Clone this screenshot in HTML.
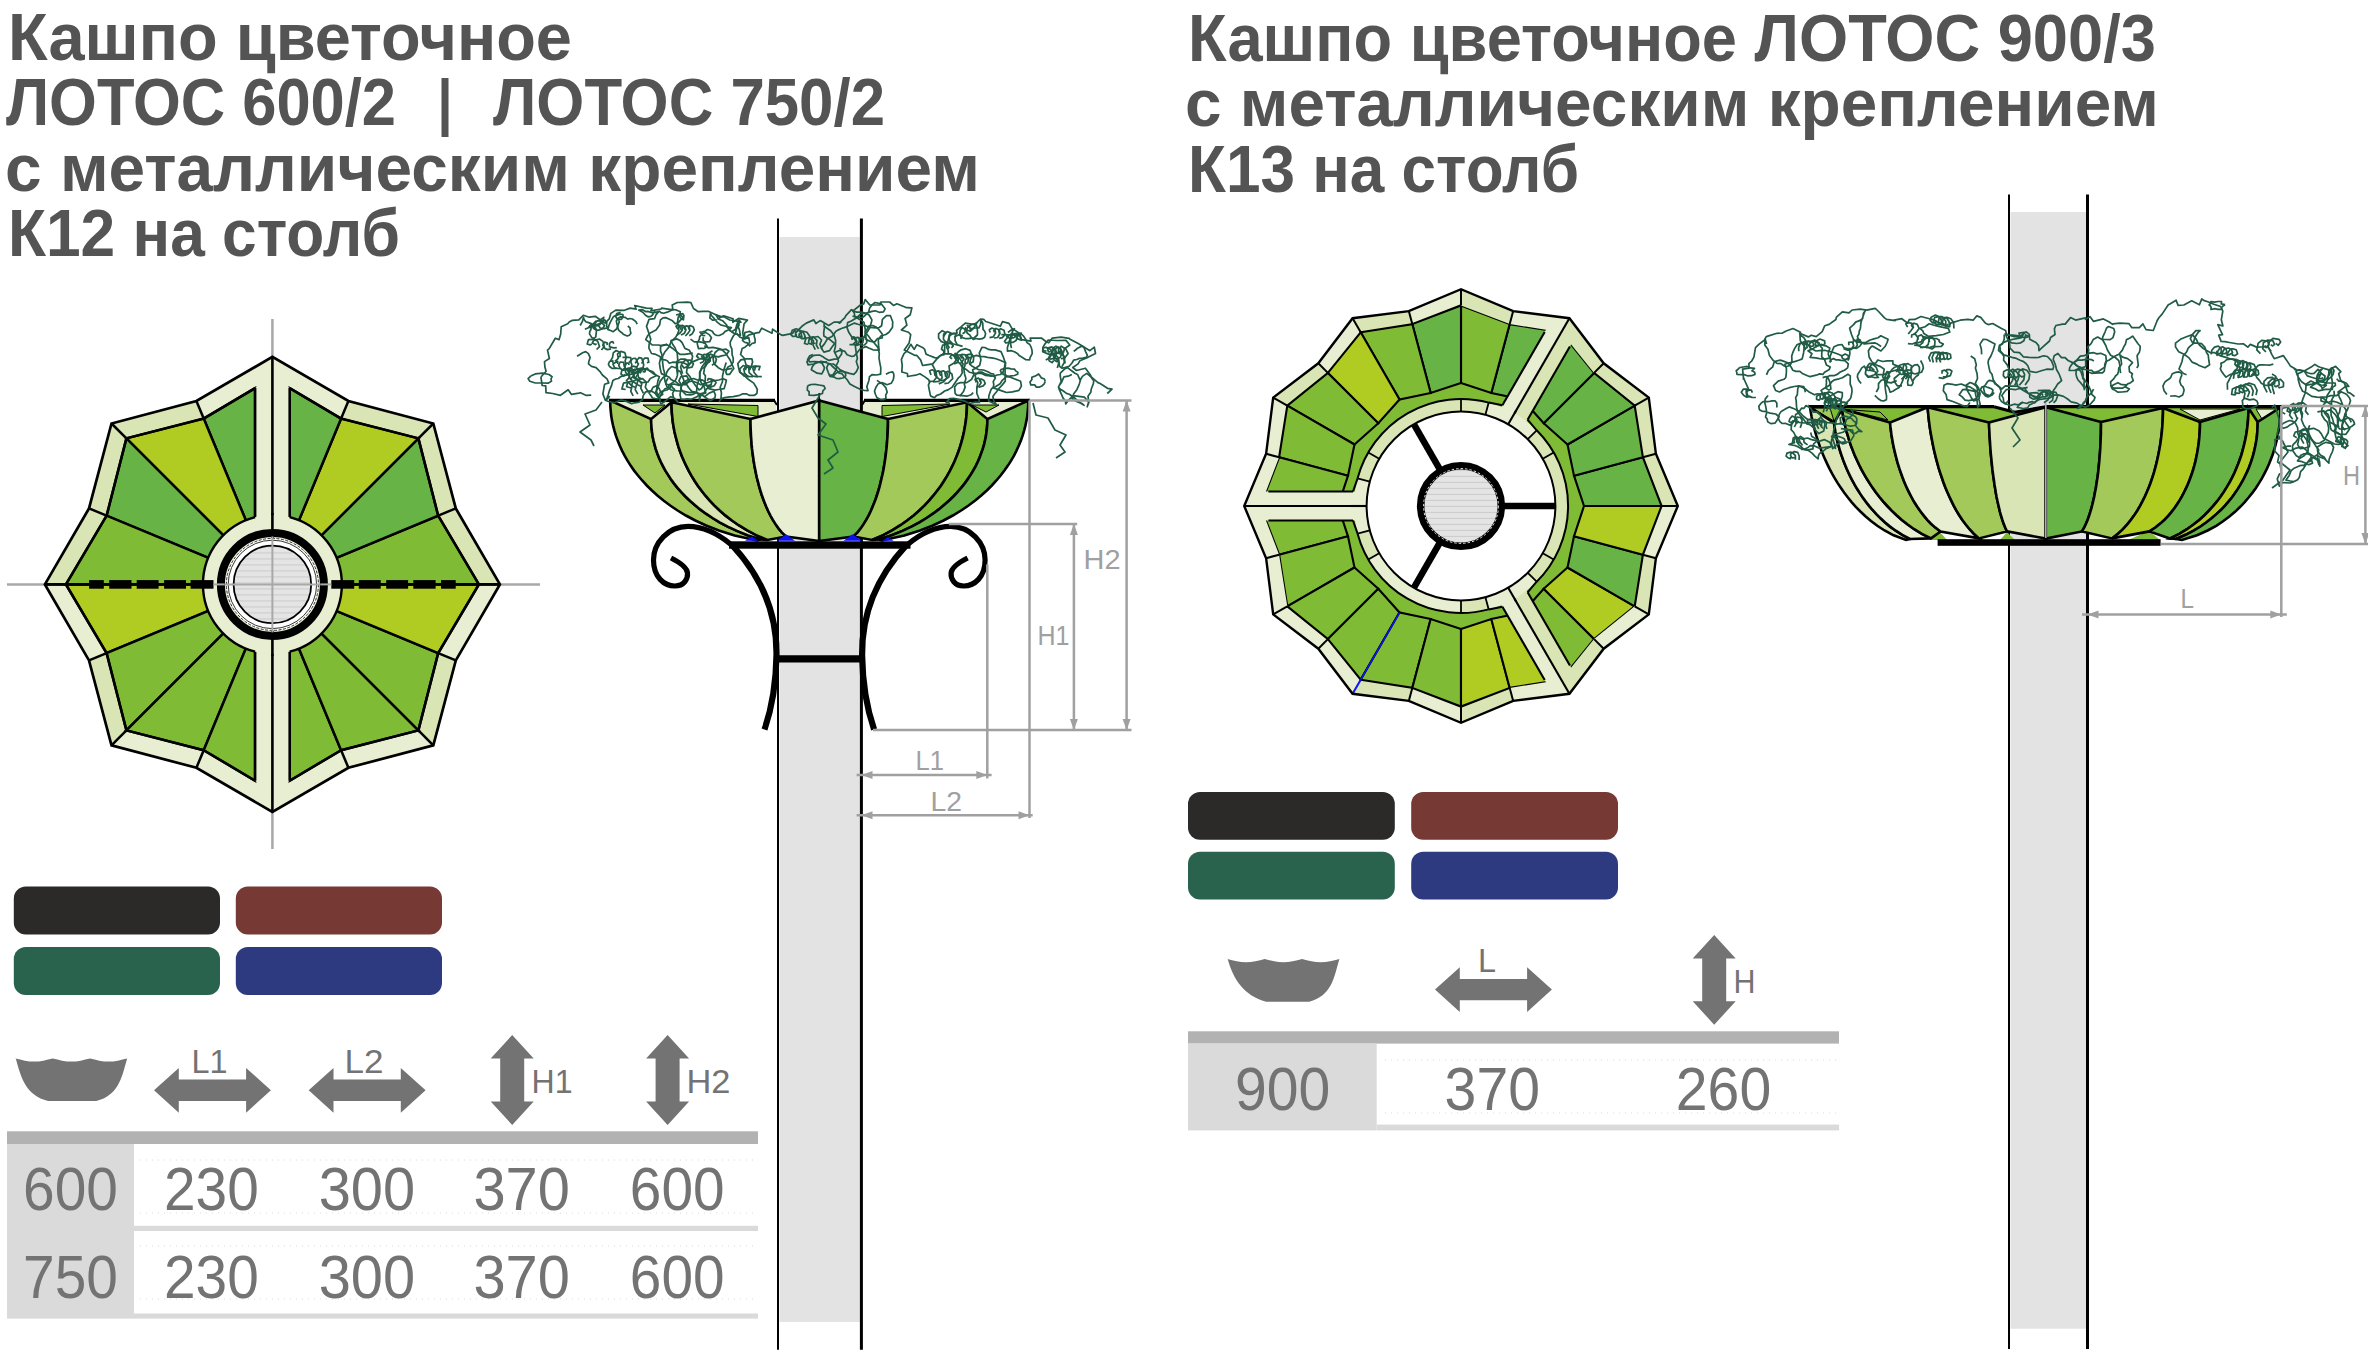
<!DOCTYPE html><html><head><meta charset="utf-8"><title>Лотос</title><style>html,body{margin:0;padding:0;background:#fff;overflow:hidden}svg{display:block}</style></head><body>
<svg width="2368" height="1367" viewBox="0 0 2368 1367">
<rect width="2368" height="1367" fill="#fff"/>
<text x="8" y="60" textLength="564" lengthAdjust="spacingAndGlyphs" font-family="Liberation Sans" font-weight="bold" font-size="66" fill="#545454">Кашпо цветочное</text>
<text x="6" y="125" textLength="390" lengthAdjust="spacingAndGlyphs" font-family="Liberation Sans" font-weight="bold" font-size="66" fill="#545454">ЛОТОС 600/2</text>
<rect x="441.5" y="78" width="7" height="59" fill="#545454"/>
<text x="493" y="125" textLength="392" lengthAdjust="spacingAndGlyphs" font-family="Liberation Sans" font-weight="bold" font-size="66" fill="#545454">ЛОТОС 750/2</text>
<text x="5" y="191" textLength="975" lengthAdjust="spacingAndGlyphs" font-family="Liberation Sans" font-weight="bold" font-size="66" fill="#545454">с металлическим креплением</text>
<text x="8" y="256" textLength="392" lengthAdjust="spacingAndGlyphs" font-family="Liberation Sans" font-weight="bold" font-size="66" fill="#545454">К12 на столб</text>
<text x="1188" y="61" textLength="968" lengthAdjust="spacingAndGlyphs" font-family="Liberation Sans" font-weight="bold" font-size="66" fill="#545454">Кашпо цветочное ЛОТОС 900/3</text>
<text x="1185" y="126" textLength="974" lengthAdjust="spacingAndGlyphs" font-family="Liberation Sans" font-weight="bold" font-size="66" fill="#545454">с металлическим креплением</text>
<text x="1188" y="192" textLength="391" lengthAdjust="spacingAndGlyphs" font-family="Liberation Sans" font-weight="bold" font-size="66" fill="#545454">К13 на столб</text>
<rect x="779.5" y="237" width="80.4" height="1085" fill="#e3e3e3"/>
<line x1="778" y1="218.5" x2="778" y2="1349.7" stroke="#000" stroke-width="2"/>
<line x1="861.4" y1="218.5" x2="861.4" y2="1349.7" stroke="#000" stroke-width="3"/>
<rect x="2010.5" y="212" width="75.5" height="1116.7" fill="#e3e3e3"/>
<line x1="2009" y1="194.5" x2="2009" y2="1349" stroke="#000" stroke-width="2"/>
<line x1="2087.5" y1="194.5" x2="2087.5" y2="1349" stroke="#000" stroke-width="3"/>
<line x1="7" y1="584.4" x2="540" y2="584.4" stroke="#a8a8a8" stroke-width="2.5"/>
<line x1="272.4" y1="319" x2="272.4" y2="849" stroke="#a8a8a8" stroke-width="2.5"/>
<polygon points="499.9,584.4 455.8,508.4 433.3,423.5 348.4,401 272.4,356.9 196.4,401 111.5,423.5 89,508.4 44.9,584.4 89,660.4 111.5,745.3 196.4,767.8 272.4,811.9 348.4,767.8 433.3,745.3 455.8,660.4" fill="#e7eed2"/>
<polygon points="499.9,584.4 455.8,508.4 438.2,515.7 478.9,584.4" fill="#d9e5b4"/>
<polygon points="455.8,508.4 433.3,423.5 418.4,438.4 438.2,515.7" fill="#d9e5b4"/>
<polygon points="433.3,423.5 348.4,401 341.1,418.6 418.4,438.4" fill="#d9e5b4"/>
<polygon points="348.4,401 272.4,356.9 272.4,377.9 341.1,418.6" fill="#e7eed2"/>
<polygon points="272.4,356.9 196.4,401 203.7,418.6 272.4,377.9" fill="#e7eed2"/>
<polygon points="196.4,401 111.5,423.5 126.4,438.4 203.7,418.6" fill="#d9e5b4"/>
<polygon points="111.5,423.5 89,508.4 106.6,515.7 126.4,438.4" fill="#d9e5b4"/>
<polygon points="89,508.4 44.9,584.4 65.9,584.4 106.6,515.7" fill="#d9e5b4"/>
<polygon points="44.9,584.4 89,660.4 106.6,653.1 65.9,584.4" fill="#e7eed2"/>
<polygon points="89,660.4 111.5,745.3 126.4,730.4 106.6,653.1" fill="#d9e5b4"/>
<polygon points="111.5,745.3 196.4,767.8 203.7,750.2 126.4,730.4" fill="#e7eed2"/>
<polygon points="196.4,767.8 272.4,811.9 272.4,790.9 203.7,750.2" fill="#e7eed2"/>
<polygon points="272.4,811.9 348.4,767.8 341.1,750.2 272.4,790.9" fill="#e7eed2"/>
<polygon points="348.4,767.8 433.3,745.3 418.4,730.4 341.1,750.2" fill="#e7eed2"/>
<polygon points="433.3,745.3 455.8,660.4 438.2,653.1 418.4,730.4" fill="#d9e5b4"/>
<polygon points="455.8,660.4 499.9,584.4 478.9,584.4 438.2,653.1" fill="#e7eed2"/>
<polygon points="272.4,584.4 478.9,584.4 438.2,515.7" fill="#7fbb34" stroke="#000" stroke-width="2.5" stroke-linejoin="miter"/>
<polygon points="272.4,584.4 438.2,515.7 418.4,438.4" fill="#67b346" stroke="#000" stroke-width="2.5" stroke-linejoin="miter"/>
<polygon points="272.4,584.4 418.4,438.4 341.1,418.6" fill="#b0cb22" stroke="#000" stroke-width="2.5" stroke-linejoin="miter"/>
<polygon points="289.7,542.6 341.1,418.6 289.7,388.1" fill="#67b346" stroke="#000" stroke-width="2.5" stroke-linejoin="miter"/>
<polygon points="255.1,388.1 203.7,418.6 255.1,542.6" fill="#67b346" stroke="#000" stroke-width="2.5" stroke-linejoin="miter"/>
<polygon points="272.4,584.4 203.7,418.6 126.4,438.4" fill="#b0cb22" stroke="#000" stroke-width="2.5" stroke-linejoin="miter"/>
<polygon points="272.4,584.4 126.4,438.4 106.6,515.7" fill="#67b346" stroke="#000" stroke-width="2.5" stroke-linejoin="miter"/>
<polygon points="272.4,584.4 106.6,515.7 65.9,584.4" fill="#7fbb34" stroke="#000" stroke-width="2.5" stroke-linejoin="miter"/>
<polygon points="272.4,584.4 65.9,584.4 106.6,653.1" fill="#b0cb22" stroke="#000" stroke-width="2.5" stroke-linejoin="miter"/>
<polygon points="272.4,584.4 106.6,653.1 126.4,730.4" fill="#7fbb34" stroke="#000" stroke-width="2.5" stroke-linejoin="miter"/>
<polygon points="272.4,584.4 126.4,730.4 203.7,750.2" fill="#7fbb34" stroke="#000" stroke-width="2.5" stroke-linejoin="miter"/>
<polygon points="255.1,626.2 203.7,750.2 255.1,780.7" fill="#7fbb34" stroke="#000" stroke-width="2.5" stroke-linejoin="miter"/>
<polygon points="289.7,780.7 341.1,750.2 289.7,626.2" fill="#7fbb34" stroke="#000" stroke-width="2.5" stroke-linejoin="miter"/>
<polygon points="272.4,584.4 341.1,750.2 418.4,730.4" fill="#7fbb34" stroke="#000" stroke-width="2.5" stroke-linejoin="miter"/>
<polygon points="272.4,584.4 418.4,730.4 438.2,653.1" fill="#7fbb34" stroke="#000" stroke-width="2.5" stroke-linejoin="miter"/>
<polygon points="272.4,584.4 438.2,653.1 478.9,584.4" fill="#b0cb22" stroke="#000" stroke-width="2.5" stroke-linejoin="miter"/>
<polygon points="255.1,388.1 272.4,377.9 289.7,388.1 289.7,780.7 272.4,790.9 255.1,780.7" fill="#e7eed2"/>
<line x1="255.1" y1="388.1" x2="255.1" y2="780.7" stroke="#000" stroke-width="2.6"/>
<line x1="289.7" y1="388.1" x2="289.7" y2="780.7" stroke="#000" stroke-width="2.6"/>
<line x1="499.9" y1="584.4" x2="478.9" y2="584.4" stroke="#000" stroke-width="2.5"/>
<line x1="455.8" y1="508.4" x2="438.2" y2="515.7" stroke="#000" stroke-width="2.5"/>
<line x1="433.3" y1="423.5" x2="418.4" y2="438.4" stroke="#000" stroke-width="2.5"/>
<line x1="348.4" y1="401" x2="341.1" y2="418.6" stroke="#000" stroke-width="2.5"/>
<line x1="196.4" y1="401" x2="203.7" y2="418.6" stroke="#000" stroke-width="2.5"/>
<line x1="111.5" y1="423.5" x2="126.4" y2="438.4" stroke="#000" stroke-width="2.5"/>
<line x1="89" y1="508.4" x2="106.6" y2="515.7" stroke="#000" stroke-width="2.5"/>
<line x1="44.9" y1="584.4" x2="65.9" y2="584.4" stroke="#000" stroke-width="2.5"/>
<line x1="89" y1="660.4" x2="106.6" y2="653.1" stroke="#000" stroke-width="2.5"/>
<line x1="111.5" y1="745.3" x2="126.4" y2="730.4" stroke="#000" stroke-width="2.5"/>
<line x1="196.4" y1="767.8" x2="203.7" y2="750.2" stroke="#000" stroke-width="2.5"/>
<line x1="348.4" y1="767.8" x2="341.1" y2="750.2" stroke="#000" stroke-width="2.5"/>
<line x1="433.3" y1="745.3" x2="418.4" y2="730.4" stroke="#000" stroke-width="2.5"/>
<line x1="455.8" y1="660.4" x2="438.2" y2="653.1" stroke="#000" stroke-width="2.5"/>
<line x1="478.9" y1="584.4" x2="438.2" y2="515.7" stroke="#000" stroke-width="2.5"/>
<line x1="438.2" y1="515.7" x2="418.4" y2="438.4" stroke="#000" stroke-width="2.5"/>
<line x1="418.4" y1="438.4" x2="341.1" y2="418.6" stroke="#000" stroke-width="2.5"/>
<line x1="341.1" y1="418.6" x2="289.7" y2="388.1" stroke="#000" stroke-width="2.5"/>
<line x1="255.1" y1="388.1" x2="203.7" y2="418.6" stroke="#000" stroke-width="2.5"/>
<line x1="203.7" y1="418.6" x2="126.4" y2="438.4" stroke="#000" stroke-width="2.5"/>
<line x1="126.4" y1="438.4" x2="106.6" y2="515.7" stroke="#000" stroke-width="2.5"/>
<line x1="106.6" y1="515.7" x2="65.9" y2="584.4" stroke="#000" stroke-width="2.5"/>
<line x1="65.9" y1="584.4" x2="106.6" y2="653.1" stroke="#000" stroke-width="2.5"/>
<line x1="106.6" y1="653.1" x2="126.4" y2="730.4" stroke="#000" stroke-width="2.5"/>
<line x1="126.4" y1="730.4" x2="203.7" y2="750.2" stroke="#000" stroke-width="2.5"/>
<line x1="203.7" y1="750.2" x2="255.1" y2="780.7" stroke="#000" stroke-width="2.5"/>
<line x1="289.7" y1="780.7" x2="341.1" y2="750.2" stroke="#000" stroke-width="2.5"/>
<line x1="341.1" y1="750.2" x2="418.4" y2="730.4" stroke="#000" stroke-width="2.5"/>
<line x1="418.4" y1="730.4" x2="438.2" y2="653.1" stroke="#000" stroke-width="2.5"/>
<line x1="438.2" y1="653.1" x2="478.9" y2="584.4" stroke="#000" stroke-width="2.5"/>
<polygon points="499.9,584.4 455.8,508.4 433.3,423.5 348.4,401 272.4,356.9 196.4,401 111.5,423.5 89,508.4 44.9,584.4 89,660.4 111.5,745.3 196.4,767.8 272.4,811.9 348.4,767.8 433.3,745.3 455.8,660.4" fill="none" stroke="#000" stroke-width="2.7" stroke-linejoin="miter"/>
<line x1="272.4" y1="356.9" x2="272.4" y2="811.9" stroke="#000" stroke-width="2.6"/>
<line x1="44.9" y1="584.4" x2="499.9" y2="584.4" stroke="#000" stroke-width="2.6"/>
<circle cx="272.4" cy="584.4" r="69.5" fill="#e7eed2"/>
<path d="M255.1,651.7 A69.5,69.5 0 0 1 255.1,517.1" fill="none" stroke="#000" stroke-width="2.4"/>
<path d="M289.7,517.1 A69.5,69.5 0 0 1 289.7,651.7" fill="none" stroke="#000" stroke-width="2.4"/>
<line x1="272.4" y1="512.9" x2="272.4" y2="655.9" stroke="#000" stroke-width="2.6"/>
<rect x="331.3" y="580.1" width="22.9" height="8.6" fill="#000"/>
<rect x="358.8" y="580.1" width="21.9" height="8.6" fill="#000"/>
<rect x="386.2" y="580.1" width="21.9" height="8.6" fill="#000"/>
<rect x="413.3" y="580.1" width="22.3" height="8.6" fill="#000"/>
<rect x="441" y="580.1" width="14.7" height="8.6" fill="#000"/>
<rect x="190.6" y="580.1" width="22.9" height="8.6" fill="#000"/>
<rect x="164.1" y="580.1" width="21.9" height="8.6" fill="#000"/>
<rect x="136.7" y="580.1" width="21.9" height="8.6" fill="#000"/>
<rect x="109.2" y="580.1" width="22.3" height="8.6" fill="#000"/>
<rect x="89.1" y="580.1" width="14.7" height="8.6" fill="#000"/>
<circle cx="272.4" cy="584.4" r="51.5" fill="none" stroke="#000" stroke-width="8"/>
<circle cx="272.4" cy="584.4" r="46.3" fill="#fff" stroke="none"/>
<circle cx="272.4" cy="584.4" r="46" fill="none" stroke="#000" stroke-width="0.8" stroke-dasharray="3 1.5"/>
<circle cx="272.4" cy="584.4" r="44.2" fill="none" stroke="#000" stroke-width="0.8"/>
<clipPath id="hl"><circle cx="272.4" cy="584.4" r="38.5"/></clipPath>
<circle cx="272.4" cy="584.4" r="38.5" fill="#e4e4e4"/>
<g clip-path="url(#hl)" stroke="#c4c4c4" stroke-width="0.8">
<line x1="233.9" y1="546.9" x2="310.9" y2="546.9"/>
<line x1="233.9" y1="552.9" x2="310.9" y2="552.9"/>
<line x1="233.9" y1="558.9" x2="310.9" y2="558.9"/>
<line x1="233.9" y1="564.9" x2="310.9" y2="564.9"/>
<line x1="233.9" y1="570.9" x2="310.9" y2="570.9"/>
<line x1="233.9" y1="576.9" x2="310.9" y2="576.9"/>
<line x1="233.9" y1="582.9" x2="310.9" y2="582.9"/>
<line x1="233.9" y1="588.9" x2="310.9" y2="588.9"/>
<line x1="233.9" y1="594.9" x2="310.9" y2="594.9"/>
<line x1="233.9" y1="600.9" x2="310.9" y2="600.9"/>
<line x1="233.9" y1="606.9" x2="310.9" y2="606.9"/>
<line x1="233.9" y1="612.9" x2="310.9" y2="612.9"/>
<line x1="233.9" y1="618.9" x2="310.9" y2="618.9"/>
</g>
<circle cx="272.4" cy="584.4" r="38.8" fill="none" stroke="#000" stroke-width="1.8"/>
<line x1="224.4" y1="584.4" x2="320.4" y2="584.4" stroke="#a8a8a8" stroke-width="2"/>
<line x1="272.4" y1="536.4" x2="272.4" y2="632.4" stroke="#a8a8a8" stroke-width="2"/>
<line x1="320.4" y1="584.4" x2="331.3" y2="584.4" stroke="#a8a8a8" stroke-width="2"/>
<line x1="224.4" y1="584.4" x2="213.5" y2="584.4" stroke="#a8a8a8" stroke-width="2"/>
<polygon points="1677.8,506 1655.9,453.8 1648.8,397.6 1603.7,363.3 1569.4,318.2 1513.2,311.1 1461,289.2 1408.8,311.1 1352.6,318.2 1318.3,363.3 1273.2,397.6 1266.1,453.8 1244.2,506 1266.1,558.2 1273.2,614.4 1318.3,648.7 1352.6,693.8 1408.8,700.9 1461,722.8 1513.2,700.9 1569.4,693.8 1603.7,648.7 1648.8,614.4 1655.9,558.2" fill="#e7eed2"/>
<polygon points="1677.8,506 1655.9,453.8 1642.9,457.3 1661.6,506" fill="#d9e5b4"/>
<polygon points="1655.9,453.8 1648.8,397.6 1634.7,405.7 1642.9,457.3" fill="#d9e5b4"/>
<polygon points="1648.8,397.6 1603.7,363.3 1594.1,372.9 1634.7,405.7" fill="#d9e5b4"/>
<polygon points="1603.7,363.3 1569.4,318.2 1561.3,332.3 1594.1,372.9" fill="#d9e5b4"/>
<polygon points="1569.4,318.2 1513.2,311.1 1509.7,324.1 1561.3,332.3" fill="#e7eed2"/>
<polygon points="1513.2,311.1 1461,289.2 1461,305.4 1509.7,324.1" fill="#d9e5b4"/>
<polygon points="1461,289.2 1408.8,311.1 1412.3,324.1 1461,305.4" fill="#e7eed2"/>
<polygon points="1408.8,311.1 1352.6,318.2 1360.7,332.3 1412.3,324.1" fill="#d9e5b4"/>
<polygon points="1352.6,318.2 1318.3,363.3 1327.9,372.9 1360.7,332.3" fill="#e7eed2"/>
<polygon points="1318.3,363.3 1273.2,397.6 1287.3,405.7 1327.9,372.9" fill="#d9e5b4"/>
<polygon points="1273.2,397.6 1266.1,453.8 1279.1,457.3 1287.3,405.7" fill="#e7eed2"/>
<polygon points="1266.1,453.8 1244.2,506 1260.4,506 1279.1,457.3" fill="#e7eed2"/>
<polygon points="1244.2,506 1266.1,558.2 1279.1,554.7 1260.4,506" fill="#e7eed2"/>
<polygon points="1266.1,558.2 1273.2,614.4 1287.3,606.3 1279.1,554.7" fill="#e7eed2"/>
<polygon points="1273.2,614.4 1318.3,648.7 1327.9,639.1 1287.3,606.3" fill="#e7eed2"/>
<polygon points="1318.3,648.7 1352.6,693.8 1360.7,679.7 1327.9,639.1" fill="#e7eed2"/>
<polygon points="1352.6,693.8 1408.8,700.9 1412.3,687.9 1360.7,679.7" fill="#d9e5b4"/>
<polygon points="1408.8,700.9 1461,722.8 1461,706.6 1412.3,687.9" fill="#e7eed2"/>
<polygon points="1461,722.8 1513.2,700.9 1509.7,687.9 1461,706.6" fill="#d9e5b4"/>
<polygon points="1513.2,700.9 1569.4,693.8 1561.3,679.7 1509.7,687.9" fill="#e7eed2"/>
<polygon points="1569.4,693.8 1603.7,648.7 1594.1,639.1 1561.3,679.7" fill="#d9e5b4"/>
<polygon points="1603.7,648.7 1648.8,614.4 1634.7,606.3 1594.1,639.1" fill="#e7eed2"/>
<polygon points="1648.8,614.4 1655.9,558.2 1642.9,554.7 1634.7,606.3" fill="#d9e5b4"/>
<polygon points="1655.9,558.2 1677.8,506 1661.6,506 1642.9,554.7" fill="#e7eed2"/>
<polygon points="1661.6,506 1642.9,457.3 1634.7,405.7 1594.1,372.9 1561.3,332.3 1509.7,324.1 1461,305.4 1412.3,324.1 1360.7,332.3 1327.9,372.9 1287.3,405.7 1279.1,457.3 1260.4,506 1279.1,554.7 1287.3,606.3 1327.9,639.1 1360.7,679.7 1412.3,687.9 1461,706.6 1509.7,687.9 1561.3,679.7 1594.1,639.1 1634.7,606.3 1642.9,554.7" fill="#7fbb34"/>
<polygon points="1584,506 1661.6,506 1642.9,457.3 1574,475.7" fill="#67b346" stroke="#000" stroke-width="2.1" stroke-linejoin="miter"/>
<polygon points="1574,475.7 1642.9,457.3 1634.7,405.7 1567.5,444.5" fill="#67b346" stroke="#000" stroke-width="2.1" stroke-linejoin="miter"/>
<polygon points="1567.5,444.5 1634.7,405.7 1594.1,372.9 1543.7,423.3" fill="#67b346" stroke="#000" stroke-width="2.1" stroke-linejoin="miter"/>
<polygon points="1543.7,423.3 1594.1,372.9 1561.3,332.3 1522.5,399.5" fill="#67b346" stroke="#000" stroke-width="2.1" stroke-linejoin="miter"/>
<polygon points="1522.5,399.5 1561.3,332.3 1509.7,324.1 1491.3,393" fill="#67b346" stroke="#000" stroke-width="2.1" stroke-linejoin="miter"/>
<polygon points="1491.3,393 1509.7,324.1 1461,305.4 1461,383" fill="#7fbb34" stroke="#000" stroke-width="2.1" stroke-linejoin="miter"/>
<polygon points="1461,383 1461,305.4 1412.3,324.1 1430.7,393" fill="#67b346" stroke="#000" stroke-width="2.1" stroke-linejoin="miter"/>
<polygon points="1430.7,393 1412.3,324.1 1360.7,332.3 1399.5,399.5" fill="#7fbb34" stroke="#000" stroke-width="2.1" stroke-linejoin="miter"/>
<polygon points="1399.5,399.5 1360.7,332.3 1327.9,372.9 1378.3,423.3" fill="#b0cb22" stroke="#000" stroke-width="2.1" stroke-linejoin="miter"/>
<polygon points="1378.3,423.3 1327.9,372.9 1287.3,405.7 1354.5,444.5" fill="#7fbb34" stroke="#000" stroke-width="2.1" stroke-linejoin="miter"/>
<polygon points="1354.5,444.5 1287.3,405.7 1279.1,457.3 1348,475.7" fill="#7fbb34" stroke="#000" stroke-width="2.1" stroke-linejoin="miter"/>
<polygon points="1348,475.7 1279.1,457.3 1260.4,506 1338,506" fill="#7fbb34" stroke="#000" stroke-width="2.1" stroke-linejoin="miter"/>
<polygon points="1338,506 1260.4,506 1279.1,554.7 1348,536.3" fill="#7fbb34" stroke="#000" stroke-width="2.1" stroke-linejoin="miter"/>
<polygon points="1348,536.3 1279.1,554.7 1287.3,606.3 1354.5,567.5" fill="#7fbb34" stroke="#000" stroke-width="2.1" stroke-linejoin="miter"/>
<polygon points="1354.5,567.5 1287.3,606.3 1327.9,639.1 1378.3,588.7" fill="#7fbb34" stroke="#000" stroke-width="2.1" stroke-linejoin="miter"/>
<polygon points="1378.3,588.7 1327.9,639.1 1360.7,679.7 1399.5,612.5" fill="#7fbb34" stroke="#000" stroke-width="2.1" stroke-linejoin="miter"/>
<polygon points="1399.5,612.5 1360.7,679.7 1412.3,687.9 1430.7,619" fill="#7fbb34" stroke="#000" stroke-width="2.1" stroke-linejoin="miter"/>
<polygon points="1430.7,619 1412.3,687.9 1461,706.6 1461,629" fill="#7fbb34" stroke="#000" stroke-width="2.1" stroke-linejoin="miter"/>
<polygon points="1461,629 1461,706.6 1509.7,687.9 1491.3,619" fill="#b0cb22" stroke="#000" stroke-width="2.1" stroke-linejoin="miter"/>
<polygon points="1491.3,619 1509.7,687.9 1561.3,679.7 1522.5,612.5" fill="#b0cb22" stroke="#000" stroke-width="2.1" stroke-linejoin="miter"/>
<polygon points="1522.5,612.5 1561.3,679.7 1594.1,639.1 1543.7,588.7" fill="#7fbb34" stroke="#000" stroke-width="2.1" stroke-linejoin="miter"/>
<polygon points="1543.7,588.7 1594.1,639.1 1634.7,606.3 1567.5,567.5" fill="#b0cb22" stroke="#000" stroke-width="2.1" stroke-linejoin="miter"/>
<polygon points="1567.5,567.5 1634.7,606.3 1642.9,554.7 1574,536.3" fill="#67b346" stroke="#000" stroke-width="2.1" stroke-linejoin="miter"/>
<polygon points="1574,536.3 1642.9,554.7 1661.6,506 1584,506" fill="#b0cb22" stroke="#000" stroke-width="2.1" stroke-linejoin="miter"/>
<polygon points="1513.5,415.1 1566.4,323.4 1579,330.7 1526.1,422.3" fill="#d9e5b4"/>
<polygon points="1513.5,415.1 1566.4,323.4 1553.8,316.2 1500.9,407.8" fill="#e7eed2"/>
<polygon points="1356,506 1250.2,506 1250.2,491.5 1356,491.5" fill="#e7eed2"/>
<polygon points="1356,506 1250.2,506 1250.2,520.5 1356,520.5" fill="#e7eed2"/>
<polygon points="1513.5,596.9 1566.4,688.6 1553.8,695.8 1500.9,604.2" fill="#e7eed2"/>
<polygon points="1513.5,596.9 1566.4,688.6 1579,681.3 1526.1,589.7" fill="#d9e5b4"/>
<polygon points="1603.7,363.3 1569.4,318.2 1561.3,332.3 1594.1,372.9" fill="#d9e5b4"/>
<polygon points="1569.4,318.2 1513.2,311.1 1509.7,324.1 1561.3,332.3" fill="#e7eed2"/>
<polygon points="1513.2,311.1 1461,289.2 1461,305.4 1509.7,324.1" fill="#d9e5b4"/>
<polygon points="1266.1,453.8 1244.2,506 1260.4,506 1279.1,457.3" fill="#e7eed2"/>
<polygon points="1244.2,506 1266.1,558.2 1279.1,554.7 1260.4,506" fill="#e7eed2"/>
<polygon points="1266.1,558.2 1273.2,614.4 1287.3,606.3 1279.1,554.7" fill="#e7eed2"/>
<polygon points="1513.2,700.9 1569.4,693.8 1561.3,679.7 1509.7,687.9" fill="#e7eed2"/>
<polygon points="1569.4,693.8 1603.7,648.7 1594.1,639.1 1561.3,679.7" fill="#d9e5b4"/>
<polygon points="1603.7,648.7 1648.8,614.4 1634.7,606.3 1594.1,639.1" fill="#e7eed2"/>
<line x1="1527.6" y1="419.7" x2="1569.9" y2="346.5" stroke="#000" stroke-width="2.1"/>
<line x1="1502.4" y1="405.2" x2="1544.7" y2="332" stroke="#000" stroke-width="2.1"/>
<line x1="1508.2" y1="424.2" x2="1569.4" y2="318.2" stroke="#000" stroke-width="2.1"/>
<line x1="1353" y1="491.5" x2="1268.4" y2="491.5" stroke="#000" stroke-width="2.1"/>
<line x1="1353" y1="520.5" x2="1268.4" y2="520.5" stroke="#000" stroke-width="2.1"/>
<line x1="1366.6" y1="506" x2="1244.2" y2="506" stroke="#000" stroke-width="2.1"/>
<line x1="1502.4" y1="606.8" x2="1544.7" y2="680" stroke="#000" stroke-width="2.1"/>
<line x1="1527.6" y1="592.3" x2="1569.9" y2="665.5" stroke="#000" stroke-width="2.1"/>
<line x1="1508.2" y1="587.8" x2="1569.4" y2="693.8" stroke="#000" stroke-width="2.1"/>
<line x1="1677.8" y1="506" x2="1661.6" y2="506" stroke="#000" stroke-width="2.0"/>
<line x1="1655.9" y1="453.8" x2="1642.9" y2="457.3" stroke="#000" stroke-width="2.0"/>
<line x1="1648.8" y1="397.6" x2="1634.7" y2="405.7" stroke="#000" stroke-width="2.0"/>
<line x1="1603.7" y1="363.3" x2="1594.1" y2="372.9" stroke="#000" stroke-width="2.0"/>
<line x1="1513.2" y1="311.1" x2="1509.7" y2="324.1" stroke="#000" stroke-width="2.0"/>
<line x1="1461" y1="289.2" x2="1461" y2="305.4" stroke="#000" stroke-width="2.0"/>
<line x1="1408.8" y1="311.1" x2="1412.3" y2="324.1" stroke="#000" stroke-width="2.0"/>
<line x1="1352.6" y1="318.2" x2="1360.7" y2="332.3" stroke="#000" stroke-width="2.0"/>
<line x1="1318.3" y1="363.3" x2="1327.9" y2="372.9" stroke="#000" stroke-width="2.0"/>
<line x1="1273.2" y1="397.6" x2="1287.3" y2="405.7" stroke="#000" stroke-width="2.0"/>
<line x1="1266.1" y1="453.8" x2="1279.1" y2="457.3" stroke="#000" stroke-width="2.0"/>
<line x1="1266.1" y1="558.2" x2="1279.1" y2="554.7" stroke="#000" stroke-width="2.0"/>
<line x1="1273.2" y1="614.4" x2="1287.3" y2="606.3" stroke="#000" stroke-width="2.0"/>
<line x1="1318.3" y1="648.7" x2="1327.9" y2="639.1" stroke="#000" stroke-width="2.0"/>
<line x1="1352.6" y1="693.8" x2="1360.7" y2="679.7" stroke="#0a14ff" stroke-width="2.0"/>
<line x1="1408.8" y1="700.9" x2="1412.3" y2="687.9" stroke="#000" stroke-width="2.0"/>
<line x1="1461" y1="722.8" x2="1461" y2="706.6" stroke="#000" stroke-width="2.0"/>
<line x1="1513.2" y1="700.9" x2="1509.7" y2="687.9" stroke="#000" stroke-width="2.0"/>
<line x1="1603.7" y1="648.7" x2="1594.1" y2="639.1" stroke="#000" stroke-width="2.0"/>
<line x1="1648.8" y1="614.4" x2="1634.7" y2="606.3" stroke="#000" stroke-width="2.0"/>
<line x1="1655.9" y1="558.2" x2="1642.9" y2="554.7" stroke="#000" stroke-width="2.0"/>
<line x1="1399.5" y1="612.5" x2="1360.7" y2="679.7" stroke="#0a14ff" stroke-width="1.5"/>
<polygon points="1677.8,506 1655.9,453.8 1648.8,397.6 1603.7,363.3 1569.4,318.2 1513.2,311.1 1461,289.2 1408.8,311.1 1352.6,318.2 1318.3,363.3 1273.2,397.6 1266.1,453.8 1244.2,506 1266.1,558.2 1273.2,614.4 1318.3,648.7 1352.6,693.8 1408.8,700.9 1461,722.8 1513.2,700.9 1569.4,693.8 1603.7,648.7 1648.8,614.4 1655.9,558.2" fill="none" stroke="#000" stroke-width="2.4" stroke-linejoin="miter"/>
<polygon points="1553.7,452.5 1550.7,447.7 1547.6,443.1 1544.2,438.7 1540.5,434.4 1536.7,430.3 1527.8,439.2 1531.2,442.8 1534.4,446.6 1537.4,450.5 1540.2,454.6 1542.8,458.8" fill="#d9e5b4"/>
<polygon points="1536.7,430.3 1532.6,426.5 1528.3,422.8 1523.9,419.4 1519.3,416.3 1514.5,413.3 1509.6,410.7 1504.5,408.3 1499.3,406.1 1494.1,404.2 1488.7,402.6 1485.4,414.8 1490.2,416.2 1494.8,417.9 1499.4,419.8 1503.9,421.9 1508.2,424.2 1512.4,426.8 1516.5,429.6 1520.4,432.6 1524.2,435.8 1527.8,439.2" fill="#e7eed2"/>
<polygon points="1488.7,402.6 1483.2,401.3 1477.7,400.3 1472.2,399.6 1466.6,399.1 1461,399 1461,411.6 1465.9,411.7 1470.9,412.1 1475.8,412.8 1480.6,413.7 1485.4,414.8" fill="#d9e5b4"/>
<polygon points="1461,399 1455.4,399.1 1449.8,399.6 1444.3,400.3 1438.8,401.3 1433.3,402.6 1427.9,404.2 1422.7,406.1 1417.5,408.3 1412.4,410.7 1407.5,413.3 1402.7,416.3 1398.1,419.4 1393.7,422.8 1389.4,426.5 1385.3,430.3 1381.5,434.4 1377.8,438.7 1374.4,443.1 1371.3,447.7 1368.3,452.5 1379.2,458.8 1381.8,454.6 1384.6,450.5 1387.6,446.6 1390.8,442.8 1394.2,439.2 1397.8,435.8 1401.6,432.6 1405.5,429.6 1409.6,426.8 1413.8,424.2 1418.1,421.9 1422.6,419.8 1427.2,417.9 1431.8,416.2 1436.6,414.8 1441.4,413.7 1446.2,412.8 1451.1,412.1 1456.1,411.7 1461,411.6" fill="#d9e5b4"/>
<polygon points="1368.3,452.5 1365.7,457.4 1363.3,462.5 1361.1,467.7 1359.2,472.9 1357.6,478.3 1369.8,481.6 1371.2,476.8 1372.9,472.2 1374.8,467.6 1376.9,463.1 1379.2,458.8" fill="#d9e5b4"/>
<polygon points="1357.6,478.3 1356.3,483.8 1355.3,489.3 1354.6,494.8 1354.1,500.4 1354,506 1354.1,511.6 1354.6,517.2 1355.3,522.7 1356.3,528.2 1357.6,533.7 1369.8,530.4 1368.7,525.6 1367.8,520.8 1367.1,515.9 1366.7,510.9 1366.6,506 1366.7,501.1 1367.1,496.1 1367.8,491.2 1368.7,486.4 1369.8,481.6" fill="#e7eed2"/>
<polygon points="1357.6,533.7 1359.2,539.1 1361.1,544.3 1363.3,549.5 1365.7,554.6 1368.3,559.5 1379.2,553.2 1376.9,548.9 1374.8,544.4 1372.9,539.8 1371.2,535.2 1369.8,530.4" fill="#d9e5b4"/>
<polygon points="1368.3,559.5 1371.3,564.3 1374.4,568.9 1377.8,573.3 1381.5,577.6 1385.3,581.7 1389.4,585.5 1393.7,589.2 1398.1,592.6 1402.7,595.7 1407.5,598.7 1412.4,601.3 1417.5,603.7 1422.7,605.9 1427.9,607.8 1433.3,609.4 1438.8,610.7 1444.3,611.7 1449.8,612.4 1455.4,612.9 1461,613 1461,600.4 1456.1,600.3 1451.1,599.9 1446.2,599.2 1441.4,598.3 1436.6,597.2 1431.8,595.8 1427.2,594.1 1422.6,592.2 1418.1,590.1 1413.8,587.8 1409.6,585.2 1405.5,582.4 1401.6,579.4 1397.8,576.2 1394.2,572.8 1390.8,569.2 1387.6,565.4 1384.6,561.5 1381.8,557.4 1379.2,553.2" fill="#e7eed2"/>
<polygon points="1461,613 1466.6,612.9 1472.2,612.4 1477.7,611.7 1483.2,610.7 1488.7,609.4 1485.4,597.2 1480.6,598.3 1475.8,599.2 1470.9,599.9 1465.9,600.3 1461,600.4" fill="#d9e5b4"/>
<polygon points="1488.7,609.4 1494.1,607.8 1499.3,605.9 1504.5,603.7 1509.6,601.3 1514.5,598.7 1519.3,595.7 1523.9,592.6 1528.3,589.2 1532.6,585.5 1536.7,581.7 1527.8,572.8 1524.2,576.2 1520.4,579.4 1516.5,582.4 1512.4,585.2 1508.2,587.8 1503.9,590.1 1499.4,592.2 1494.8,594.1 1490.2,595.8 1485.4,597.2" fill="#e7eed2"/>
<polygon points="1536.7,581.7 1540.5,577.6 1544.2,573.3 1547.6,568.9 1550.7,564.3 1553.7,559.5 1542.8,553.2 1540.2,557.4 1537.4,561.5 1534.4,565.4 1531.2,569.2 1527.8,572.8" fill="#d9e5b4"/>
<polygon points="1553.7,559.5 1556.3,554.6 1558.7,549.5 1560.9,544.3 1562.8,539.1 1564.4,533.7 1565.7,528.2 1566.7,522.7 1567.4,517.2 1567.9,511.6 1568,506 1567.9,500.4 1567.4,494.8 1566.7,489.3 1565.7,483.8 1564.4,478.3 1562.8,472.9 1560.9,467.7 1558.7,462.5 1556.3,457.4 1553.7,452.5 1542.8,458.8 1545.1,463.1 1547.2,467.6 1549.1,472.2 1550.8,476.8 1552.2,481.6 1553.3,486.4 1554.2,491.2 1554.9,496.1 1555.3,501.1 1555.4,506 1555.3,510.9 1554.9,515.9 1554.2,520.8 1553.3,525.6 1552.2,530.4 1550.8,535.2 1549.1,539.8 1547.2,544.4 1545.1,548.9 1542.8,553.2" fill="#d9e5b4"/>
<path d="M1488.7,402.6 A107,107 0 0 0 1357.6,478.3" fill="none" stroke="#000" stroke-width="2"/>
<path d="M1357.6,533.7 A107,107 0 0 0 1488.7,609.4" fill="none" stroke="#000" stroke-width="2"/>
<path d="M1536.7,581.7 A107,107 0 0 0 1536.7,430.3" fill="none" stroke="#000" stroke-width="2"/>
<line x1="1542.8" y1="458.8" x2="1553.7" y2="452.5" stroke="#000" stroke-width="1.8"/>
<line x1="1527.8" y1="439.2" x2="1536.7" y2="430.3" stroke="#000" stroke-width="1.8"/>
<line x1="1485.4" y1="414.8" x2="1488.7" y2="402.6" stroke="#000" stroke-width="1.8"/>
<line x1="1461" y1="411.6" x2="1461" y2="399" stroke="#000" stroke-width="1.8"/>
<line x1="1379.2" y1="458.8" x2="1368.3" y2="452.5" stroke="#000" stroke-width="1.8"/>
<line x1="1369.8" y1="481.6" x2="1357.6" y2="478.3" stroke="#000" stroke-width="1.8"/>
<line x1="1369.8" y1="530.4" x2="1357.6" y2="533.7" stroke="#000" stroke-width="1.8"/>
<line x1="1379.2" y1="553.2" x2="1368.3" y2="559.5" stroke="#000" stroke-width="1.8"/>
<line x1="1461" y1="600.4" x2="1461" y2="613" stroke="#000" stroke-width="1.8"/>
<line x1="1485.4" y1="597.2" x2="1488.7" y2="609.4" stroke="#000" stroke-width="1.8"/>
<line x1="1527.8" y1="572.8" x2="1536.7" y2="581.7" stroke="#000" stroke-width="1.8"/>
<line x1="1542.8" y1="553.2" x2="1553.7" y2="559.5" stroke="#000" stroke-width="1.8"/>
<line x1="1508.2" y1="424.2" x2="1516" y2="410.7" stroke="#000" stroke-width="2.1"/>
<line x1="1527.6" y1="419.7" x2="1536.7" y2="430.3" stroke="#000" stroke-width="2.0"/>
<line x1="1502.4" y1="405.2" x2="1488.7" y2="402.6" stroke="#000" stroke-width="2.0"/>
<line x1="1366.6" y1="506" x2="1351" y2="506" stroke="#000" stroke-width="2.1"/>
<line x1="1353" y1="491.5" x2="1357.6" y2="478.3" stroke="#000" stroke-width="2.0"/>
<line x1="1353" y1="520.5" x2="1357.6" y2="533.7" stroke="#000" stroke-width="2.0"/>
<line x1="1508.2" y1="587.8" x2="1516" y2="601.3" stroke="#000" stroke-width="2.1"/>
<line x1="1502.4" y1="606.8" x2="1488.7" y2="609.4" stroke="#000" stroke-width="2.0"/>
<line x1="1527.6" y1="592.3" x2="1536.7" y2="581.7" stroke="#000" stroke-width="2.0"/>
<circle cx="1461" cy="506" r="94.4" fill="#fff" stroke="#000" stroke-width="2"/>
<line x1="1501" y1="506" x2="1555.4" y2="506" stroke="#000" stroke-width="6.6"/>
<line x1="1441" y1="471.4" x2="1413.8" y2="424.2" stroke="#000" stroke-width="6.6"/>
<line x1="1441" y1="540.6" x2="1413.8" y2="587.8" stroke="#000" stroke-width="6.6"/>
<clipPath id="hr"><circle cx="1461" cy="506" r="36.6"/></clipPath>
<circle cx="1461" cy="506" r="36.6" fill="#e4e4e4"/>
<g clip-path="url(#hr)" stroke="#c4c4c4" stroke-width="0.8">
<line x1="1424.4" y1="470.4" x2="1497.6" y2="470.4"/>
<line x1="1424.4" y1="476.4" x2="1497.6" y2="476.4"/>
<line x1="1424.4" y1="482.4" x2="1497.6" y2="482.4"/>
<line x1="1424.4" y1="488.4" x2="1497.6" y2="488.4"/>
<line x1="1424.4" y1="494.4" x2="1497.6" y2="494.4"/>
<line x1="1424.4" y1="500.4" x2="1497.6" y2="500.4"/>
<line x1="1424.4" y1="506.4" x2="1497.6" y2="506.4"/>
<line x1="1424.4" y1="512.4" x2="1497.6" y2="512.4"/>
<line x1="1424.4" y1="518.4" x2="1497.6" y2="518.4"/>
<line x1="1424.4" y1="524.4" x2="1497.6" y2="524.4"/>
<line x1="1424.4" y1="530.4" x2="1497.6" y2="530.4"/>
<line x1="1424.4" y1="536.4" x2="1497.6" y2="536.4"/>
<line x1="1424.4" y1="542.4" x2="1497.6" y2="542.4"/>
</g>
<circle cx="1461" cy="506" r="40.3" fill="none" stroke="#000" stroke-width="7.6"/>
<circle cx="1461" cy="506" r="37.4" fill="none" stroke="#fff" stroke-width="0.9" stroke-dasharray="2.5 2"/>
<path d="M732,545 C760,575 777,612 776.5,655 C776,690 770.5,712 764.5,729.5" fill="none" stroke="#000" stroke-width="6.2" stroke-linecap="butt"/>
<path d="M732,545 C760,575 777,612 776.5,655 C776,690 770.5,712 764.5,729.5" fill="none" stroke="#000" stroke-width="6.2" transform="translate(1638.6,0) scale(-1,1)"/>
<path d="M731,544.5 C716,532 702,526.5 688,526.4 C668,526.5 653.5,543 653.5,560 C653.5,577 664,586 675,586 C684,586 688,579 687.5,573 C687,567 680,562.5 671,558" fill="none" stroke="#000" stroke-width="5.2" stroke-linecap="butt"/>
<path d="M731,544.5 C716,532 702,526.5 688,526.4 C668,526.5 653.5,543 653.5,560 C653.5,577 664,586 675,586 C684,586 688,579 687.5,573 C687,567 680,562.5 671,558" fill="none" stroke="#000" stroke-width="5.2" transform="translate(1638.6,0) scale(-1,1)"/>
<line x1="774" y1="658.8" x2="865" y2="658.8" stroke="#000" stroke-width="7.2"/>
<polygon points="610,400.2 776,400.2 776,413 750.5,419 671.5,402.3 651.1,419 611,402" fill="#e7eed2"/>
<polygon points="863,400.2 1029,400.2 1027.4,402 987.4,419 967,402.3 888,419 863,413.5" fill="#e7eed2"/>
<polygon points="643,405 665,405 655,413" fill="#7fbb34" stroke="#000" stroke-width="1" stroke-linejoin="miter"/>
<polygon points="688,404 758,405.5 758,416.5" fill="#7fbb34" stroke="#000" stroke-width="1" stroke-linejoin="miter"/>
<polygon points="882,405.5 950,404 882,416.5" fill="#7fbb34" stroke="#000" stroke-width="1" stroke-linejoin="miter"/>
<polygon points="972,405 999,405 986,412" fill="#7fbb34" stroke="#000" stroke-width="1" stroke-linejoin="miter"/>
<polygon points="610.2,400.6 610.3,405.6 610.7,410.6 611.2,415.6 612,420.6 613.1,425.6 614.4,430.6 615.9,435.6 617.7,440.6 619.7,445.6 622,450.6 624.6,455.6 627.5,460.6 630.6,465.6 634.1,470.6 638,475.5 642.2,480.5 646.8,485.5 651.9,490.5 657.4,495.5 663.5,500.5 670.2,505.5 677.6,510.5 685.9,515.5 695.3,520.5 706.1,525.5 718.8,530.5 734.6,535.5 757,540.5 760.5,539.5 747.5,535.2 736.9,530.9 727.7,526.6 719.6,522.3 712.5,518 706,513.7 700.1,509.4 694.8,505.1 689.9,500.8 685.4,496.5 681.3,492.2 677.5,487.9 674.1,483.6 670.9,479.2 668.1,474.9 665.4,470.6 663.1,466.3 660.9,462 659,457.7 657.3,453.4 655.8,449.1 654.6,444.8 653.5,440.5 652.6,436.2 652,431.9 651.5,427.6 651.2,423.3 651.1,419" fill="#a3c95a" stroke="#000" stroke-width="2.6" stroke-linejoin="miter" stroke-linejoin="round"/>
<polygon points="651.1,419 651.2,423.3 651.5,427.6 652,431.9 652.6,436.2 653.5,440.5 654.6,444.8 655.8,449.1 657.3,453.4 659,457.7 660.9,462 663.1,466.3 665.4,470.6 668.1,474.9 670.9,479.2 674.1,483.6 677.5,487.9 681.3,492.2 685.4,496.5 689.9,500.8 694.8,505.1 700.1,509.4 706,513.7 712.5,518 719.6,522.3 727.7,526.6 736.9,530.9 747.5,535.2 760.5,539.5 767.5,540 756.1,535.1 746.8,530.2 738.7,525.2 731.6,520.3 725.3,515.4 719.7,510.5 714.5,505.6 709.8,500.7 705.5,495.7 701.6,490.8 698,485.9 694.7,481 691.7,476.1 688.9,471.1 686.4,466.2 684.1,461.3 682,456.4 680.1,451.5 678.4,446.6 677,441.6 675.7,436.7 674.5,431.8 673.6,426.9 672.8,422 672.3,417.1 671.8,412.1 671.6,407.2 671.5,402.3" fill="#d9e5b4" stroke="#000" stroke-width="2.6" stroke-linejoin="miter" stroke-linejoin="round"/>
<polygon points="671.5,402.3 671.6,407.2 671.8,412.1 672.3,417.1 672.8,422 673.6,426.9 674.5,431.8 675.7,436.7 677,441.6 678.4,446.6 680.1,451.5 682,456.4 684.1,461.3 686.4,466.2 688.9,471.1 691.7,476.1 694.7,481 698,485.9 701.6,490.8 705.5,495.7 709.8,500.7 714.5,505.6 719.7,510.5 725.3,515.4 731.6,520.3 738.7,525.2 746.8,530.2 756.1,535.1 767.5,540 786,536.5 781.8,532.3 778.3,528.1 775.4,523.9 772.7,519.7 770.4,515.5 768.3,511.3 766.4,507.1 764.7,502.9 763.1,498.7 761.6,494.5 760.3,490.3 759.1,486.1 758,481.9 756.9,477.8 756,473.6 755.2,469.4 754.4,465.2 753.7,461 753.1,456.8 752.5,452.6 752,448.4 751.6,444.2 751.3,440 751,435.8 750.8,431.6 750.6,427.4 750.5,423.2 750.5,419" fill="#a3c95a" stroke="#000" stroke-width="2.6" stroke-linejoin="miter" stroke-linejoin="round"/>
<polygon points="750.5,419 750.5,423.2 750.6,427.4 750.8,431.6 751,435.8 751.3,440 751.6,444.2 752,448.4 752.5,452.6 753.1,456.8 753.7,461 754.4,465.2 755.2,469.4 756,473.6 756.9,477.8 758,481.9 759.1,486.1 760.3,490.3 761.6,494.5 763.1,498.7 764.7,502.9 766.4,507.1 768.3,511.3 770.4,515.5 772.7,519.7 775.4,523.9 778.3,528.1 781.8,532.3 786,536.5 819.2,541 819.2,536 819.2,531 819.2,525.9 819.2,520.9 819.2,515.9 819.2,510.9 819.2,505.9 819.2,500.8 819.2,495.8 819.2,490.8 819.2,485.8 819.2,480.7 819.2,475.7 819.2,470.7 819.2,465.7 819.2,460.7 819.2,455.6 819.2,450.6 819.2,445.6 819.2,440.6 819.2,435.5 819.2,430.5 819.2,425.5 819.2,420.5 819.2,415.5 819.2,410.4 819.2,405.4 819.2,400.4" fill="#e7eed2" stroke="#000" stroke-width="2.6" stroke-linejoin="miter" stroke-linejoin="round"/>
<polygon points="819.2,400.4 819.2,405.4 819.2,410.4 819.2,415.5 819.2,420.5 819.2,425.5 819.2,430.5 819.2,435.5 819.2,440.6 819.2,445.6 819.2,450.6 819.2,455.6 819.2,460.7 819.2,465.7 819.2,470.7 819.2,475.7 819.2,480.7 819.2,485.8 819.2,490.8 819.2,495.8 819.2,500.8 819.2,505.9 819.2,510.9 819.2,515.9 819.2,520.9 819.2,525.9 819.2,531 819.2,536 819.2,541 853.5,536.5 857.6,532.3 861,528.1 863.8,523.9 866.4,519.7 868.7,515.5 870.7,511.3 872.5,507.1 874.2,502.9 875.8,498.7 877.2,494.5 878.5,490.3 879.7,486.1 880.7,481.9 881.7,477.8 882.7,473.6 883.5,469.4 884.2,465.2 884.9,461 885.5,456.8 886,452.6 886.5,448.4 886.9,444.2 887.2,440 887.5,435.8 887.7,431.6 887.9,427.4 888,423.2 888,419" fill="#67b346" stroke="#000" stroke-width="2.6" stroke-linejoin="miter" stroke-linejoin="round"/>
<polygon points="888,419 888,423.2 887.9,427.4 887.7,431.6 887.5,435.8 887.2,440 886.9,444.2 886.5,448.4 886,452.6 885.5,456.8 884.9,461 884.2,465.2 883.5,469.4 882.7,473.6 881.7,477.8 880.7,481.9 879.7,486.1 878.5,490.3 877.2,494.5 875.8,498.7 874.2,502.9 872.5,507.1 870.7,511.3 868.7,515.5 866.4,519.7 863.8,523.9 861,528.1 857.6,532.3 853.5,536.5 872,540 883.3,535.1 892.5,530.2 900.5,525.2 907.5,520.3 913.7,515.4 919.3,510.5 924.4,505.6 929.1,500.7 933.3,495.7 937.2,490.8 940.8,485.9 944,481 947,476.1 949.8,471.1 952.3,466.2 954.6,461.3 956.6,456.4 958.5,451.5 960.1,446.6 961.6,441.6 962.9,436.7 964,431.8 964.9,426.9 965.7,422 966.3,417.1 966.7,412.1 966.9,407.2 967,402.3" fill="#a3c95a" stroke="#000" stroke-width="2.6" stroke-linejoin="miter" stroke-linejoin="round"/>
<polygon points="967,402.3 966.9,407.2 966.7,412.1 966.3,417.1 965.7,422 964.9,426.9 964,431.8 962.9,436.7 961.6,441.6 960.1,446.6 958.5,451.5 956.6,456.4 954.6,461.3 952.3,466.2 949.8,471.1 947,476.1 944,481 940.8,485.9 937.2,490.8 933.3,495.7 929.1,500.7 924.4,505.6 919.3,510.5 913.7,515.4 907.5,520.3 900.5,525.2 892.5,530.2 883.3,535.1 872,540 879,539.5 891.8,535.2 902.4,530.9 911.5,526.6 919.5,522.3 926.6,518 933,513.7 938.8,509.4 944.1,505.1 949,500.8 953.4,496.5 957.5,492.2 961.2,487.9 964.6,483.6 967.7,479.2 970.6,474.9 973.2,470.6 975.6,466.3 977.7,462 979.6,457.7 981.2,453.4 982.7,449.1 984,444.8 985,440.5 985.9,436.2 986.5,431.9 987,427.6 987.3,423.3 987.4,419" fill="#7fbb34" stroke="#000" stroke-width="2.6" stroke-linejoin="miter" stroke-linejoin="round"/>
<polygon points="987.4,419 987.3,423.3 987,427.6 986.5,431.9 985.9,436.2 985,440.5 984,444.8 982.7,449.1 981.2,453.4 979.6,457.7 977.7,462 975.6,466.3 973.2,470.6 970.6,474.9 967.7,479.2 964.6,483.6 961.2,487.9 957.5,492.2 953.4,496.5 949,500.8 944.1,505.1 938.8,509.4 933,513.7 926.6,518 919.5,522.3 911.5,526.6 902.4,530.9 891.8,535.2 879,539.5 882,540.5 904.3,535.5 920.1,530.5 932.8,525.5 943.5,520.5 952.8,515.5 961.1,510.5 968.5,505.5 975.2,500.5 981.2,495.5 986.8,490.5 991.8,485.5 996.4,480.5 1000.6,475.5 1004.4,470.6 1007.9,465.6 1011.1,460.6 1014,455.6 1016.5,450.6 1018.8,445.6 1020.9,440.6 1022.6,435.6 1024.1,430.6 1025.4,425.6 1026.5,420.6 1027.3,415.6 1027.8,410.6 1028.2,405.6 1028.3,400.6" fill="#67b346" stroke="#000" stroke-width="2.6" stroke-linejoin="miter" stroke-linejoin="round"/>
<line x1="609" y1="400.3" x2="775" y2="400.3" stroke="#000" stroke-width="3.2"/>
<line x1="864" y1="400.3" x2="1029.5" y2="400.3" stroke="#000" stroke-width="3.2"/>
<line x1="774" y1="400.3" x2="777" y2="405" stroke="#000" stroke-width="2"/>
<line x1="862" y1="405" x2="865" y2="400.3" stroke="#000" stroke-width="2"/>
<line x1="819.2" y1="393" x2="819.2" y2="541" stroke="#000" stroke-width="1.6"/>
<polygon points="745,540.7 752,536.5 758,540.7" fill="#0b10f0"/>
<polygon points="777,540.7 786,534.3 795,540.7" fill="#0b10f0"/>
<polygon points="843.5,540.7 852.5,534.3 862,540.7" fill="#0b10f0"/>
<polygon points="882.5,540.7 888,537 893.5,540.7" fill="#0b10f0"/>
<rect x="729" y="541.3" width="181.5" height="7.4" fill="#000"/>
<polygon points="1810,406.7 1994,406.7 2014.7,411.9 2045.8,406.7 2281,406.7 2257.7,422 2248.5,408 2200,422 2163,408 2101,422 2045.8,407.2 1989,422.5 1927.6,407.2 1890,422.5 1842,409 1834,423" fill="#7fbb34"/>
<polygon points="1812,408 1830,408 1834,421" fill="#a3c95a" stroke="#000" stroke-width="1" stroke-linejoin="miter"/>
<polygon points="1846,409.5 1880,412 1888,420" fill="#7fbb34" stroke="#000" stroke-width="1" stroke-linejoin="miter"/>
<polygon points="2180,409 2240,409 2200,420" fill="#e7eed2" stroke="#000" stroke-width="1" stroke-linejoin="miter"/>
<polygon points="2256,409 2278,409 2262,419" fill="#e7eed2" stroke="#000" stroke-width="1" stroke-linejoin="miter"/>
<polygon points="1931,540 1939,531 1947,540" fill="#7fbb34"/>
<polygon points="2000,540 2007,532 2015,540" fill="#7fbb34"/>
<polygon points="2128,540 2149,531 2160,540" fill="#7fbb34"/>
<polygon points="2168,540 2174,536 2180,540" fill="#7fbb34"/>
<polygon points="1810,407.2 1810.7,411.9 1811.6,416.7 1812.6,421.4 1813.7,426.2 1814.9,430.9 1816.3,435.7 1817.8,440.4 1819.4,445.1 1821.1,449.9 1823,454.6 1825.1,459.4 1827.3,464.1 1829.6,468.9 1832.1,473.6 1834.8,478.3 1837.7,483.1 1840.8,487.8 1844.1,492.6 1847.7,497.3 1851.6,502.1 1855.8,506.8 1860.4,511.5 1865.4,516.3 1871,521 1877.3,525.8 1884.6,530.5 1893.6,535.3 1906,540 1910,539 1902.3,534.9 1895.8,530.7 1890.1,526.6 1885.1,522.4 1880.6,518.3 1876.4,514.1 1872.6,510 1869.1,505.9 1865.9,501.7 1862.8,497.6 1860,493.4 1857.4,489.3 1854.9,485.1 1852.6,481 1850.5,476.9 1848.5,472.7 1846.6,468.6 1844.9,464.4 1843.3,460.3 1841.8,456.1 1840.4,452 1839.2,447.9 1838,443.7 1837,439.6 1836.1,435.4 1835.3,431.3 1834.6,427.1 1834,423" fill="#d9e5b4" stroke="#000" stroke-width="2.6" stroke-linejoin="miter" stroke-linejoin="round"/>
<polygon points="1834,423 1834.6,427.1 1835.3,431.3 1836.1,435.4 1837,439.6 1838,443.7 1839.2,447.9 1840.4,452 1841.8,456.1 1843.3,460.3 1844.9,464.4 1846.6,468.6 1848.5,472.7 1850.5,476.9 1852.6,481 1854.9,485.1 1857.4,489.3 1860,493.4 1862.8,497.6 1865.9,501.7 1869.1,505.9 1872.6,510 1876.4,514.1 1880.6,518.3 1885.1,522.4 1890.1,526.6 1895.8,530.7 1902.3,534.9 1910,539 1931,538.4 1921.9,533.8 1914.3,529.2 1907.7,524.5 1901.9,519.9 1896.6,515.3 1891.7,510.7 1887.3,506 1883.1,501.4 1879.3,496.8 1875.8,492.2 1872.5,487.6 1869.4,482.9 1866.5,478.3 1863.8,473.7 1861.3,469.1 1859,464.5 1856.8,459.8 1854.7,455.2 1852.9,450.6 1851.1,446 1849.5,441.4 1848.1,436.7 1846.7,432.1 1845.5,427.5 1844.5,422.9 1843.5,418.2 1842.7,413.6 1842,409" fill="#e7eed2" stroke="#000" stroke-width="2.6" stroke-linejoin="miter" stroke-linejoin="round"/>
<polygon points="1842,409 1842.7,413.6 1843.5,418.2 1844.5,422.9 1845.5,427.5 1846.7,432.1 1848.1,436.7 1849.5,441.4 1851.1,446 1852.9,450.6 1854.7,455.2 1856.8,459.8 1859,464.5 1861.3,469.1 1863.8,473.7 1866.5,478.3 1869.4,482.9 1872.5,487.6 1875.8,492.2 1879.3,496.8 1883.1,501.4 1887.3,506 1891.7,510.7 1896.6,515.3 1901.9,519.9 1907.7,524.5 1914.3,529.2 1921.9,533.8 1931,538.4 1940.5,531.5 1935.4,527.6 1931,523.7 1927.3,519.8 1924,515.9 1921,512 1918.2,508.1 1915.7,504.2 1913.3,500.4 1911.2,496.5 1909.2,492.6 1907.3,488.7 1905.5,484.8 1903.9,480.9 1902.4,477 1901,473.1 1899.6,469.2 1898.4,465.3 1897.2,461.4 1896.2,457.5 1895.2,453.6 1894.3,449.8 1893.4,445.9 1892.7,442 1892,438.1 1891.4,434.2 1890.9,430.3 1890.4,426.4 1890,422.5" fill="#a3c95a" stroke="#000" stroke-width="2.6" stroke-linejoin="miter" stroke-linejoin="round"/>
<polygon points="1890,422.5 1890.4,426.4 1890.9,430.3 1891.4,434.2 1892,438.1 1892.7,442 1893.4,445.9 1894.3,449.8 1895.2,453.6 1896.2,457.5 1897.2,461.4 1898.4,465.3 1899.6,469.2 1901,473.1 1902.4,477 1903.9,480.9 1905.5,484.8 1907.3,488.7 1909.2,492.6 1911.2,496.5 1913.3,500.4 1915.7,504.2 1918.2,508.1 1921,512 1924,515.9 1927.3,519.8 1931,523.7 1935.4,527.6 1940.5,531.5 1979,538.4 1973.8,533.7 1969.4,529 1965.6,524.3 1962.2,519.7 1959.1,515 1956.3,510.3 1953.7,505.6 1951.4,500.9 1949.2,496.2 1947.1,491.5 1945.2,486.9 1943.4,482.2 1941.8,477.5 1940.2,472.8 1938.7,468.1 1937.4,463.4 1936.1,458.7 1935,454.1 1933.9,449.4 1932.9,444.7 1932,440 1931.1,435.3 1930.3,430.6 1929.6,425.9 1929,421.3 1928.5,416.6 1928,411.9 1927.6,407.2" fill="#e7eed2" stroke="#000" stroke-width="2.6" stroke-linejoin="miter" stroke-linejoin="round"/>
<polygon points="1927.6,407.2 1928,411.9 1928.5,416.6 1929,421.3 1929.6,425.9 1930.3,430.6 1931.1,435.3 1932,440 1932.9,444.7 1933.9,449.4 1935,454.1 1936.1,458.7 1937.4,463.4 1938.7,468.1 1940.2,472.8 1941.8,477.5 1943.4,482.2 1945.2,486.9 1947.1,491.5 1949.2,496.2 1951.4,500.9 1953.7,505.6 1956.3,510.3 1959.1,515 1962.2,519.7 1965.6,524.3 1969.4,529 1973.8,533.7 1979,538.4 2007,531.4 2005.2,527.5 2003.6,523.6 2002.3,519.7 2001.1,515.8 2000,512 1999.1,508.1 1998.2,504.2 1997.3,500.3 1996.5,496.4 1995.8,492.5 1995.2,488.6 1994.5,484.7 1994,480.8 1993.4,476.9 1992.9,473.1 1992.4,469.2 1992,465.3 1991.6,461.4 1991.2,457.5 1990.8,453.6 1990.5,449.7 1990.2,445.8 1990,441.9 1989.7,438.1 1989.5,434.2 1989.3,430.3 1989.1,426.4 1989,422.5" fill="#a3c95a" stroke="#000" stroke-width="2.6" stroke-linejoin="miter" stroke-linejoin="round"/>
<polygon points="1989,422.5 1989.1,426.4 1989.3,430.3 1989.5,434.2 1989.7,438.1 1990,441.9 1990.2,445.8 1990.5,449.7 1990.8,453.6 1991.2,457.5 1991.6,461.4 1992,465.3 1992.4,469.2 1992.9,473.1 1993.4,476.9 1994,480.8 1994.5,484.7 1995.2,488.6 1995.8,492.5 1996.5,496.4 1997.3,500.3 1998.2,504.2 1999.1,508.1 2000,512 2001.1,515.8 2002.3,519.7 2003.6,523.6 2005.2,527.5 2007,531.4 2045.8,538.6 2045.8,533.9 2045.8,529.2 2045.8,524.5 2045.8,519.8 2045.8,515.1 2045.8,510.4 2045.8,505.8 2045.8,501.1 2045.8,496.4 2045.8,491.7 2045.8,487 2045.8,482.3 2045.8,477.6 2045.8,472.9 2045.8,468.2 2045.8,463.5 2045.8,458.8 2045.8,454.1 2045.8,449.4 2045.8,444.7 2045.8,440.1 2045.8,435.4 2045.8,430.7 2045.8,426 2045.8,421.3 2045.8,416.6 2045.8,411.9 2045.8,407.2" fill="#d9e5b4" stroke="#000" stroke-width="2.6" stroke-linejoin="miter" stroke-linejoin="round"/>
<polygon points="2045.8,407.2 2045.8,411.9 2045.8,416.6 2045.8,421.3 2045.8,426 2045.8,430.7 2045.8,435.4 2045.8,440.1 2045.8,444.7 2045.8,449.4 2045.8,454.1 2045.8,458.8 2045.8,463.5 2045.8,468.2 2045.8,472.9 2045.8,477.6 2045.8,482.3 2045.8,487 2045.8,491.7 2045.8,496.4 2045.8,501.1 2045.8,505.8 2045.8,510.4 2045.8,515.1 2045.8,519.8 2045.8,524.5 2045.8,529.2 2045.8,533.9 2045.8,538.6 2082,531.4 2084.3,527.5 2086.1,523.6 2087.7,519.7 2089.1,515.8 2090.3,511.9 2091.5,508 2092.5,504 2093.4,500.1 2094.3,496.2 2095,492.3 2095.8,488.4 2096.4,484.5 2097,480.6 2097.6,476.7 2098.1,472.8 2098.5,468.9 2098.9,465 2099.3,461.1 2099.6,457.2 2099.9,453.3 2100.2,449.4 2100.4,445.4 2100.6,441.5 2100.7,437.6 2100.9,433.7 2100.9,429.8 2101,425.9 2101,422" fill="#67b346" stroke="#000" stroke-width="2.6" stroke-linejoin="miter" stroke-linejoin="round"/>
<polygon points="2101,422 2101,425.9 2100.9,429.8 2100.9,433.7 2100.7,437.6 2100.6,441.5 2100.4,445.4 2100.2,449.4 2099.9,453.3 2099.6,457.2 2099.3,461.1 2098.9,465 2098.5,468.9 2098.1,472.8 2097.6,476.7 2097,480.6 2096.4,484.5 2095.8,488.4 2095,492.3 2094.3,496.2 2093.4,500.1 2092.5,504 2091.5,508 2090.3,511.9 2089.1,515.8 2087.7,519.7 2086.1,523.6 2084.3,527.5 2082,531.4 2112,538.4 2118,533.7 2123,529.1 2127.3,524.4 2131,519.8 2134.4,515.1 2137.4,510.5 2140.1,505.8 2142.6,501.1 2144.9,496.5 2147,491.8 2148.9,487.2 2150.7,482.5 2152.3,477.9 2153.8,473.2 2155.1,468.5 2156.3,463.9 2157.4,459.2 2158.4,454.6 2159.3,449.9 2160.1,445.3 2160.8,440.6 2161.4,435.9 2161.9,431.3 2162.3,426.6 2162.6,422 2162.8,417.3 2163,412.7 2163,408" fill="#a3c95a" stroke="#000" stroke-width="2.6" stroke-linejoin="miter" stroke-linejoin="round"/>
<polygon points="2163,408 2163,412.7 2162.8,417.3 2162.6,422 2162.3,426.6 2161.9,431.3 2161.4,435.9 2160.8,440.6 2160.1,445.3 2159.3,449.9 2158.4,454.6 2157.4,459.2 2156.3,463.9 2155.1,468.5 2153.8,473.2 2152.3,477.9 2150.7,482.5 2148.9,487.2 2147,491.8 2144.9,496.5 2142.6,501.1 2140.1,505.8 2137.4,510.5 2134.4,515.1 2131,519.8 2127.3,524.4 2123,529.1 2118,533.7 2112,538.4 2149.4,531.4 2155.4,527.5 2160.3,523.6 2164.6,519.7 2168.3,515.8 2171.6,511.9 2174.6,508 2177.3,504 2179.8,500.1 2182.1,496.2 2184.1,492.3 2186,488.4 2187.8,484.5 2189.4,480.6 2190.8,476.7 2192.2,472.8 2193.4,468.9 2194.5,465 2195.5,461.1 2196.3,457.2 2197.1,453.3 2197.8,449.4 2198.4,445.4 2198.9,441.5 2199.3,437.6 2199.6,433.7 2199.8,429.8 2200,425.9 2200,422" fill="#b0cb22" stroke="#000" stroke-width="2.6" stroke-linejoin="miter" stroke-linejoin="round"/>
<polygon points="2200,422 2200,425.9 2199.8,429.8 2199.6,433.7 2199.3,437.6 2198.9,441.5 2198.4,445.4 2197.8,449.4 2197.1,453.3 2196.3,457.2 2195.5,461.1 2194.5,465 2193.4,468.9 2192.2,472.8 2190.8,476.7 2189.4,480.6 2187.8,484.5 2186,488.4 2184.1,492.3 2182.1,496.2 2179.8,500.1 2177.3,504 2174.6,508 2171.6,511.9 2168.3,515.8 2164.6,519.7 2160.3,523.6 2155.4,527.5 2149.4,531.4 2170,538.5 2179.3,533.8 2187,529.2 2193.5,524.5 2199.3,519.9 2204.5,515.2 2209.1,510.5 2213.3,505.9 2217.2,501.2 2220.7,496.6 2223.9,491.9 2226.8,487.2 2229.5,482.6 2232,477.9 2234.3,473.2 2236.3,468.6 2238.2,463.9 2239.9,459.3 2241.5,454.6 2242.8,449.9 2244,445.3 2245.1,440.6 2246,436 2246.8,431.3 2247.4,426.6 2247.9,422 2248.2,417.3 2248.4,412.7 2248.5,408" fill="#67b346" stroke="#000" stroke-width="2.6" stroke-linejoin="miter" stroke-linejoin="round"/>
<polygon points="2248.5,408 2248.4,412.7 2248.2,417.3 2247.9,422 2247.4,426.6 2246.8,431.3 2246,436 2245.1,440.6 2244,445.3 2242.8,449.9 2241.5,454.6 2239.9,459.3 2238.2,463.9 2236.3,468.6 2234.3,473.2 2232,477.9 2229.5,482.6 2226.8,487.2 2223.9,491.9 2220.7,496.6 2217.2,501.2 2213.3,505.9 2209.1,510.5 2204.5,515.2 2199.3,519.9 2193.5,524.5 2187,529.2 2179.3,533.8 2170,538.5 2176,539 2185.7,534.8 2193.7,530.6 2200.5,526.5 2206.5,522.3 2211.9,518.1 2216.7,513.9 2221.1,509.8 2225.1,505.6 2228.7,501.4 2232.1,497.2 2235.1,493 2237.9,488.9 2240.5,484.7 2242.9,480.5 2245,476.3 2247,472.1 2248.8,468 2250.4,463.8 2251.8,459.6 2253.1,455.4 2254.2,451.2 2255.1,447.1 2255.9,442.9 2256.6,438.7 2257.1,434.5 2257.4,430.4 2257.6,426.2 2257.7,422" fill="#b0cb22" stroke="#000" stroke-width="2.6" stroke-linejoin="miter" stroke-linejoin="round"/>
<polygon points="2257.7,422 2257.6,426.2 2257.4,430.4 2257.1,434.5 2256.6,438.7 2255.9,442.9 2255.1,447.1 2254.2,451.2 2253.1,455.4 2251.8,459.6 2250.4,463.8 2248.8,468 2247,472.1 2245,476.3 2242.9,480.5 2240.5,484.7 2237.9,488.9 2235.1,493 2232.1,497.2 2228.7,501.4 2225.1,505.6 2221.1,509.8 2216.7,513.9 2211.9,518.1 2206.5,522.3 2200.5,526.5 2193.7,530.6 2185.7,534.8 2176,539 2182,540 2197,535.3 2207.6,530.5 2216.2,525.8 2223.4,521 2229.7,516.3 2235.3,511.6 2240.2,506.8 2244.7,502.1 2248.8,497.3 2252.5,492.6 2255.9,487.9 2259,483.1 2261.9,478.4 2264.4,473.6 2266.8,468.9 2268.9,464.2 2270.8,459.4 2272.6,454.7 2274.1,450 2275.5,445.2 2276.7,440.5 2277.7,435.7 2278.6,431 2279.3,426.3 2279.8,421.5 2280.2,416.8 2280.4,412 2280.5,407.3" fill="#67b346" stroke="#000" stroke-width="2.6" stroke-linejoin="miter" stroke-linejoin="round"/>
<line x1="1809" y1="406.7" x2="1994" y2="406.7" stroke="#000" stroke-width="3.2"/>
<line x1="1994" y1="406.7" x2="2014.7" y2="412.2" stroke="#000" stroke-width="3"/>
<line x1="2014.7" y1="412.2" x2="2045.8" y2="406.7" stroke="#000" stroke-width="3"/>
<line x1="2045.8" y1="406.7" x2="2282" y2="406.7" stroke="#000" stroke-width="3.2"/>
<line x1="2045.8" y1="403" x2="2045.8" y2="538" stroke="#b0b0b0" stroke-width="1.6"/>
<rect x="1937.6" y="539.2" width="223" height="6.6" fill="#000"/>
<path d="M540.9,377 L546.1,371.3 L544.9,367.1 L544.5,361.6 L549.4,358.5 L547.5,350.1 L549.2,348.6 L555.3,338.2 L559.1,339.6 L560.7,334 L561.2,326.7 L567.7,323.8 L569.2,322 L572,320.4 L578.8,319.9 L583.3,315.3 L589.3,317.2 L595.2,316.3 L605.1,323.1 L609.2,318.9 L610.8,313.4 L615.8,310.1 L624.4,310.3 L630.2,308.1 L636.2,309.2 L634.7,305.5 L646.3,308.1 L652,308.3 L650.9,310.8 L661.1,309 L661.5,308.2 L672.9,309.9 L672.2,305.1 L677.3,302.5 L687.4,302.1 L690.9,302.7 L693.5,308.5 L698.3,311.7 L703.2,311.3 L708.8,311.4 L719.1,316.3 L719.4,318.1 L723.7,315.8 L733.1,318.7 L732.8,322.3 L738.6,318.4 L747.4,320.1 L744.1,323.8 L742.7,332.9 L743.8,338.5 L749.1,334.9 L757.5,332.6 L759.2,332.7 L761.7,328.2 L772,333.2 L772.6,329.2 L781.2,334.9 L782.7,335.4 L792.7,333.3 L794.7,330.3 L796.3,332.2 L801.9,326.3 L806.3,323.1 L813.8,319.9 L815.9,323.5 L820.2,320.6 L828.7,325.5 L834,322.1 L840.9,322.2 L839.2,323.2 L844.9,317.6 L845.9,315.6 L851.5,309.7 L853,310.9 L860.4,305 L863.7,303.9 L865.2,299.5 L869.8,305 L880.1,304.8 L880.8,302 L889.6,302 L893.5,305.4 L896.9,303.7 L906.7,307.7 L911.9,307.9 L910.2,314.7 L905.1,318.5 L906.9,325.2 L901.4,330 L908.5,332.2 L910.7,334.6 L909.1,343.1 L904.3,350.1 L914.6,355.3 L916.7,355.3 L920.7,360.1 L922.6,365.5 L926.6,364.9 L932.8,363.9 L938.5,356.9 L942.6,354.3 L944.6,352.8 L944.7,342 L947.7,342.2 L949.6,334.2 L957.1,333.1 L956.5,330.3 L961,326.8 L965.3,323.2 L974.8,324.7 L980.5,319 L983.7,319.4 L985.8,321.5 L995.9,324.8 L1000.3,326.3 L1002.5,321.7 L1009,323.3 L1011.9,328.4 L1019.3,333.1 L1021.7,339.7 L1031,341.2 L1030.2,338.1 L1041.4,338 L1045.9,341.5 L1048.7,342.8 L1052.3,338.1 L1061,337.1 L1069.2,338.4 L1069.6,338.9 L1078.2,343.5 L1083.5,346.8 L1089.9,350.7 L1094.3,347.2 L1095.5,353.5 L1087.5,357.6 L1087.7,357.5 L1079.9,360.7 L1078.1,363.9 L1072.8,367.5 L1076.5,370.5 L1085.4,368.2 L1090.8,375.4 L1090.4,376.2 L1097.9,382.6 L1100.1,383.5 L1107.5,388.3 L1112,389.2 L1107.3,393.5" fill="none" stroke="#1f5b45" stroke-width="1.7" stroke-linejoin="round"/>
<path d="M591.2,395.1 L586.3,395.4 L580.5,392.7 L578.9,393.1 L571.5,394.4 L568.2,389.8 L560.4,395.3 L552.7,393.5 L546,392.6 L545.7,385.8 L542.2,385.5 L540.9,377" fill="none" stroke="#1f5b45" stroke-width="1.7" stroke-linejoin="round"/>
<path d="M692.8,353.2 L687.9,353.8 L684.8,354.3 L679.9,354.3 L676.3,351.3 L672.3,348.2 L669.3,346 L666.6,344.4 L661.2,345.6 L658.5,345 L652.1,344.9 L648,341.4 L645.7,339.6 L647.8,335.5 L650.2,332.9 L656,329.9 L659.6,325 L660.5,319.9 L663,317.8 L665.7,317.6 L668.3,318.7 L672.5,320.8 L675.2,323.6 L678.1,323 L680.2,320.4 L683,317.6 L680,314 L678.2,317.5 L677.5,322.2 L678.4,327.7 L678.9,330.5 L677.6,333.9 L675.6,337.4 L671.1,341.6 L669.1,346.9 L665,351.7 L663.2,355.2 L660.8,357.4 L659.4,363.1 L660.3,369.1 L661.4,373.6 L666.7,375.9 L669.2,377.3 L671,379.4 L675.6,381.7 L679.1,384.6 L685.5,384.6 L689.5,381 L686.7,375.9 L680.9,376.7 L678.9,380.8 L681.1,384.4 L681.2,388.4 L680.4,391.9 L680,394.9 L681,399.1 L684.2,399.4 L687.6,398.8 L691.3,399.3 L696.8,396.8 L700.2,393.9 L704.1,392.8 L707,388.6 L711.1,384.6" fill="none" stroke="#1f5b45" stroke-width="1.7" stroke-linejoin="round"/>
<path d="M726.2,362.6 L724.6,367.4 L723.8,370.3 L722.5,376.1 L722.5,381.5 L720.2,387.3 L721.4,392.9 L721,398.6 L719.4,401.3 L720.9,398.9 L724.7,397.6 L729.8,396.9 L733.2,396.6 L739.6,395.3 L742.9,393.8 L746.7,393.9 L749.7,395.4 L754.4,395.3 L756.9,393.5 L757.3,389.5 L755.9,386.7 L753.7,383.1 L748.9,379.8 L747,378.1 L743.1,374 L739.7,372.2 L738.7,368.3 L737.8,363.5 L740.8,359.9 L746.1,358.8 L751.9,358.8 L752.6,362 L751.1,367.1 L746.7,367.3 L745.1,361.4 L744.1,358 L740.6,354.5 L742.1,348.6 L745,347.2 L747.4,345.1 L749.7,342.2 L748.7,337.4 L744.6,339 L740.2,337.3 L736.6,333.4" fill="none" stroke="#1f5b45" stroke-width="1.7" stroke-linejoin="round"/>
<path d="M609.7,396.1 L606.1,400.3 L608.2,394.8 L609.4,390.7 L611.5,385.7 L612.9,380.4 L615.6,379 L618.3,378.5 L621.3,376.3 L627.2,374.9 L631.3,374.1 L635.9,372.7 L638.8,372 L641.7,370.1 L647.4,368.1 L648.8,370.4 L653.9,374 L659.4,376.7 L657.9,380.9 L657.1,385.8 L656.4,391.2 L657.4,394 L658.7,397.2 L660.5,400.1 L657.5,394.9 L655.1,393.4 L652.9,391.9 L650.2,390.8 L645.7,391.8 L643.3,395.4 L642.3,399.8 L639.1,402.1 L634.6,402.8 L631.6,403.6 L626.5,401.4 L621.3,400 L618.4,401 L614.5,402.8 L608.5,401.5 L605.3,400.2 L604,396.9 L602.9,393.9 L603.9,388.2 L604.6,384.3 L608.8,382.9 L607,378.9 L602.4,375 L600,371.6 L596.1,367.6 L591.5,366.4 L588.5,363.9 L588.9,361.2 L590.1,357.6 L588.4,353.6 L585.7,351.6 L582.6,352.7 L577.1,356.2" fill="none" stroke="#1f5b45" stroke-width="1.7" stroke-linejoin="round"/>
<path d="M658.5,311.9 L655.9,315 L654.5,318.7 L649,319.3 L647.8,322.9 L646.5,326.4 L647.9,330.2 L649.4,334.9 L650.8,339.3 L649.1,344.5 L648.9,348.1 L651.5,353.5 L654.8,354.1 L660,356.5 L661.3,359.6 L664.8,359.8 L667.3,360.8 L669.3,363.2 L672.6,362.2 L677.4,362.3 L681.5,362.1 L685.6,363.8 L687.8,365.3 L691.9,362.1 L695.5,360.6 L700.1,358.7 L706.1,359.4 L710.4,360.7 L707.7,362.5 L705.4,366.5 L701.4,369 L699.6,372.4 L699.7,377.7 L701.1,382.5 L704.2,387 L705.1,390.1 L705.8,392.9 L701.6,394.4 L699.9,397.5 L699.5,401 L699.2,395.1 L697.1,393 L694.7,392.1 L689.5,392.7 L683.2,391.2 L679.5,391 L676.9,390.8 L671.3,390 L666.9,386.6 L665,381.2 L664.4,377.8 L664.6,373 L663.4,368.7 L662.6,362.7 L662.5,356.2 L660.5,350.9 L660.6,345.9 L667,344.6" fill="none" stroke="#1f5b45" stroke-width="1.7" stroke-linejoin="round"/>
<path d="M670.9,384.2 L672.5,387.8 L674.5,389.3 L672.6,393.5 L673.5,397.5 L678,402.1 L674.4,398.2 L670.7,396.7 L666.8,399.9 L663.7,402.2 L660.9,403.9 L659.9,400.9 L659.6,396.8 L661.5,394.1 L662.9,391.5 L665,388.8 L668.4,387.7 L669.2,384.6 L674.2,384 L679,385.4 L683.3,384.1 L688.1,382 L692,381 L696.4,382.5 L700.7,384.7 L704.9,383.5 L710,381.8 L712.9,380.9 L718.7,380 L723.1,378.8 L726.4,380.1 L725.7,383.3 L724.1,388.7 L718.6,389.5 L714.7,390.1 L709,388.7 L706.4,384.5 L704.9,381.5 L702.1,379.9 L698.2,380.2 L693.6,378.5 L688.4,379.6 L682.9,382.5 L680.7,388.6 L682.9,391.6 L685.9,394.6 L690.4,394.9 L693.7,394.1 L696.6,391.9 L697,385.7 L698.4,381.6 L699.8,377.6 L700,372.4 L702,366.7 L705.6,362.1 L705.7,359.2 L707.1,354 L709.3,352.7 L712.5,350.7" fill="none" stroke="#1f5b45" stroke-width="1.7" stroke-linejoin="round"/>
<path d="M704.1,397.2 L709.2,393.1 L713.9,391.2 L715.4,394.9 L715,397.7 L710.5,400.7 L705.8,397.7 L701,394.2 L697.3,392.9 L691.8,391.4 L688.7,387.8 L686.8,384.7 L684.6,383 L683.3,378.8 L682,376 L680.1,371.4 L677.7,370.5 L677.2,365.2 L677.8,362.3 L677.7,359.7 L677.3,353.5 L675,347.7 L672.8,344.6 L671,340.6 L676.6,338.9 L679.7,340.2 L682.1,342.7 L684.9,348.4 L689.4,350.3 L691.2,353.6 L692.6,356.1 L691.5,362 L687.3,366.9 L686.5,372.6 L690.1,376.9 L693.1,382.3 L696.4,386.7 L699.1,389.9 L701.5,388.6 L703.3,385 L705.1,381.7 L705.4,375.8 L703.7,373.4 L704.6,367.3 L706.3,361.7 L708.4,360.1 L712.9,355.8 L718.4,356.9 L721.5,355.9 L726,355 L728.9,351.2 L726.1,349.2 L723.4,349.7 L718.4,349.6 L715.1,352.5 L713.1,358.1 L713.6,361.9 L714.8,364.5 L718.3,367.7 L722.5,369.9 L726.4,369.4 L732.3,368.3" fill="none" stroke="#1f5b45" stroke-width="1.7" stroke-linejoin="round"/>
<path d="M729,330.1 L731.6,331.7 L734.6,333.7 L740.4,335.3 L739.4,329.9 L737.1,324.1 L738.5,320 L737,324.3 L735.5,329.2 L731.5,331.9 L727.4,327.5 L726.7,325 L722.6,320.7 L718.3,319 L716.2,315 L720.5,316.4 L724.1,316.8 L729.7,320 L735.8,320.9 L740.9,322.3 L739.1,320 L738.9,325.6 L736.4,328.9 L735.6,333.4 L733.3,336 L731.7,339.1 L730.2,342.2 L730.4,345.7 L731.9,349.1 L732.1,354.8 L733.2,358.1 L733.2,362.1 L731,365.4 L727.6,367.3 L725.8,371.8 L726.6,374.3 L729.7,374.3 L731.9,371.1 L733.8,368.5 L731.2,362.7 L729.8,359.4 L727.6,356.2 L726.1,353.6 L722.1,349.8 L718.9,348.6 L712.9,347.4 L708.1,347.8 L704.3,345.8" fill="none" stroke="#1f5b45" stroke-width="1.7" stroke-linejoin="round"/>
<path d="M703.5,384.8 L706.8,385.8 L711.1,384.7 L711.8,381.6 L711.2,379.1 L708.3,378.7 L707.3,380.9" fill="none" stroke="#1f5b45" stroke-width="1.7" stroke-linejoin="round"/>
<path d="M707,385.6 L710.5,387.1 L714.2,385.8 L716.1,382.5 L714.2,380.4 L711.7,379.4 L711.3,382.2" fill="none" stroke="#1f5b45" stroke-width="1.7" stroke-linejoin="round"/>
<path d="M648.5,392.3 L645.3,387.1 L646.5,382.3 L642.6,378.7 L638.2,379.3 L636.9,384.4 L640.9,386.3" fill="none" stroke="#1f5b45" stroke-width="1.7" stroke-linejoin="round"/>
<path d="M643.4,393.3 L640.8,388.1 L641.7,383.8 L638,379.3 L632.9,381.3 L631.5,385.7 L635.2,387.2" fill="none" stroke="#1f5b45" stroke-width="1.7" stroke-linejoin="round"/>
<path d="M637.8,394.1 L635.2,389.6 L636.7,384 L632.7,381.2 L627.7,382.2 L626.6,386.8 L631.3,388" fill="none" stroke="#1f5b45" stroke-width="1.7" stroke-linejoin="round"/>
<path d="M633.2,395.8 L630.8,391.3 L632.1,386.1 L628.1,382.1 L623.5,383.2 L621.9,388.9 L625.7,389.5" fill="none" stroke="#1f5b45" stroke-width="1.7" stroke-linejoin="round"/>
<path d="M677.4,373.4 L676.5,367.3 L676.8,361.5 L680.6,359.1 L685.4,359.2 L688.6,362.4 L687.4,366.6 L683.8,368 L682.1,365.2" fill="none" stroke="#1f5b45" stroke-width="1.7" stroke-linejoin="round"/>
<path d="M682.5,373.7 L680.6,367 L682.3,362.8 L685.6,360 L690.3,360.1 L693.4,363.8 L692,367.1 L688.2,367.9 L687.2,365.8" fill="none" stroke="#1f5b45" stroke-width="1.7" stroke-linejoin="round"/>
<path d="M634.9,378.9 L637.8,374.1 L637.9,370.5 L636.3,367.1 L633.2,366.1 L629.9,368.2 L629.4,370.6 L632,372.6 L633.3,371.1" fill="none" stroke="#1f5b45" stroke-width="1.7" stroke-linejoin="round"/>
<path d="M629.9,379.5 L633.3,376.2 L634.1,371.7 L631.9,368.7 L628.5,368 L625.2,369.2 L625.7,372.6 L627.7,374.5 L629.8,373.4" fill="none" stroke="#1f5b45" stroke-width="1.7" stroke-linejoin="round"/>
<path d="M626,381.1 L629.6,377.1 L629.3,373.5 L627.3,369.9 L624.4,368.5 L621.7,370.9 L621,374 L623.6,375.9 L625,374.2" fill="none" stroke="#1f5b45" stroke-width="1.7" stroke-linejoin="round"/>
<path d="M601.4,350 L604.3,346.6 L602.9,341.4 L599.4,339 L593.6,340.3 L592.3,343.1 L595.3,344.6 L596.6,343.6" fill="none" stroke="#1f5b45" stroke-width="1.7" stroke-linejoin="round"/>
<path d="M596.6,349.5 L599.5,346.6 L597.7,341.2 L593.8,339.3 L588.4,339.7 L587.2,343.9 L590.1,344.9 L591.8,344" fill="none" stroke="#1f5b45" stroke-width="1.7" stroke-linejoin="round"/>
<path d="M632.2,380.6 L629.6,377.9 L628.4,374.3 L630,371 L634.4,369.5 L637,372 L635.9,373.2 L633.2,373.1" fill="none" stroke="#1f5b45" stroke-width="1.7" stroke-linejoin="round"/>
<path d="M637.5,379.4 L634.6,377.5 L632.4,373 L634.6,369.4 L638.9,368.9 L641.3,370.5 L640.5,372.7 L638,372.1" fill="none" stroke="#1f5b45" stroke-width="1.7" stroke-linejoin="round"/>
<path d="M641.8,378.9 L638.4,377.2 L637.6,372.3 L639.1,368.5 L643,367.9 L645.3,370.4 L644.9,371.8 L642.5,371.7" fill="none" stroke="#1f5b45" stroke-width="1.7" stroke-linejoin="round"/>
<path d="M632.8,370.2 L628.7,370.2 L625.6,368.6 L624,365.5 L626.6,363 L628.7,363.1 L628.9,365" fill="none" stroke="#1f5b45" stroke-width="1.7" stroke-linejoin="round"/>
<path d="M627.2,369.1 L623.5,370.2 L620.2,368.6 L618.7,365.1 L620.2,362 L623.7,362.4 L624,364.8" fill="none" stroke="#1f5b45" stroke-width="1.7" stroke-linejoin="round"/>
<path d="M621.3,368.5 L618.1,368.5 L614.5,367.8 L613,364.1 L615.7,362.3 L617.7,361.3 L617.7,363.9" fill="none" stroke="#1f5b45" stroke-width="1.7" stroke-linejoin="round"/>
<path d="M616.5,368.4 L612.3,368.5 L609.5,366.5 L608.4,364.2 L609.5,361.5 L612.8,360.9 L613.1,363.5" fill="none" stroke="#1f5b45" stroke-width="1.7" stroke-linejoin="round"/>
<path d="M676.7,335.4 L680.3,332.8 L682.3,329.9 L681.9,326.1 L677.8,324.7 L676,326.2 L677.9,329.4" fill="none" stroke="#1f5b45" stroke-width="1.7" stroke-linejoin="round"/>
<path d="M680.9,335 L684.2,333.5 L685.9,330.1 L684.9,326.7 L682.3,325.3 L679.3,326.3 L681.3,329.9" fill="none" stroke="#1f5b45" stroke-width="1.7" stroke-linejoin="round"/>
<path d="M685.4,336 L688.1,333.1 L689.9,330.4 L689.1,326.3 L686.5,325.8 L683.7,327.2 L685.3,329.7" fill="none" stroke="#1f5b45" stroke-width="1.7" stroke-linejoin="round"/>
<path d="M689.2,335.7 L692.3,333.7 L694.3,330 L693.3,327.1 L690.1,325.5 L688.4,327.6 L689.6,329.8" fill="none" stroke="#1f5b45" stroke-width="1.7" stroke-linejoin="round"/>
<path d="M761.8,376.7 L757.3,376.3 L754.1,372.5 L752.7,368.1 L755.8,366.2 L760,366.4 L758.7,370.6" fill="none" stroke="#1f5b45" stroke-width="1.7" stroke-linejoin="round"/>
<path d="M757.8,376.9 L753,376.2 L749.1,372.7 L748.8,368.8 L752.5,366.3 L755.8,366.2 L754.3,370.7" fill="none" stroke="#1f5b45" stroke-width="1.7" stroke-linejoin="round"/>
<path d="M753,376.7 L748.1,376.4 L744.7,373.5 L743.8,369 L746.9,365.4 L750.8,366.9 L749.6,370.2" fill="none" stroke="#1f5b45" stroke-width="1.7" stroke-linejoin="round"/>
<path d="M749,376.6 L744.2,376.1 L740.3,372.5 L739.8,368.9 L743.2,365.5 L746.4,366.8 L745.4,370.2" fill="none" stroke="#1f5b45" stroke-width="1.7" stroke-linejoin="round"/>
<path d="M624.6,367.5 L625.9,364.2 L625.1,361 L626.3,357.2 L630.7,357.6 L631.3,360.7 L628.9,362.4" fill="none" stroke="#1f5b45" stroke-width="1.7" stroke-linejoin="round"/>
<path d="M631.5,367.3 L631.8,364.4 L630.3,361 L632.9,358.5 L635.6,358.3 L637.4,361.8 L634.9,362.9" fill="none" stroke="#1f5b45" stroke-width="1.7" stroke-linejoin="round"/>
<path d="M636.5,367.7 L638.5,363.9 L636.3,361.5 L638.9,357.6 L641.7,358.1 L643.2,362 L641.4,363.4" fill="none" stroke="#1f5b45" stroke-width="1.7" stroke-linejoin="round"/>
<path d="M643,368.1 L643.7,364.6 L642.5,360.7 L644.5,358.2 L648,358.1 L648.8,362.3 L646.9,362.8" fill="none" stroke="#1f5b45" stroke-width="1.7" stroke-linejoin="round"/>
<path d="M610.3,361.3 L612.5,357.6 L613.3,352.9 L616.1,350.5 L620,352.3 L620.1,356.5 L617.7,357" fill="none" stroke="#1f5b45" stroke-width="1.7" stroke-linejoin="round"/>
<path d="M615,361.4 L618.3,358.4 L617.5,353.9 L620.9,351.4 L624.8,352.6 L626.2,357.4 L622.5,357.3" fill="none" stroke="#1f5b45" stroke-width="1.7" stroke-linejoin="round"/>
<path d="M616.8,347.6 L613.8,347.9 L609.6,346.9 L609.4,343.6 L610.8,342.1 L612.9,341.7 L613.7,343.7" fill="none" stroke="#1f5b45" stroke-width="1.7" stroke-linejoin="round"/>
<path d="M611.1,348.9 L607.5,349.6 L605.1,348.6 L602.8,345.2 L604.5,342.2 L607.1,342.8 L607.2,345.1" fill="none" stroke="#1f5b45" stroke-width="1.7" stroke-linejoin="round"/>
<path d="M711.9,365.2 L715.4,362.9 L716.4,359.3 L714.4,355.8 L710.4,354.1 L707.5,356.7 L708.4,359 L710.2,358.4" fill="none" stroke="#1f5b45" stroke-width="1.7" stroke-linejoin="round"/>
<path d="M705.9,364 L709.3,362 L710.2,358.7 L708.9,354.9 L704.1,354.4 L701.6,356.6 L702.8,358.4 L704.9,357.3" fill="none" stroke="#1f5b45" stroke-width="1.7" stroke-linejoin="round"/>
<path d="M699.9,363.2 L703.3,361.7 L705.1,358 L702.2,355 L698.2,353.7 L696.6,356.2 L698.1,357.8 L699.2,357.3" fill="none" stroke="#1f5b45" stroke-width="1.7" stroke-linejoin="round"/>
<path d="M653.1,371.8 L656.1,375.8 L650.3,378.5 L648,382 L642.2,382.7 L637.9,380.1 L633.1,377.4 L634.8,373.3 L639.1,371.1 L643,368.2 L648.1,370 L653.1,371.8" fill="none" stroke="#1f5b45" stroke-width="1.7" stroke-linejoin="round"/>
<path d="M652.9,387.4 L656.5,385.8 L659.3,388.7 L660.5,391.6 L662.8,394.4 L659.6,396.6 L658,398.8 L655.2,398.5 L652.5,398 L651.1,395.7 L649,392.9 L651.4,390.6 L652.9,387.4" fill="none" stroke="#1f5b45" stroke-width="1.7" stroke-linejoin="round"/>
<path d="M744.7,342.3 L742.5,340.4 L743.4,337.6 L744.6,335.6 L744.7,332.6 L747.3,332 L749.8,331.4 L752,332.8 L754.1,334.1 L754.3,336.7 L755.1,339.2 L755.1,342.6 L752,343.5 L749.6,345.8 L747.2,342.8 L744.7,342.3" fill="none" stroke="#1f5b45" stroke-width="1.7" stroke-linejoin="round"/>
<path d="M690.5,339.1 L694.3,341.9 L698.7,341.6 L702.1,342.3 L705.4,343.6 L707.4,346.8 L703.7,348.5 L701.4,348.3 L698.5,348.6 L697.9,346.6 L697.2,343.1 L699.4,339.1 L699.7,336.6 L702.6,333.5 L705.6,332.4 L709.5,334.9 L711.5,337.7 L709.7,341.7 L705.3,342 L703.1,340.5 L703.3,337.2" fill="none" stroke="#1f5b45" stroke-width="1.7" stroke-linejoin="round"/>
<path d="M620.7,312.3 L616.7,313.5 L615.7,316.5 L617.1,319.2 L621.4,319.4 L623.1,316.8 L622.9,314.5 L619.9,314.1 L615.6,315.6 L613.3,316.8 L612,319.1 L610.1,322.6 L609,325.3 L607.8,329.4 L610.5,330.5 L613.2,331.7 L616.5,329 L617.8,326.1 L619.3,321.7 L617.7,317.8" fill="none" stroke="#1f5b45" stroke-width="1.7" stroke-linejoin="round"/>
<path d="M717.2,320 L712.5,320.1 L709.8,317.8 L710.4,313.5 L711.4,315.5 L713.6,317.8 L715.3,320 L716.9,321.9 L720.6,324.9 L724.8,326 L728.9,327.1 L731.4,327.6 L728.9,329.8 L725.2,331.4 L722.9,333.8 L719.3,335.5 L717.1,335.5 L715,334.7 L713.5,333.3 L712.3,331.3 L710,330.3 L707.5,329.5 L705.4,331 L702.7,331.8 L700,332.2 L703.1,335.7 L705.4,335.5" fill="none" stroke="#1f5b45" stroke-width="1.7" stroke-linejoin="round"/>
<path d="M670.6,384.7 L670.4,387.5 L666.9,390 L664,390.6 L661,391.7 L659.2,393.8 L657.6,396.8 L655.9,394.5 L655.2,392.6 L656.4,390.9 L657.6,388.2 L659.1,384.2 L660.2,381.1 L662.9,377.7 L665.9,375.6 L666.7,372.3 L668.6,369.3 L671.6,366.5 L674.1,367.3 L676.3,367.6 L677.8,370.7 L677.4,375.2 L676.6,377.8 L675.2,380.6 L671.5,383.4 L669.4,385 L665.9,384 L665.8,382 L668,378.2" fill="none" stroke="#1f5b45" stroke-width="1.7" stroke-linejoin="round"/>
<path d="M588.6,327.5 L590.9,324.8 L595.1,324.4 L598.9,325.9 L600.1,328 L604.1,328.7 L607.9,327.8 L606.6,326 L606.7,322.4 L604.6,319.9 L601.6,322.6 L597.2,324.5 L592.5,324.1 L588.6,322.6 L585.8,321.8 L584.1,319.4 L583.5,317.3 L582.3,321.7 L580.2,325.5" fill="none" stroke="#1f5b45" stroke-width="1.7" stroke-linejoin="round"/>
<path d="M655,310.9 L652.5,315 L650.9,316.3 L647.9,316.8 L645.5,315.2 L643.4,312.8 L641.3,311.4 L638.7,310.1 L642.1,309.6 L645.6,311.6 L647.7,311.4 L652.3,312.7 L656,312.4 L659.3,311.2 L660.9,312.6 L663.7,313.3 L668,311.9 L670.5,310.8 L672.2,309.5 L676.2,309.9 L680.3,311.8 L679.7,315.7 L680.3,317.9 L683.4,319.8 L683.9,315.4 L682.8,313.7 L680.7,314 L676.1,314.8" fill="none" stroke="#1f5b45" stroke-width="1.7" stroke-linejoin="round"/>
<path d="M627.8,326 L630,327.9 L630.3,330.9 L630.9,333.2 L629.3,335.2 L627.2,336 L623.2,334.2 L621.8,332.7 L620,331.5 L618.3,329.6 L617.8,327.3 L616.9,323.8 L616.3,320.9 L618.4,318.2 L620.6,316.8 L625,317.3 L627.7,319.1 L629.8,318.5 L632.4,319 L635.9,321.7 L637.2,324.1" fill="none" stroke="#1f5b45" stroke-width="1.7" stroke-linejoin="round"/>
<path d="M584.9,329.3 L588.4,327.7 L592.7,326.7 L596.9,325.6 L600,324.5 L602.8,321.4 L603.8,317.4 L600.1,319.9 L597,321.1 L594,324.1 L593.4,328.3 L596.3,330.2 L598.6,330.2 L602.6,328.8 L604.5,325.7 L601.7,322.7 L599.5,320.8 L596.3,321 L594.1,323 L591.3,326.8 L590.9,329.5 L589.7,331.8 L589.5,333.9 L591.7,337.4 L593.9,338.6 L595.8,336.8 L596.2,332.8 L596.6,330.2 L595.4,327.7 L591.5,325.6 L589.1,326" fill="none" stroke="#1f5b45" stroke-width="1.7" stroke-linejoin="round"/>
<path d="M860.5,338.6 L863.8,336.9 L867.4,331.8 L869.6,328 L871.2,323.1 L871.9,319.9 L869.1,315 L865,313 L862.2,312.2 L856.7,312.1 L852.5,310.5 L854.3,313 L854.8,316.8 L859.7,319.4 L864,322.4 L865,328.3 L866.2,333.5 L868.6,336.3 L870.5,339 L874,342.7 L877.9,347.4 L879.3,353.2 L879,358.1 L879.8,362.8 L880.8,367.9 L880.6,374.1 L876.4,375 L872,374.7 L869.5,376.6 L868.9,380.5 L866.8,386.7 L868,390.6 L864.5,390.5 L860.1,389.3 L854.5,386.6 L849.9,384 L847,379.5 L843.9,376.3 L841.9,373.6 L839.2,373.1 L836.5,370 L832,366 L829.6,363.7 L823.5,361.8 L820.9,361.3 L816.8,362.7 L813.8,364 L808.1,364.9 L806.9,361.6 L810.4,357.7 L813.8,355.3 L819.6,355 L822.9,356.7 L824.9,358.3 L829,360.4 L834.4,359.2 L838.3,358.8 L841.6,354 L842,350.3 L839.4,348.4" fill="none" stroke="#1f5b45" stroke-width="1.7" stroke-linejoin="round"/>
<path d="M834.8,352.5 L839.2,350.5 L844.7,351.2 L847.1,354.7 L851.1,356.3 L853.9,356.1 L857.1,352.8 L860.2,348.8 L865.9,346.6 L868.6,348 L873,349.8 L879.1,350.2 L878.6,345.6 L878.3,339.9 L880.8,336 L885.8,334.5 L889,332.2 L892.5,327.2 L892.7,321.7 L890.4,315.7 L886.4,315.6 L882.4,319.3 L881.6,325.8 L879.2,327.5 L876.5,327.8 L872.5,327.6 L869.4,327.4 L864.3,325.4 L861.5,325.3 L857.9,324.3 L854.4,323.1 L848.8,325.7 L845.5,327.1 L841.4,328.5 L837.8,330.1 L835.7,331.5 L832,336.5 L827.6,338.5 L824.6,343.6 L821.2,347.9 L823.9,352.1 L829.6,350.6 L831.5,347.7 L834.6,343.5 L829.8,339.6 L827.1,338 L823.9,336.1 L823.7,332.8 L824.5,326.9 L823.9,323.4" fill="none" stroke="#1f5b45" stroke-width="1.7" stroke-linejoin="round"/>
<path d="M823.6,325.8 L827.4,328.5 L830.7,330.8 L834.1,335.2 L835.6,340.2 L835.4,346.7 L834.2,351.4 L836.9,356.9 L838.5,361 L836.1,365.9 L840.1,369.8 L843.7,371.6 L849.5,373.4 L853.8,374.3 L856.4,371.7 L858.2,367.6 L856.3,361.6 L857.4,358.5 L856.2,352.5 L855.4,346.3 L857,341.3 L854.9,339.4 L852,337.2 L848.9,332.6 L847.1,327.9 L847.6,322.6 L851.3,321 L856.3,318 L860.4,314.3 L863.4,313.4 L866.4,313.1 L872,311.4 L875.2,310.8 L879.1,312.3 L883.5,311.8 L885.1,308.8 L881.2,303.8 L875.1,302.5 L871.7,305.2 L869.7,307.9 L868.6,312.2 L865.1,315.5 L862.5,317.5 L858,317.2 L852.5,316.1" fill="none" stroke="#1f5b45" stroke-width="1.7" stroke-linejoin="round"/>
<path d="M810.2,340.4 L809.6,336.1 L806.9,332.3 L803.3,331.2 L799.4,333.6 L798.9,335.9 L801.7,338.7 L804.4,338.6 L804.9,336.1" fill="none" stroke="#1f5b45" stroke-width="1.7" stroke-linejoin="round"/>
<path d="M806,339.5 L804.6,335 L802.7,331.5 L799,330 L795.5,332.3 L795.7,335.8 L797.2,337.1 L800.5,337.5 L800.7,335.5" fill="none" stroke="#1f5b45" stroke-width="1.7" stroke-linejoin="round"/>
<path d="M802.2,337.7 L800.8,332.8 L798.9,329.8 L796.1,328.8 L792.3,330.3 L790.8,334.6 L792.9,336.5 L796.3,336.1 L796.2,333.7" fill="none" stroke="#1f5b45" stroke-width="1.7" stroke-linejoin="round"/>
<path d="M849.5,344.6 L852.6,344.6 L855.6,342 L856.1,339.1 L854,336.9 L851.7,337.3 L852.3,340" fill="none" stroke="#1f5b45" stroke-width="1.7" stroke-linejoin="round"/>
<path d="M853.3,344.6 L856.5,345.2 L858.9,342.6 L859.8,339.4 L858.1,337.3 L854.6,337.8 L855.5,340.8" fill="none" stroke="#1f5b45" stroke-width="1.7" stroke-linejoin="round"/>
<path d="M856.6,345.4 L860.4,344.3 L862.7,342.8 L863.5,339 L861,337.7 L859.2,338.3 L859.4,340.6" fill="none" stroke="#1f5b45" stroke-width="1.7" stroke-linejoin="round"/>
<path d="M860.5,345.3 L864.5,345 L866.7,342.7 L866.9,339.6 L865,337.3 L862,338.1 L862.8,340.9" fill="none" stroke="#1f5b45" stroke-width="1.7" stroke-linejoin="round"/>
<path d="M822.1,349.5 L819.9,344.3 L821.6,340 L818,336.5 L812.5,337.5 L811.5,342.9 L815.7,343.5" fill="none" stroke="#1f5b45" stroke-width="1.7" stroke-linejoin="round"/>
<path d="M818.6,348.9 L816.4,345.3 L817,340.4 L813.5,336.8 L809.4,337.6 L808.4,343.3 L812.2,344.4" fill="none" stroke="#1f5b45" stroke-width="1.7" stroke-linejoin="round"/>
<path d="M815.3,349.7 L813,345 L813.5,340.8 L810.2,337.2 L805.9,338.3 L804.5,343.5 L808.3,344.5" fill="none" stroke="#1f5b45" stroke-width="1.7" stroke-linejoin="round"/>
<path d="M807.6,385.9 L811,384.5 L815.1,384.4 L819,385 L823.9,385.8 L825.2,388.5 L822.9,390.8 L822.4,393.5 L818.4,394.6 L814.1,395.4 L809.1,395.2 L809.1,391.7 L807.3,390.2 L807.4,388.3 L807.6,385.9" fill="none" stroke="#1f5b45" stroke-width="1.7" stroke-linejoin="round"/>
<path d="M874.6,342.1 L869.9,341.1 L866,339.6 L865.9,335.9 L865.1,333.6 L865.1,331.1 L867.2,329.2 L868.7,326.1 L872.7,325.5 L876.2,327 L878.4,329.1 L880.1,331.3 L882.2,334.1 L882.3,337.8 L877.3,338.7 L874.6,342.1" fill="none" stroke="#1f5b45" stroke-width="1.7" stroke-linejoin="round"/>
<path d="M831.8,376.1 L833.9,375.4 L836.4,373 L840.2,371.1 L844.2,371.9 L845.6,373.5 L845.7,375.9 L842.8,378 L839.2,378.6 L836.3,378.4 L834.5,377.2 L830,376.3 L828.2,372.3 L826.6,367.9 L828,364.6 L829.9,364 L833.4,364 L835.2,365.4 L836.8,367.1 L835.6,370.7 L834.2,372.9 L832.8,375 L828.5,375.1" fill="none" stroke="#1f5b45" stroke-width="1.7" stroke-linejoin="round"/>
<path d="M827.1,361.5 L824.3,362.3 L821.7,362.3 L817.7,362.3 L815,363.3 L812.3,366.7 L811.3,369.8 L815.1,372 L817.1,373.2 L821.8,373.9 L824,369.6 L824.4,367.5 L822.1,363.3 L818.6,361.9 L814.4,361.5 L809.8,361.9 L807.6,359.4 L809.8,355.7 L812.8,354.5" fill="none" stroke="#1f5b45" stroke-width="1.7" stroke-linejoin="round"/>
<path d="M876.9,380.4 L880.9,382.9 L883.2,384.7 L885.8,387.6 L887.2,392.2 L885.7,395.2 L886,398.4 L883.2,399.6 L880.3,399.6 L876.8,397.5 L875.5,394.5 L874.5,391.3 L875.8,387.5 L878.3,383.6 L882.3,382.7 L884.5,383.6 L886.9,384.7 L891.2,383.3 L893.3,379.6 L893.9,376 L893.7,373.8 L892.7,371.9 L889.3,372.5 L885.9,374.3" fill="none" stroke="#1f5b45" stroke-width="1.7" stroke-linejoin="round"/>
<path d="M959.7,396.3 L963.5,391.5 L965.2,386.9 L964.3,384.2 L965.9,378.4 L964.5,373.7 L963.8,368.6 L964.9,365.7 L965.3,359.5 L968.8,357.8 L971.3,357 L976.4,355.4 L979.8,356.4 L984.3,356.7 L987.5,357.3 L993.2,358.1 L995.9,358.8 L1000.7,360.5 L1005.6,362.8 L1005.1,369.2 L1005.1,374.6 L1005.3,381.1 L1001.9,385.4 L998,389.3 L996.6,391.8 L994.4,394.3 L992.9,396.5 L993.8,401.1 L996.6,404.8 L991.8,402.6 L988.6,401.1 L988.9,395.7 L990.3,391.5 L991.3,389.1 L993.3,387.1 L993.8,384.3 L993.2,381.6 L995.3,378.1 L993.6,374 L990.9,373.6 L988.4,372 L983.5,370 L978.4,369.6 L975.3,368 L971.5,365.7 L969.6,364 L970.4,359.7 L972,355.9 L970.1,350.4 L965.8,348.7 L961.1,349.8 L958.4,351.8 L955.4,355.1 L954.9,357.9 L958.5,362.5 L960.5,363.9 L961.7,366.7 L966.1,369.4 L969.4,372.2 L971.8,372.8 L975.4,373.3 L981.6,373.4 L985.8,375.4 L992.2,376.1" fill="none" stroke="#1f5b45" stroke-width="1.7" stroke-linejoin="round"/>
<path d="M954.5,352.9 L958.8,357.2 L960.6,359.9 L963.1,364 L961.9,369.4 L962.3,372.9 L960.2,376.4 L958.1,378.2 L955.1,382.7 L951.9,387.4 L948.5,389.6 L944.7,391 L940.7,394 L936.4,395.6 L934.5,397.7 L930.5,395.9 L929.8,392.3 L929.2,389.5 L928.4,385.1 L929.7,382.2 L928.7,379.7 L924.9,376.9 L919.9,373.8 L915.7,375.2 L910.3,376 L907.6,376.5 L907.4,373.5 L901.8,372 L902.2,365.6 L901.4,359.3 L904,353.6 L906.8,351.1 L908.2,348.9 L910.8,344.3 L914.2,349.4 L916.9,344.7 L922.5,347.4 L924.7,349.4 L926,354.1 L929.2,355.5 L934.6,357.6 L937.8,358.1 L939.8,355.9 L945.3,353.8 L951.1,353.8 L955.1,357.2 L956.7,359.3 L954.1,363.1 L949,366 L949.7,371.8 L948.9,377.1 L943.4,380.4 L940.4,380.3 L935.8,376.1 L935.1,369.9 L932.2,364.5" fill="none" stroke="#1f5b45" stroke-width="1.7" stroke-linejoin="round"/>
<path d="M973.2,392.6 L971,394.8 L966.9,396.2 L962.3,395.7 L956.8,395.1 L955.1,393.3 L954.6,386.9 L957.1,383.7 L960.6,382.6 L966.7,382.6 L971.5,379.5 L973.8,374.9 L972.6,369.7 L975.3,368.5 L979.7,365.2 L980.9,359.9 L980.2,356.5 L979.2,353.1 L981.9,347.3 L984.8,347.5 L988.7,349.4 L991.2,349.9 L995.1,349.9 L1001,351.6 L1003.4,357.2 L1005.3,362.7 L1004.5,367 L1003,372.2 L1000.5,374.5 L997.1,375 L993.9,376.4 L989.4,375.1 L985.2,373.9 L981.8,372 L978.6,372.2 L975.1,375.1 L976,379.5 L977.8,382.5 L976.9,387.8 L976.8,393.2 L978.8,398.3 L979.4,402.5 L975.8,402.1 L969.4,403.5 L964,400.8 L959.1,399.6 L953.8,398.4 L949.6,398.6 L946.2,402.6 L949.6,401.8" fill="none" stroke="#1f5b45" stroke-width="1.7" stroke-linejoin="round"/>
<path d="M976.1,387.7 L978.7,386.4 L981.1,382.7 L980.3,380.2 L978.4,378 L975,379.4 L976.3,382.3" fill="none" stroke="#1f5b45" stroke-width="1.7" stroke-linejoin="round"/>
<path d="M978.9,387.2 L983.2,385.9 L985.2,383.6 L984,380.5 L981.3,379 L979.5,379.4 L980.4,382" fill="none" stroke="#1f5b45" stroke-width="1.7" stroke-linejoin="round"/>
<path d="M928.6,381.6 L933.5,381.2 L936.7,377.3 L936.1,371.7 L932.4,369.8 L929.6,370.8 L931,375" fill="none" stroke="#1f5b45" stroke-width="1.7" stroke-linejoin="round"/>
<path d="M932.9,382 L938.8,381.3 L942.1,378 L941.4,372.2 L938.4,370.9 L934.3,371.9 L935.1,375.8" fill="none" stroke="#1f5b45" stroke-width="1.7" stroke-linejoin="round"/>
<path d="M938.8,383.9 L943.7,381.8 L946.6,378.3 L947.3,373.5 L943.3,370.8 L939.2,372.1 L940.7,376" fill="none" stroke="#1f5b45" stroke-width="1.7" stroke-linejoin="round"/>
<path d="M944.4,383.7 L948.4,383 L952.7,378.7 L951.9,374 L947.9,371.3 L944.9,372.8 L945.8,377.1" fill="none" stroke="#1f5b45" stroke-width="1.7" stroke-linejoin="round"/>
<path d="M970.2,363.4 L973.2,361.8 L973.7,357.4 L972.1,354.3 L968.1,354.4 L965.6,356 L967.1,358.4 L968.8,357.9" fill="none" stroke="#1f5b45" stroke-width="1.7" stroke-linejoin="round"/>
<path d="M965.4,364.1 L967.8,362.5 L968.7,358.1 L967.1,355.2 L962.2,354.3 L960.2,355.8 L961.7,358 L963.4,357.4" fill="none" stroke="#1f5b45" stroke-width="1.7" stroke-linejoin="round"/>
<path d="M959.4,364.2 L962,362.1 L963.9,358.7 L961,355 L957,354.9 L954.7,357.1 L956.2,358 L958.1,358.5" fill="none" stroke="#1f5b45" stroke-width="1.7" stroke-linejoin="round"/>
<path d="M954.1,363.9 L957.6,362.4 L958.5,358.7 L955.3,355.2 L951.8,354.8 L949.9,357.2 L951.3,358.4 L952.3,358.4" fill="none" stroke="#1f5b45" stroke-width="1.7" stroke-linejoin="round"/>
<path d="M962.6,346.4 L957.4,344.9 L955.1,340.6 L955.1,336.6 L958.9,334.7 L962.1,335.6 L960.6,338.9" fill="none" stroke="#1f5b45" stroke-width="1.7" stroke-linejoin="round"/>
<path d="M957.3,345 L952.8,343.8 L949,340.1 L949.5,335.7 L953.3,333.3 L956.2,333.8 L954.7,337.5" fill="none" stroke="#1f5b45" stroke-width="1.7" stroke-linejoin="round"/>
<path d="M951.7,343.7 L946.9,343.1 L943.5,339.5 L943.6,334.2 L947.2,331.6 L951.1,333 L949.2,336.7" fill="none" stroke="#1f5b45" stroke-width="1.7" stroke-linejoin="round"/>
<path d="M946.5,343.7 L941.1,341.4 L938.6,338.1 L938.6,333.8 L942.2,330.7 L946.1,332.8 L943.5,336.4" fill="none" stroke="#1f5b45" stroke-width="1.7" stroke-linejoin="round"/>
<path d="M989.5,337.6 L993.3,336.8 L995.6,332.9 L994.9,329.3 L991.9,328 L989.3,329.8 L990.2,332.6" fill="none" stroke="#1f5b45" stroke-width="1.7" stroke-linejoin="round"/>
<path d="M993.9,338 L997.7,337.5 L999.9,333.5 L999.4,330.1 L996,328.4 L993.7,330.5 L994.6,332.5" fill="none" stroke="#1f5b45" stroke-width="1.7" stroke-linejoin="round"/>
<path d="M999.1,338.4 L1002.3,337.6 L1005,334.6 L1004,330.3 L1000.6,328.8 L998.6,329.9 L999.6,333.7" fill="none" stroke="#1f5b45" stroke-width="1.7" stroke-linejoin="round"/>
<path d="M943.8,355.5 L943.8,351.1 L941.5,349 L942.7,345.1 L947,344.5 L949.1,347.3 L947.3,348.8" fill="none" stroke="#1f5b45" stroke-width="1.7" stroke-linejoin="round"/>
<path d="M948.5,354.5 L948,349.8 L946.6,347.3 L947.7,344.1 L950.4,342.5 L953.3,345.9 L951.4,347.9" fill="none" stroke="#1f5b45" stroke-width="1.7" stroke-linejoin="round"/>
<path d="M1007.3,375.9 L1014.2,378.7 L1020.6,381.3 L1021.4,386.1 L1018.9,390.4 L1012.4,391.9 L1006.5,392.5 L1001.2,390.6 L993.4,388 L1000.1,383.7 L1002.3,380.3 L1007.3,375.9" fill="none" stroke="#1f5b45" stroke-width="1.7" stroke-linejoin="round"/>
<path d="M1000.1,371.4 L1001,369.5 L1004.5,368.5 L1008,368.2 L1011.1,368.9 L1014.6,369.2 L1015.7,370.9 L1017.9,372.4 L1017.6,374.3 L1014.4,375.5 L1011.1,375.9 L1007.8,376.9 L1005.7,375 L1003,374.4 L1002.9,373 L1000.1,371.4" fill="none" stroke="#1f5b45" stroke-width="1.7" stroke-linejoin="round"/>
<path d="M1008,332.5 L1010.6,330.4 L1014.4,328.7 L1012.6,331.4 L1010.9,335.8 L1009.8,339.4 L1008.5,343.9 L1007.4,347.4 L1007.4,351.1 L1011.6,350.7 L1014.9,352 L1017.7,353.8 L1019.2,355.6 L1022,357.2 L1025.9,359.7 L1029.6,359.8 L1030.1,357.6 L1032.2,353.6 L1032,350.3 L1031.3,347.6 L1029.8,344.5 L1027,342.6 L1025.9,339.7 L1023.6,336.1 L1020.8,333.6 L1017.3,333.2 L1013.4,334.3 L1011.3,337.1 L1010.7,339.2 L1010.6,343.8 L1011.4,348.1" fill="none" stroke="#1f5b45" stroke-width="1.7" stroke-linejoin="round"/>
<path d="M977.2,323.2 L973.6,324 L971.1,324.7 L968.8,326.4 L967.3,328 L966.5,330 L967.1,333 L969.9,335.2 L971.3,337.5 L973.3,339.5 L975.8,338.5 L979.2,339.1 L982.3,338.7 L984.6,337.2 L985.6,333.8 L984.7,331.2 L983.1,329.4 L982.9,326.9 L982.7,323 L981,319.9 L980.5,324.6 L978.8,328 L974.2,328 L970.8,328.8 L967.3,325.5 L969.8,327 L970.6,331.1" fill="none" stroke="#1f5b45" stroke-width="1.7" stroke-linejoin="round"/>
<path d="M1001.3,334.6 L1005.3,334.7 L1007.8,334.9 L1010,334.9 L1013.2,334.6 L1015.2,335.8 L1017.2,338.6 L1021.4,340.2 L1020,336.4 L1016.2,333.6 L1013.4,333.5 L1011.2,333.9 L1009,335.4 L1006.2,339.1 L1004.5,341.2 L1005.8,342.9 L1009.4,342.3 L1012.7,342.4 L1016.1,340.6 L1016.8,338 L1017.8,336 L1021.3,333.1 L1019.6,334.3 L1016.1,335.3 L1013.9,337.7 L1010.6,338.4 L1007.4,337.2 L1006,335.1" fill="none" stroke="#1f5b45" stroke-width="1.7" stroke-linejoin="round"/>
<path d="M965.3,329.4 L961.7,327.4 L960,331.1 L959.7,334.9 L961.6,337.4 L965.9,338.7 L968.2,338.6 L971.6,338.1 L974,338 L977.4,335 L977.5,332.3 L977.3,329.1 L977,327.1 L976,324.3 L973.8,328.1 L970.5,331.2 L967.1,330.2 L965.5,327.7 L964.9,332.2 L962.5,333.7" fill="none" stroke="#1f5b45" stroke-width="1.7" stroke-linejoin="round"/>
<path d="M1071.9,374.5 L1068.2,376.2 L1063.9,376.8 L1061.7,382 L1058.6,386.6 L1059.1,389.2 L1060.9,393.1 L1063.1,398.1 L1065.5,401 L1065.7,404 L1068.6,400.1 L1073.2,395.6 L1078.7,396.4 L1084.5,397.2 L1086.5,399.6 L1089,402.3 L1087.2,406.8 L1088.7,401.7 L1088,396.3 L1090.8,392.3 L1091.2,389.3 L1093.3,383.7 L1093.8,380.9 L1091,376.9 L1086.7,373.4 L1082.4,376.4 L1080.7,379.3 L1079.3,384.1 L1077,389.4 L1073.6,394.1 L1072.3,398.8 L1075.3,401 L1080.8,403.2 L1084.1,405.4 L1081.8,403.4 L1078.4,401.5 L1074.6,397.9 L1069.3,394.2 L1066.4,393.4 L1063,390.8 L1060.3,389.2 L1058.5,387.2 L1061.2,381.4 L1060.2,375.9 L1060.3,373.1 L1064.8,368.8 L1067.6,367.6 L1071,370.3 L1074.9,373.2 L1077.6,374.5 L1080.2,380.4" fill="none" stroke="#1f5b45" stroke-width="1.7" stroke-linejoin="round"/>
<path d="M1060.8,358.7 L1064.5,358.2 L1068.1,353.5 L1065.8,349 L1061.2,346.2 L1058.6,348.8 L1058.5,351.4 L1061.7,351.4" fill="none" stroke="#1f5b45" stroke-width="1.7" stroke-linejoin="round"/>
<path d="M1055.3,359 L1060.2,357.5 L1062,353.2 L1060.6,348.7 L1056,346.2 L1052.6,348.3 L1053.7,350.8 L1055.9,351.1" fill="none" stroke="#1f5b45" stroke-width="1.7" stroke-linejoin="round"/>
<path d="M1050,359.1 L1054.2,358.3 L1056.8,353.3 L1055.4,349.3 L1051.8,346.9 L1047.4,348.1 L1048.4,351.8 L1050.6,351.7" fill="none" stroke="#1f5b45" stroke-width="1.7" stroke-linejoin="round"/>
<path d="M1045.7,359.9 L1049.5,358 L1051.9,353.7 L1050.7,349.5 L1046,347.2 L1042.9,348.3 L1043.6,351.1 L1046.5,350.9" fill="none" stroke="#1f5b45" stroke-width="1.7" stroke-linejoin="round"/>
<path d="M1061.8,366.9 L1064.7,361.7 L1064.4,356.7 L1061.1,353.8 L1056.5,353 L1053.6,356.2 L1054,359.9 L1056.9,361.7 L1058.5,359.7" fill="none" stroke="#1f5b45" stroke-width="1.7" stroke-linejoin="round"/>
<path d="M1057.3,368 L1059,361.9 L1058.5,358.1 L1055.3,354.5 L1050.9,354.4 L1048.7,357.6 L1049.1,360.7 L1052,362.6 L1053.7,360.6" fill="none" stroke="#1f5b45" stroke-width="1.7" stroke-linejoin="round"/>
<path d="M1045.2,381.6 L1044,384.2 L1041.8,386 L1039.2,387.2 L1036.4,387.1 L1034.6,384.9 L1030.8,384.9 L1030,382.1 L1031.9,379.6 L1031.8,377.2 L1034.3,376.4 L1036.2,375.4 L1038.6,374 L1040.3,376.3 L1041.4,377.9 L1044.4,379 L1045.2,381.6" fill="none" stroke="#1f5b45" stroke-width="1.7" stroke-linejoin="round"/>
<path d="M1063.5,352.6 L1056.4,352.6 L1049.1,354.4 L1042.7,351.7 L1042.9,347.5 L1044.8,344.1 L1048.2,340 L1056.5,340.5 L1066,340.4 L1069.8,345 L1064.4,348.8 L1063.5,352.6" fill="none" stroke="#1f5b45" stroke-width="1.7" stroke-linejoin="round"/>
<path d="M1065.3,363.5 L1064.1,360.7 L1063.8,357 L1062.9,353.4 L1060.9,349.3 L1058.1,347 L1055.6,348.8 L1052.3,349.9 L1052.2,354.4 L1053.9,356.1 L1056.8,359.5 L1059.2,363.2 L1059.5,366.4 L1062.1,368.2 L1064.8,367.6 L1069.1,366.2 L1071.8,363.2 L1073.6,360.2 L1076.8,359.5 L1079.1,358.4 L1082.8,358.1 L1086.4,357.2 L1087.4,355.4 L1085.6,351.6 L1084.2,347.9 L1082.4,346.1 L1080,346.9 L1077.6,348.2 L1075.6,350 L1073.7,351.4" fill="none" stroke="#1f5b45" stroke-width="1.7" stroke-linejoin="round"/>
<path d="M530.7,376.1 L535.3,373.9 L542.5,373.2 L549,374.5 L552.1,376.7 L551,378.9 L551.5,381.1 L548.1,383.2 L541.7,383 L535.3,383 L529.8,381.3 L528.1,378.6 L530.7,376.1" fill="none" stroke="#1f5b45" stroke-width="1.7" stroke-linejoin="round"/>
<path d="M602,402 L596,410 L585,414 L590,425 L580,432 L591,440 L594,446" fill="none" stroke="#1f5b45" stroke-width="1.7" stroke-linejoin="round"/>
<path d="M820,395 L812,408 L818,418 L826,424 L818,435 L833,440 L838,452 L828,460 L833,468 L824,474" fill="none" stroke="#1f5b45" stroke-width="1.7" stroke-linejoin="round"/>
<path d="M1033,403 L1036,415 L1048,418 L1055,430 L1066,435 L1060,445 L1065,452 L1056,458" fill="none" stroke="#1f5b45" stroke-width="1.7" stroke-linejoin="round"/>
<path d="M1743.6,379.7 L1742.6,369.2 L1749.1,368.2 L1748.9,363.7 L1751.7,361 L1753.9,357.1 L1755.5,347.6 L1759.4,343.9 L1764.6,340 L1766.1,336.8 L1767.8,336.1 L1777,333.3 L1782.4,333.1 L1786.2,331 L1793,328.5 L1800.5,332.2 L1799.7,333.3 L1808.3,336.9 L1811.3,335.2 L1816.2,336.6 L1822.2,331.6 L1824.8,325.7 L1829.1,324.4 L1835.9,319.5 L1836.4,317.1 L1842.4,311.8 L1849,312.9 L1852.1,310 L1860.3,309.1 L1866.6,310.2 L1875.2,308.3 L1878.1,311 L1884.5,317.9 L1886.6,319.4 L1895.1,320.6 L1894.2,320.1 L1901.8,318.7 L1907.8,323.2 L1909.1,319.7 L1914.8,319.4 L1921,316.5 L1929.4,318.7 L1933.1,319.6 L1935.6,320.8 L1940.4,324.1 L1949.1,326.7 L1950.6,323.1 L1960.2,320.2 L1967.7,319.4 L1973.1,320.2 L1976.8,315.9 L1980.7,317.4 L1985.5,323.2 L1988.2,324.6 L1992.7,323.5 L2001.5,328.6 L2005.6,330.5 L2006.7,335.1 L2013,335.1 L2020.4,336.2 L2026.2,331.8 L2029.3,334.3 L2029.7,339.3 L2036,342.5 L2038.6,345.6 L2039,350.6 L2041.5,348.2 L2049.5,341 L2050.6,337.5 L2055,334.5 L2054.4,328.9 L2055.9,325.5 L2062.6,324.1 L2065.2,324.1 L2070.5,317.6 L2075.6,320.1 L2085.4,317.8 L2085.5,319.4 L2089.9,316.6 L2093.4,321.3 L2103.4,318.9 L2108.8,321.7 L2112.6,324.4 L2112.9,323.9 L2119.8,323.2 L2129,323.7 L2131.9,327.7 L2139.3,327.6 L2142.9,323.9 L2146,329.6 L2153.3,330.5 L2157.1,320.8 L2158.9,317.7 L2162.1,314.1 L2168.3,304.8 L2169.9,303.9 L2176.1,300.2 L2178.1,305.4 L2183.9,305 L2191.7,300.8 L2199.4,304.8 L2201.8,298.9 L2203.6,300.4 L2207.8,301.8 L2213.8,304.3 L2220.7,306.5 L2222.8,311.2 L2221.3,319.8 L2222.9,326 L2217.8,324.6 L2222.5,334.7 L2218.7,335.1 L2221.1,341.4 L2225,341.7 L2229.4,342.5 L2238.2,344 L2243.3,343.8 L2247.8,347.1 L2250.4,344.4 L2256.5,347.1 L2261.1,347 L2268.2,346.7 L2271.9,354.6 L2274.2,358.7 L2283.3,355.6 L2286.4,359.9 L2290.3,365.9 L2295.9,369.2 L2294.5,369.5 L2303.8,371.2 L2311.2,367.1 L2314.8,364.4 L2318.2,366.5 L2320.2,367.2 L2328.8,369.9 L2335.6,366.3 L2340.8,371.7 L2338.7,373.7 L2340.9,381.3 L2344.3,382.9 L2347.8,392.4 L2350.2,393.1 L2354.5,396.5" fill="none" stroke="#1f5b45" stroke-width="1.7" stroke-linejoin="round"/>
<path d="M2293.5,482 L2289.8,483 L2282.7,482.5 L2279.4,486.2 L2277.3,478.9 L2279.4,474.1 L2281.5,473.2 L2280.1,463.8 L2277.6,462.1 L2279,455.6 L2274.7,451 L2275.2,442.3 L2274.9,439.5 L2280.2,438.6 L2277.3,433.3 L2279.3,426.6 L2279.1,418.9 L2278.3,416.4 L2274.7,405.1 L2271.7,407.2" fill="none" stroke="#1f5b45" stroke-width="1.7" stroke-linejoin="round"/>
<path d="M1746.8,397.2 L1746.1,389.5 L1749.1,390.3 L1743.8,378.5 L1743.6,379.7" fill="none" stroke="#1f5b45" stroke-width="1.7" stroke-linejoin="round"/>
<path d="M1766.6,343.9 L1765.1,338.8 L1764.8,344.9 L1767.9,349.3 L1769.5,355.5 L1773.2,360.4 L1777,363.4 L1781,363.6 L1783.9,365.7 L1786.3,366.7 L1790,365.3 L1792,361.6 L1791.7,356 L1792.7,352.9 L1794.4,348.9 L1797,344.8 L1799.3,343.7 L1804.8,341.5 L1809.1,341.7 L1813,341 L1818.9,342.7 L1820.6,346.5 L1822.3,348.4 L1821.8,352.1 L1821.7,356.8 L1824.5,359.4 L1826.4,364.9 L1830.2,366.9 L1829.3,369.4 L1826.8,370.9 L1824.5,372.3 L1822.9,374.4 L1819.7,373.9 L1816.2,375.2 L1810,376.6 L1807.5,375.8 L1802.3,373.4 L1799.8,371.3 L1795.9,371.4 L1792.9,370.3 L1791.1,367 L1787.8,362.7 L1784,361.4 L1780.4,360.1 L1774.3,361.6 L1772.7,366.9 L1768.3,370.6 L1766.5,374.9" fill="none" stroke="#1f5b45" stroke-width="1.7" stroke-linejoin="round"/>
<path d="M1896.7,380.6 L1891.1,382.9 L1885.6,381.8 L1882.6,376.7 L1883.4,373.7 L1884.2,369.2 L1880.6,366.6 L1875.6,364.8 L1871.9,361.9 L1869.1,357 L1868.4,350.8 L1870.3,347.7 L1872.3,346 L1876.6,348.5 L1880.9,351 L1885.3,346.2 L1887.1,342.5 L1888.1,339.3 L1884.8,337.7 L1880.8,335.8 L1878.1,337.8 L1873.9,338.9 L1870.1,340 L1865.3,342.7 L1859.3,342.5 L1856.3,341.6 L1853.5,339.4 L1851.4,334.2 L1849.6,328.1 L1853.6,324.6 L1855.6,322.1 L1860.1,320.4 L1862.7,318.5 L1863.4,313.3 L1865.5,310.4 L1864.2,312.9 L1862.3,318.5 L1861,322.1 L1860.4,328.2 L1859.2,331.4 L1859,334 L1857.4,336.5 L1859.4,341.7 L1864.4,344 L1869.3,343.4 L1875.1,342.9 L1877.6,344.1 L1881.1,346.5" fill="none" stroke="#1f5b45" stroke-width="1.7" stroke-linejoin="round"/>
<path d="M1821.1,417.1 L1817.7,419.9 L1813.5,422.7 L1809,422.4 L1804.7,423 L1798.7,422.3 L1793.4,420.8 L1790.6,425.4 L1785.1,423.3 L1782.3,423.5 L1780.1,421.8 L1778.2,418.5 L1779.2,414.4 L1781.2,411.4 L1786.2,408.6 L1789.2,406.9 L1794.1,408.8 L1798.1,410.7 L1800.9,413.5 L1803.4,416.3 L1807.7,419.5 L1810.9,419.9 L1815.5,419.6 L1820.8,421.5 L1825.7,422.5 L1831.4,422.8 L1834.3,423.1 L1836.7,424.1 L1839.9,423.7 L1844.2,424.5 L1850.4,426.2 L1854.8,425.5 L1856.6,423.6 L1856.8,418.8 L1855.3,416.4 L1851.3,414.5 L1847.4,412.8 L1843.5,409.2 L1838.1,408.1 L1835.3,407.2 L1830.5,403.6 L1826.9,399.4 L1823.7,396.2 L1821.1,390.4 L1823.9,388.5 L1826.4,387.2 L1830,384.7 L1831.4,382 L1834.5,379.8 L1839.1,378.8 L1842.4,377.7 L1847.9,374.2 L1850.3,375.9 L1850.2,381.2 L1850.2,384.1 L1851.7,387.9 L1852,391.6 L1850.9,397.6 L1849.3,400 L1846.2,402.8 L1844.2,405.4 L1841.9,408.4" fill="none" stroke="#1f5b45" stroke-width="1.7" stroke-linejoin="round"/>
<path d="M1810.7,432.6 L1811.8,436.4 L1814.2,437.7 L1818.8,441.4 L1824.3,439.6 L1830.1,442.6 L1831.4,446.2 L1835.5,448.3 L1834.7,445 L1833,439.5 L1831.6,436.5 L1833.4,434.6 L1837.3,433.7 L1843,432.2 L1846.7,429.6 L1852.5,430.1 L1853.9,435.6 L1851,440.4 L1848.6,441.8 L1844,442.1 L1840.2,442.5 L1836.9,444.7 L1832.7,448.6 L1831.3,442.5 L1831.7,439.1 L1834.2,436.4 L1838.1,436.4 L1841.7,437.5 L1844.3,438.8 L1846.2,443 L1842.7,444 L1839,441 L1835.2,438 L1833.1,434.4 L1833.9,429.4 L1835.2,425.7 L1836.1,420.4 L1837.1,417.6 L1838.7,412.8 L1840.8,409.8 L1840.7,404 L1841.3,399.2 L1842.3,396.2 L1842.3,392.6 L1837.9,391.7 L1835.1,393.2 L1831.2,395.5 L1825.4,398.4" fill="none" stroke="#1f5b45" stroke-width="1.7" stroke-linejoin="round"/>
<path d="M1801.2,449.3 L1804.8,449.1 L1808.1,447.4 L1810.2,445.7 L1814,445.8 L1818.7,447.9 L1821.8,447.8 L1825.1,447.4 L1831.1,446.7 L1825.9,448.8 L1822.8,451.4 L1819.5,453.5 L1818.4,455.9 L1818.1,458.8 L1815.1,456.3 L1812,453.1 L1808.2,450.4 L1803.2,448.9 L1801.2,446.6 L1799,444.9 L1796.9,442 L1796,437.2 L1793.8,432.5 L1791.1,429.6 L1791.6,424.5 L1794.9,420.1 L1795.6,414.5 L1798.1,413.3 L1801.5,408.2 L1804,408.3 L1806,405.6 L1810.7,408.2 L1813.1,412.1 L1817.3,411.8 L1820.3,414.8 L1821,417.2 L1824.4,421.9 L1824.9,424.7 L1823.7,431 L1818.9,433.6 L1816.5,431.3 L1813.4,427.6 L1810.5,425 L1806.2,423 L1803.7,419.6 L1800,415.1 L1797.4,411.7 L1796.5,406.4 L1796.2,400.6 L1795.6,397.6 L1797.3,394.8 L1797.8,388.4 L1799.2,386 L1803.8,386.7 L1805.5,392.2" fill="none" stroke="#1f5b45" stroke-width="1.7" stroke-linejoin="round"/>
<path d="M1842.4,356 L1837.2,353.8 L1832,352 L1828.2,351.2 L1824.7,350.3 L1819.1,350.6 L1816,351 L1811,348.5 L1807.4,343.7 L1804.2,338.2 L1799.9,334.3 L1800.3,340.7 L1801.6,343 L1804.4,346.3 L1803.6,352.7 L1802.2,358.9 L1798.8,360.3 L1795.4,361.4 L1789.4,362.8 L1784.8,364.3 L1786.4,368.5 L1786.4,372.1 L1785.8,377.5 L1784,379.3 L1778.2,381.1 L1773.5,385.6 L1774.6,388.1 L1775.6,390.5 L1779.5,392 L1783.8,389.5 L1789.2,387.7 L1794.2,386.5 L1799.2,385.9 L1804.7,388.5 L1809.6,392.3 L1814.5,394.8 L1817.4,393.8 L1823.7,394.6 L1827.6,393.1" fill="none" stroke="#1f5b45" stroke-width="1.7" stroke-linejoin="round"/>
<path d="M1800.2,427.9 L1801.5,424.1 L1802.1,420.4 L1800.6,417.5 L1797.2,417.2 L1795.5,418.3 L1795.3,421.2 L1796.8,423.1 L1798.8,421.2" fill="none" stroke="#1f5b45" stroke-width="1.7" stroke-linejoin="round"/>
<path d="M1794.4,427 L1795.8,424.1 L1797,419.9 L1794.9,417.3 L1792.1,416.1 L1789.9,418.7 L1789,421.4 L1791.2,422.7 L1793.1,420.7" fill="none" stroke="#1f5b45" stroke-width="1.7" stroke-linejoin="round"/>
<path d="M1827,428.9 L1825.9,426.1 L1826.5,422.3 L1823.6,420.4 L1820.7,420.7 L1819.1,424.1 L1822.3,425.9" fill="none" stroke="#1f5b45" stroke-width="1.7" stroke-linejoin="round"/>
<path d="M1823.2,428.5 L1820.9,426.1 L1821.8,422.8 L1819.2,419.5 L1816.6,421.1 L1815.5,424.6 L1818.1,425.1" fill="none" stroke="#1f5b45" stroke-width="1.7" stroke-linejoin="round"/>
<path d="M1818.8,428.7 L1817.2,426 L1817.8,422.5 L1816.1,419.8 L1811.8,421 L1812,423.3 L1814.3,424.1" fill="none" stroke="#1f5b45" stroke-width="1.7" stroke-linejoin="round"/>
<path d="M1814.9,428.9 L1813.5,425.1 L1813.8,422.2 L1811.3,419.2 L1807.8,419.7 L1806.9,423.9 L1810,424.5" fill="none" stroke="#1f5b45" stroke-width="1.7" stroke-linejoin="round"/>
<path d="M1755.9,397.5 L1752,397.4 L1747.8,395.7 L1746.5,392.1 L1748.8,389.9 L1751.3,390.1 L1752.4,392.7" fill="none" stroke="#1f5b45" stroke-width="1.7" stroke-linejoin="round"/>
<path d="M1751,396.5 L1746.4,397.1 L1743.6,395.3 L1741.3,392.3 L1743.3,389.2 L1746.9,389.1 L1747.3,392.2" fill="none" stroke="#1f5b45" stroke-width="1.7" stroke-linejoin="round"/>
<path d="M1807.6,444.9 L1804,442.2 L1803.8,438.7 L1800.5,436.4 L1797.8,438.5 L1798,442.8 L1800.8,442.4" fill="none" stroke="#1f5b45" stroke-width="1.7" stroke-linejoin="round"/>
<path d="M1802.6,445.4 L1800,442.4 L1798.8,438.6 L1796,436.4 L1793.2,438 L1792.6,442.3 L1795.2,442.6" fill="none" stroke="#1f5b45" stroke-width="1.7" stroke-linejoin="round"/>
<path d="M1843.5,348.8 L1847.7,350.1 L1851.4,349.3 L1853.7,345.5 L1852.4,342 L1848.7,342.4 L1848.9,345.3" fill="none" stroke="#1f5b45" stroke-width="1.7" stroke-linejoin="round"/>
<path d="M1848.1,348.7 L1851.7,348.6 L1856.2,347.1 L1857.4,344.8 L1855.9,340.7 L1853.5,340.4 L1853.1,343.7" fill="none" stroke="#1f5b45" stroke-width="1.7" stroke-linejoin="round"/>
<path d="M1852.3,347.5 L1856.2,348.5 L1859.9,346.1 L1861.7,343.6 L1860,339.8 L1857.1,339.1 L1857,342.6" fill="none" stroke="#1f5b45" stroke-width="1.7" stroke-linejoin="round"/>
<path d="M1823.2,412.4 L1824.7,406.9 L1824.7,403.2 L1827.4,399.4 L1832.4,400.9 L1833.2,405.5 L1830.4,406.9" fill="none" stroke="#1f5b45" stroke-width="1.7" stroke-linejoin="round"/>
<path d="M1826.3,411.4 L1828.8,406.2 L1828,402.2 L1831,399.1 L1836.4,399.9 L1836.9,404.7 L1833.9,405.5" fill="none" stroke="#1f5b45" stroke-width="1.7" stroke-linejoin="round"/>
<path d="M1829.7,409.8 L1832.5,405.3 L1832.2,400.5 L1835.8,397.5 L1840,399.1 L1841,403.7 L1836.9,404.6" fill="none" stroke="#1f5b45" stroke-width="1.7" stroke-linejoin="round"/>
<path d="M1799.1,460.1 L1799.2,456 L1797.7,452.3 L1794.3,451.6 L1791,453.5 L1790.5,455.4 L1792,457.9 L1794.5,457.6 L1794.5,456.7" fill="none" stroke="#1f5b45" stroke-width="1.7" stroke-linejoin="round"/>
<path d="M1795.4,459.8 L1795.4,455.7 L1793,453.1 L1790.7,452.1 L1787,453.1 L1786.1,456.2 L1787.9,457.7 L1790.3,458.6 L1790.9,456.9" fill="none" stroke="#1f5b45" stroke-width="1.7" stroke-linejoin="round"/>
<path d="M1798.8,351.2 L1798.6,347.7 L1800.2,343.4 L1803.5,342.8 L1806.6,344.4 L1807.2,347.5 L1805.3,348.6 L1804,346.9" fill="none" stroke="#1f5b45" stroke-width="1.7" stroke-linejoin="round"/>
<path d="M1805.2,350.2 L1804.1,346.7 L1805.7,342.1 L1808.4,341 L1813.3,343 L1813.5,345.9 L1810.7,346.5 L1810,345.5" fill="none" stroke="#1f5b45" stroke-width="1.7" stroke-linejoin="round"/>
<path d="M1810.6,349 L1809.2,344.8 L1811,341.7 L1814.6,339.9 L1818,342.3 L1818.4,345.2 L1816.8,346.4 L1815.4,344.3" fill="none" stroke="#1f5b45" stroke-width="1.7" stroke-linejoin="round"/>
<path d="M1816.5,347.3 L1815,344.4 L1816.9,340.4 L1820,339 L1824.6,340.9 L1824.9,343.9 L1821.8,345 L1820.7,343.9" fill="none" stroke="#1f5b45" stroke-width="1.7" stroke-linejoin="round"/>
<path d="M1846.2,412.1 L1842.1,410.2 L1840.2,406.4 L1840.9,402.4 L1844.2,402.1 L1847.4,403.2 L1845.5,405.8" fill="none" stroke="#1f5b45" stroke-width="1.7" stroke-linejoin="round"/>
<path d="M1841,410.5 L1837.8,408.6 L1834.7,405.5 L1835.7,401.3 L1839.6,400.4 L1841.9,402 L1840,404" fill="none" stroke="#1f5b45" stroke-width="1.7" stroke-linejoin="round"/>
<path d="M1835.9,409.2 L1832.5,407.1 L1830.4,403.7 L1831.3,400.5 L1833.9,399 L1837.5,401.2 L1835.5,402.9" fill="none" stroke="#1f5b45" stroke-width="1.7" stroke-linejoin="round"/>
<path d="M1830.3,408.1 L1826.3,406.7 L1824.3,403.2 L1825.4,399.4 L1829.1,398.1 L1832.2,399.3 L1830.2,402.1" fill="none" stroke="#1f5b45" stroke-width="1.7" stroke-linejoin="round"/>
<path d="M1833.7,401.5 L1835.3,397.1 L1832.3,393 L1828.9,391.9 L1823.8,394.1 L1823.4,397.4 L1826.5,399.1 L1827.7,397" fill="none" stroke="#1f5b45" stroke-width="1.7" stroke-linejoin="round"/>
<path d="M1829.7,402.5 L1831.3,398.1 L1828.2,393.9 L1824.5,392.8 L1820.1,394.9 L1820.2,398.6 L1822.8,399.2 L1823.7,397.4" fill="none" stroke="#1f5b45" stroke-width="1.7" stroke-linejoin="round"/>
<path d="M1826.1,403.1 L1826.7,399 L1824.8,394.9 L1821,393.8 L1816.6,396.3 L1816.6,399.4 L1819.1,400.1 L1820,399" fill="none" stroke="#1f5b45" stroke-width="1.7" stroke-linejoin="round"/>
<path d="M1739.5,367.6 L1743.2,367 L1747.2,366.4 L1750.2,367.9 L1754.5,368.4 L1751.9,370.8 L1754.7,372.3 L1755,374.4 L1751.6,375.7 L1747.4,375.8 L1744.2,374.6 L1741,374.7 L1736.9,374.3 L1736.8,372.4 L1736.2,370.7 L1738.1,369.3 L1739.5,367.6" fill="none" stroke="#1f5b45" stroke-width="1.7" stroke-linejoin="round"/>
<path d="M1815.6,357.9 L1810.1,357.3 L1812,353.7 L1808,350.8 L1812.8,348.9 L1815.7,346.7 L1820.4,344.8 L1825.8,345.8 L1829.9,348.2 L1828.6,351.7 L1828.2,354.2 L1829.8,358.1 L1824.4,359.2 L1819.6,358.7 L1815.6,357.9" fill="none" stroke="#1f5b45" stroke-width="1.7" stroke-linejoin="round"/>
<path d="M1811.5,439.6 L1817.3,440.9 L1813.9,443.7 L1813,445.7 L1813,448.9 L1807.1,450.1 L1801.3,448.7 L1798.3,446.9 L1795.5,445.7 L1788.9,444.5 L1794.4,442.4 L1793.9,440.1 L1796,437.3 L1802.5,439.2 L1807.5,438 L1811.5,439.6" fill="none" stroke="#1f5b45" stroke-width="1.7" stroke-linejoin="round"/>
<path d="M1822.6,377.6 L1825.1,376.9 L1827.3,376.5 L1828.8,379.6 L1829.7,381.6 L1830.4,385.1 L1830.9,389.1 L1828.9,390.1 L1825.7,388.1 L1826.2,385.2 L1826.5,382.9 L1826.3,380.5 L1827.1,377 L1829.6,375.7 L1833.9,375.7 L1837.7,374.1 L1839.4,372.6 L1842.5,370.9 L1844.5,370.2 L1847.6,367.9 L1848.3,363.9 L1844.9,360.6 L1841.1,360.4 L1838.8,359.9 L1835.6,359.8 L1833.6,358.6 L1831.1,359.5 L1829.6,362.5" fill="none" stroke="#1f5b45" stroke-width="1.7" stroke-linejoin="round"/>
<path d="M1874.8,395.3 L1878,398.5 L1881.3,400.7 L1883.7,400.9 L1886.4,399.7 L1886.6,396.3 L1885.9,392.6 L1885.3,388.4 L1885,384 L1884.8,381 L1884.9,376.9 L1886.6,373.5 L1887,371.5 L1888.6,372.7 L1888.7,375.9 L1885.4,379 L1881.3,380.2 L1878.5,383.6 L1878.5,388 L1876.3,392.1" fill="none" stroke="#1f5b45" stroke-width="1.7" stroke-linejoin="round"/>
<path d="M1850.4,408.9 L1852.8,411.7 L1852.9,414.5 L1850.5,416.6 L1848.3,418.5 L1846.2,419.6 L1845.8,421.8 L1843.2,424.6 L1840.7,422.5 L1840.2,418.1 L1843.9,416.1 L1847.2,416.7 L1851.5,418.5 L1853.9,421.3 L1855.7,422.3 L1855.6,425.6 L1856.9,427.3 L1858.5,429.1 L1861.9,431.6 L1858.2,431.1 L1855.5,433.5 L1853,433.2 L1851.3,431.9 L1849.5,430 L1847,429.2 L1843,428.8 L1840.9,428.7" fill="none" stroke="#1f5b45" stroke-width="1.7" stroke-linejoin="round"/>
<path d="M1776.9,407.6 L1776.8,403 L1775.2,400.9 L1772.1,400.9 L1769.1,401.5 L1766.9,401.6 L1763.1,401.6 L1760.9,403.4 L1758.8,406.2 L1759.4,409.7 L1761.8,411.1 L1766.2,411.7 L1770.1,413.1 L1773.5,413.7 L1775.8,414 L1779,416.9 L1776.7,420.7 L1774.9,423.2 L1770.8,423.6 L1767.7,421.7 L1767.1,418.9 L1765.5,417 L1766.8,412.6 L1766.2,409.1 L1765.4,404.9 L1764.7,402.4 L1765.3,398.9 L1768.1,395.5" fill="none" stroke="#1f5b45" stroke-width="1.7" stroke-linejoin="round"/>
<path d="M1861.1,383.5 L1858.6,380.3 L1857.4,376.9 L1857.7,374.4 L1859.6,371.6 L1861.8,367.9 L1864.3,366.1 L1866.1,369.5 L1868.1,370.3 L1871.5,370.5 L1873.9,369.8 L1871.1,367.3 L1868.7,367 L1866.8,368.4 L1865.5,372 L1865.4,374 L1868,376.1 L1870.1,376.3 L1874.4,374.8 L1877.8,371.4 L1876.2,367.3 L1873.6,364.9 L1869.8,363.3 L1867.9,365.4 L1866.1,368.2 L1865.7,371.8 L1865.5,374.1 L1868,377.1 L1871.5,376.8 L1874.9,377.7 L1878.4,377.5 L1875.6,374.3" fill="none" stroke="#1f5b45" stroke-width="1.7" stroke-linejoin="round"/>
<path d="M1847.8,360.7 L1849,358.6 L1848,355.6 L1845.2,354.1 L1841.6,356.1 L1842.5,358.4 L1845.5,359.8 L1849.2,357.2 L1849.9,353.1 L1849.6,350.7 L1847.2,348.6 L1844.3,347.9 L1841.9,344.5 L1837.5,345.2 L1834.1,346.7 L1832.3,350.7 L1830.6,355.1 L1829.8,357.8 L1831.1,361.9" fill="none" stroke="#1f5b45" stroke-width="1.7" stroke-linejoin="round"/>
<path d="M2019.9,335.7 L2019,333.1 L2024.2,332.3 L2021.7,337.6 L2018,338.3 L2012,339.5 L2006.8,341.1 L2003,342.6 L1999.8,345.8 L2000.4,351.2 L2003.8,354.9 L2008.2,356.1 L2011.8,357.3 L2016.4,358.4 L2020.1,360.2 L2023.6,361.6 L2025.9,363.5 L2027.8,365.7 L2029.9,371.3 L2036,372.5 L2041.3,370.8 L2046.6,369.2 L2052.8,369.4 L2053.7,366.5 L2051.5,360.9 L2047.4,356.5 L2043.6,355.8 L2038.6,357.4 L2034.6,357.6 L2029,357.4 L2023.3,356.8 L2019.5,352.6 L2014,352.1 L2010,348 L2009.5,342.2 L2007.6,338.8 L2005.2,333.7 L2009,335.1 L2014.4,336.7 L2020.1,336.5 L2025.2,337.8 L2029.1,336.4 L2025.6,335 L2023.9,340.7 L2020.8,342.8 L2016.9,343.5 L2011.5,342.8 L2006.8,340.1" fill="none" stroke="#1f5b45" stroke-width="1.7" stroke-linejoin="round"/>
<path d="M1970.7,356 L1974.7,358.7 L1976.3,364.9 L1975.4,368.1 L1977.1,373.8 L1977.5,378.5 L1975.3,383.4 L1978.6,387.9 L1980.1,393.7 L1978.8,399.1 L1980.2,404.2 L1977.6,407.3 L1977.4,403.6 L1977,400.3 L1976,396.4 L1975,391.3 L1970.1,390.3 L1965.7,389.4 L1962.8,389.6 L1959.2,394.7 L1961.9,396.6 L1965.1,400.1 L1968.8,400.7 L1973.6,399.6 L1976.4,398.6 L1977.9,395.5 L1977.4,392.4 L1977.3,388.3 L1976.2,386 L1973,383.6 L1970.1,382.5 L1966,385.2 L1967.3,390.5 L1970,395.1 L1971.5,398.1 L1973.8,400.9 L1979.2,398.7 L1978.5,393.1 L1975.2,390.3 L1970.3,387.1 L1964.5,385.4 L1961.3,384 L1955.6,385.1 L1952.6,384.3 L1947.1,383.7 L1944,385.3 L1943.3,390.8 L1946.2,394.8 L1947,399.6 L1952.9,401.5 L1957.8,403.5 L1963.1,405.7 L1967.1,406.6 L1969.9,402.5" fill="none" stroke="#1f5b45" stroke-width="1.7" stroke-linejoin="round"/>
<path d="M1981.6,354.4 L1981.4,349.3 L1980,344.1 L1983.2,339.3 L1986.5,339.5 L1992.1,342.4 L1995,344 L1993.2,350.2 L1991,355.8 L1988.4,360.3 L1988.1,362.8 L1988.9,367.1 L1990,371.9 L1992,374.3 L1993.2,379.7 L1995.1,382.8 L1996.8,385.1 L2001.7,389 L2005.4,385.8 L2011.9,386.1 L2016.9,386.2 L2021.3,388 L2024.5,388.3 L2027.7,392.6 L2031.9,395.3 L2037,397.3 L2038.4,395 L2041.6,392.2 L2045.3,391.6 L2048.1,394.4 L2045.5,396.9 L2042.5,396.8 L2039,398.6 L2033,396.4 L2028.1,393.2 L2023,390.3 L2018,386.6 L2016.4,382.4 L2015.5,379.8 L2013.5,377.8 L2011.7,375.8 L2009.4,372.9 L2008.8,368.6 L2007.3,364.9 L2003.6,360.3 L2003.9,356.2 L2002.3,354 L1998.5,350.4 L1999.4,345.3 L2002.5,344 L2004.3,338.9 L2004.2,334.4" fill="none" stroke="#1f5b45" stroke-width="1.7" stroke-linejoin="round"/>
<path d="M2023,402 L2020.4,403.3 L2017.2,407.4 L2021.1,408 L2023.7,408.7 L2027.6,407.9 L2029.4,405 L2032.6,403.4 L2037.2,400.4 L2039.7,399.5 L2045.7,398.6 L2049.2,398.2 L2053.5,395.8 L2053.1,390.9 L2055.7,387.2 L2057.7,384 L2061.6,380.6 L2059.4,374.7 L2056.5,369.5 L2055.4,364.8 L2053.2,359.4 L2054.2,355.7 L2057.9,353.5 L2061.5,357.6 L2064.9,357.5 L2068.5,360.8 L2072.8,362.6 L2075.4,364.5 L2077.9,366.3 L2081.9,368.8 L2083.2,374.7 L2082.7,378.5 L2087.2,383.1 L2088.9,386.6 L2091.1,391.3 L2091.8,394.4 L2095,397.4 L2094,400.2 L2091,403.4 L2088.9,405.4 L2085.3,407.2 L2081.1,405.8 L2077,403.1 L2071.1,401.9 L2067.6,399 L2063.5,396.4 L2058,394.9 L2053.9,395.2 L2049.6,390.4 L2044,390.3 L2037.6,390.6" fill="none" stroke="#1f5b45" stroke-width="1.7" stroke-linejoin="round"/>
<path d="M1901.4,379.2 L1904.1,377.2 L1904.9,373.5 L1903,370.9 L1900.9,369.6 L1898.3,371.6 L1900.6,373.4" fill="none" stroke="#1f5b45" stroke-width="1.7" stroke-linejoin="round"/>
<path d="M1905.4,379.3 L1907.4,376.6 L1908.6,373.9 L1906.9,370.6 L1904.2,370.5 L1903.1,372.9 L1904.6,374.8" fill="none" stroke="#1f5b45" stroke-width="1.7" stroke-linejoin="round"/>
<path d="M1895.9,371.9 L1899.3,369.4 L1899.6,365.2 L1904.4,363.8 L1906.6,366.7 L1906,370.9 L1903.5,371" fill="none" stroke="#1f5b45" stroke-width="1.7" stroke-linejoin="round"/>
<path d="M1900,371.1 L1903,368.5 L1903.8,364.6 L1908,363.6 L1911.6,365.9 L1911,370.3 L1907,369.9" fill="none" stroke="#1f5b45" stroke-width="1.7" stroke-linejoin="round"/>
<path d="M2025.1,385.1 L2028.9,379.6 L2029.7,374.2 L2026.9,370.2 L2022.6,368.9 L2019.1,371.2 L2018.2,374.5 L2021.7,376.9 L2023.9,376.1" fill="none" stroke="#1f5b45" stroke-width="1.7" stroke-linejoin="round"/>
<path d="M2019.3,385.2 L2023.8,379.9 L2024.6,374.3 L2022.6,370.4 L2017.7,369.1 L2014,370.7 L2013.4,374.6 L2015.8,378 L2018.6,375.6" fill="none" stroke="#1f5b45" stroke-width="1.7" stroke-linejoin="round"/>
<path d="M2014.6,385.2 L2018,379.9 L2019.3,375.1 L2016.4,371.7 L2012.8,369.2 L2008.6,371.7 L2008.1,375.4 L2010.7,377.5 L2013.5,376.8" fill="none" stroke="#1f5b45" stroke-width="1.7" stroke-linejoin="round"/>
<path d="M2009.3,385.6 L2012.4,380.6 L2014.3,375.1 L2011.4,370.9 L2007.2,369.8 L2003.7,371.5 L2003.3,375.6 L2005.2,378 L2008.2,376.6" fill="none" stroke="#1f5b45" stroke-width="1.7" stroke-linejoin="round"/>
<path d="M1908.2,334 L1910.9,330.7 L1913.4,327.2 L1912,323.4 L1907.8,322.5 L1905.8,323.9 L1907.6,327.1" fill="none" stroke="#1f5b45" stroke-width="1.7" stroke-linejoin="round"/>
<path d="M1913.5,334.8 L1916.9,331.6 L1919.1,328.5 L1917.3,324.4 L1914,323.2 L1911.4,325.1 L1913,327.9" fill="none" stroke="#1f5b45" stroke-width="1.7" stroke-linejoin="round"/>
<path d="M1953.9,328.5 L1953.6,322.4 L1950.8,318.7 L1947,317.4 L1943.2,318.8 L1942.3,323.2 L1944.4,325.4 L1947.3,325.2 L1948.1,323.8" fill="none" stroke="#1f5b45" stroke-width="1.7" stroke-linejoin="round"/>
<path d="M1949.7,327.3 L1949,321.5 L1946.5,317.7 L1943.4,317.5 L1938.9,318.7 L1938.3,322.4 L1939.6,324.5 L1943.6,324.5 L1943.7,322.9" fill="none" stroke="#1f5b45" stroke-width="1.7" stroke-linejoin="round"/>
<path d="M1945.7,326.8 L1945.8,321.3 L1942.3,316.7 L1938.9,316.7 L1934.8,317.3 L1933.5,321.5 L1936.1,324.4 L1939.3,324.4 L1940,321.9" fill="none" stroke="#1f5b45" stroke-width="1.7" stroke-linejoin="round"/>
<path d="M1941.6,325.2 L1941.3,319.9 L1938.6,316.6 L1935.4,315.1 L1931.1,317.2 L1930.1,320.2 L1932.6,322.9 L1935.8,323 L1935.5,321.1" fill="none" stroke="#1f5b45" stroke-width="1.7" stroke-linejoin="round"/>
<path d="M1930.4,361.8 L1928.8,357.7 L1931.1,352.8 L1935.6,352.1 L1939.8,354 L1939.9,358 L1937.4,358.8 L1935.8,357.1" fill="none" stroke="#1f5b45" stroke-width="1.7" stroke-linejoin="round"/>
<path d="M1933.3,362.5 L1932.1,357.5 L1934.2,352.8 L1938.7,352 L1943.2,354.5 L1944.2,358.2 L1941.2,359.6 L1939.1,356.9" fill="none" stroke="#1f5b45" stroke-width="1.7" stroke-linejoin="round"/>
<path d="M1936.7,362.4 L1936.2,358.3 L1938.5,353.4 L1942.9,352.4 L1947.4,354.1 L1947.1,358.5 L1944.3,359.5 L1943.3,357.9" fill="none" stroke="#1f5b45" stroke-width="1.7" stroke-linejoin="round"/>
<path d="M1940.7,362.5 L1939.1,358.7 L1941.3,353.1 L1946.5,352.8 L1950.4,354.2 L1950.9,358 L1948.1,359.4 L1946.7,357.5" fill="none" stroke="#1f5b45" stroke-width="1.7" stroke-linejoin="round"/>
<path d="M1938.6,377.7 L1943,378.4 L1946.3,376.9 L1947.9,373 L1944.9,370.1 L1942.1,370.9 L1942,373.8" fill="none" stroke="#1f5b45" stroke-width="1.7" stroke-linejoin="round"/>
<path d="M1942.8,376.8 L1947.2,376.6 L1950.4,375.6 L1951.9,371.1 L1949.4,369.6 L1946.8,369.5 L1946.2,371.8" fill="none" stroke="#1f5b45" stroke-width="1.7" stroke-linejoin="round"/>
<path d="M1907.9,343.7 L1912.4,344 L1916.9,341.9 L1917.9,337.7 L1915.1,333.7 L1911.7,335 L1911.6,337.7" fill="none" stroke="#1f5b45" stroke-width="1.7" stroke-linejoin="round"/>
<path d="M1914.1,345.2 L1919.2,345.6 L1922.6,342.9 L1924.3,338.2 L1921.3,334.9 L1917.9,336.2 L1917.9,339.8" fill="none" stroke="#1f5b45" stroke-width="1.7" stroke-linejoin="round"/>
<path d="M1919.9,347.3 L1925.2,347.1 L1928.2,344.5 L1929.3,339.2 L1927.1,337.3 L1922.9,336.6 L1923.9,340.7" fill="none" stroke="#1f5b45" stroke-width="1.7" stroke-linejoin="round"/>
<path d="M1925.9,347.6 L1930.1,347.4 L1934.6,345.9 L1935,341.1 L1932.7,337.7 L1928.9,338.6 L1929.4,342" fill="none" stroke="#1f5b45" stroke-width="1.7" stroke-linejoin="round"/>
<path d="M1936.2,335.6 L1928.3,336.3 L1923.8,333.5 L1922.8,330.9 L1919.8,328.4 L1925.1,326.7 L1929.1,323.8 L1935.8,325.7 L1940.7,326.8 L1948.3,328.4 L1949.8,332 L1943.4,334.5 L1936.2,335.6" fill="none" stroke="#1f5b45" stroke-width="1.7" stroke-linejoin="round"/>
<path d="M1939.1,342 L1943.3,344.1 L1941.3,346.4 L1935.2,346.6 L1932,349 L1927.4,347 L1921.8,347.4 L1918.7,345.6 L1915.8,343.5 L1921.6,341.6 L1922,339.9 L1925.1,338.9 L1928.3,337.3 L1932.5,338.3 L1936.8,338.6 L1939.3,340.2 L1939.1,342" fill="none" stroke="#1f5b45" stroke-width="1.7" stroke-linejoin="round"/>
<path d="M1892.1,371.2 L1887.8,372.3 L1883.7,374.7 L1877.6,374.7 L1874.8,371.5 L1869.8,369.9 L1870,366.8 L1871.6,364.2 L1876,362.9 L1877.7,360 L1882.8,361.5 L1887.1,360.8 L1892.9,360.8 L1892.9,364.1 L1898.2,366.3 L1897.8,369.6 L1892.1,371.2" fill="none" stroke="#1f5b45" stroke-width="1.7" stroke-linejoin="round"/>
<path d="M1908.8,377.4 L1907.6,382 L1907.9,385.2 L1911.7,385.4 L1913.1,382.9 L1911.8,379.7 L1910.7,377.4 L1907.4,374.2 L1905.5,373.4 L1901.7,374.5 L1899.9,373.7 L1896.6,376.5 L1894.2,378.5 L1894.8,382.2 L1897.3,385.8 L1902,385.9" fill="none" stroke="#1f5b45" stroke-width="1.7" stroke-linejoin="round"/>
<path d="M2027.7,387.4 L2023.4,388.3 L2018.9,388.7 L2015.1,389.7 L2010.5,389 L2006.2,389.7 L2004.2,392.3 L2001.8,395.6 L2003.3,398.1 L2003.7,402.3 L2006.4,404 L2009.9,405.6 L2014.1,404.2 L2018.2,404.9 L2020.3,404.1 L2022.5,402.5 L2027.1,403.5 L2029,402.3 L2032.3,401.6 L2034.6,402.9 L2037.3,400.4 L2039.3,397.4 L2040.6,394.2 L2036.8,392.7 L2032.1,392.8 L2029.7,393.4 L2029.8,397.3 L2033.6,399.2 L2036.2,398.7 L2038,397.7 L2039.4,395.9" fill="none" stroke="#1f5b45" stroke-width="1.7" stroke-linejoin="round"/>
<path d="M1890.1,375.5 L1887.9,378.8 L1885.3,382.4 L1886.9,385.1 L1888.9,388.2 L1890.1,392.2 L1892.8,391.2 L1895.9,389.3 L1899.1,387.5 L1901.3,383.9 L1902.9,380.1 L1903.5,377.3 L1906.3,374.6 L1909.6,373.4 L1911.6,371.8 L1910.9,376.5 L1908.2,377.4 L1904.8,375 L1904.1,371 L1901.1,367.4 L1898.8,366 L1894.7,367.2 L1891.9,369.7 L1890.5,371.8 L1888.8,374.1 L1887.3,377.5 L1887.1,381.6 L1886.4,383.9 L1886.2,386.4" fill="none" stroke="#1f5b45" stroke-width="1.7" stroke-linejoin="round"/>
<path d="M1920.6,360.5 L1922.7,364.6 L1923.4,368.1 L1921.5,372.3 L1917.2,373.4 L1915.1,374 L1911.6,372.9 L1911.4,370.1 L1911.5,367.5 L1914.3,365.1 L1917.4,364.6 L1919.4,367.2 L1919.4,371.1 L1918.3,375 L1916.1,376.5 L1914.3,378.5 L1912.5,381.5" fill="none" stroke="#1f5b45" stroke-width="1.7" stroke-linejoin="round"/>
<path d="M1994.2,392.5 L1992.2,394.9 L1987.9,396.9 L1985.5,395.9 L1982.6,392.6 L1980.4,389.8 L1981.8,387 L1984.6,386.1 L1986.7,387 L1989.2,387.9 L1991.3,388.7 L1992.9,390.2 L1992.2,393.1 L1989.9,395.7 L1985.4,394.1 L1984.5,392.3 L1983.7,388.9 L1983.7,386.7 L1985.7,384.5 L1987.5,381.7 L1989.1,380.3 L1992.1,380.9 L1994,381.8 L1994.8,383.7 L1996.9,384.7 L1999.7,387.2 L2001.1,391.6 L2000,394.2 L1999.5,396.3 L1999.6,398.6 L2001.5,401.6 L2005.4,404 L2008.2,400.9" fill="none" stroke="#1f5b45" stroke-width="1.7" stroke-linejoin="round"/>
<path d="M2089.1,372.2 L2091.6,373.3 L2094.3,373.1 L2099.9,372.9 L2102.5,372.8 L2104.4,370.8 L2104.8,364.6 L2105.8,361.5 L2108.8,360.3 L2113.9,356.7 L2116.3,355.5 L2119,354.2 L2122.6,357.1 L2127.6,358.6 L2130.5,360.9 L2132.5,362.6 L2129,366.7 L2129.5,371.8 L2132.4,373.7 L2131.6,376.3 L2133.3,380.5 L2130.7,382.7 L2127.7,383.9 L2124.7,387.1 L2122.3,388.2 L2117.9,388.1 L2113.7,388.1 L2110.9,386 L2110.6,381.9 L2113.9,378.6 L2115.5,376 L2117.6,374.2 L2118.5,371.2 L2118.8,367.9 L2121.6,364.2 L2120.8,358.2 L2119.5,353.5 L2122.4,350.1 L2123.8,346.7 L2125.4,344.2 L2126.5,339.6 L2129.6,338.3 L2132.6,336.1 L2135.4,340.1 L2138,343.8 L2140.2,346.2 L2140,349.6 L2139.4,352.1 L2137.1,355.8 L2137.7,360.7 L2138.3,365.5 L2136.8,368" fill="none" stroke="#1f5b45" stroke-width="1.7" stroke-linejoin="round"/>
<path d="M2120.6,373.1 L2119.9,368 L2119.8,365 L2118.8,360.6 L2115.3,357.5 L2110.6,355.2 L2107.3,349.8 L2105.8,345.5 L2102.7,340 L2102.6,337.4 L2105.1,331.8 L2106.6,328 L2108.6,326.5 L2113.7,328.5 L2114.7,331.8 L2113,337.6 L2110.1,339.6 L2106.2,339.5 L2101.5,339.3 L2097.7,337 L2093.2,339.6 L2091.1,343.7 L2087.6,347 L2088.7,349.5 L2088.2,354.4 L2086.7,356.7 L2085.5,359.7 L2085.7,362.3 L2085.7,366.5 L2082.1,367.9 L2078.1,366.6 L2076,365.1 L2074.1,362.1 L2076.6,360.3 L2080.3,356.1 L2084.3,355.7 L2089.6,353.1 L2093.8,352.7 L2096.9,353.9 L2100.7,353.3 L2105.8,355.6 L2106.4,361.3 L2104.8,367.1 L2101.2,369.5 L2099,371 L2096.4,371.9 L2093.7,372.3 L2091.7,370.4 L2087.4,370 L2082.6,368.9 L2078.1,368.9 L2074.5,370.5 L2069.2,370.3 L2069.8,367.4 L2071.5,364.7 L2074.2,362.2 L2078.2,360 L2081.8,360.2 L2087.2,359.2 L2091.3,359.6 L2093.9,361" fill="none" stroke="#1f5b45" stroke-width="1.7" stroke-linejoin="round"/>
<path d="M2186.6,374.7 L2183.5,373.5 L2179,369 L2180.9,364.4 L2182,361.5 L2183.1,356.1 L2186.7,351.7 L2188.2,348.2 L2190.2,346.1 L2193.3,343.7 L2194.5,338.8 L2195.6,336.3 L2198.1,332.5 L2200.1,330.6 L2195.9,330.6 L2192.5,334.3 L2190.3,338.6 L2192.8,343.1 L2197.5,343.2 L2201.7,343.7 L2204.8,347.1 L2206.5,352.6 L2208.2,355 L2208.9,361 L2209.6,364.7 L2205,367.7 L2199.1,365.5 L2197,364.1 L2192,362.1 L2188.7,357.6 L2184.1,354.3 L2178.7,351.7 L2175.5,346.9 L2175.5,343.1 L2180.4,339.3 L2186.4,336.8 L2192.4,334.6 L2196.4,339.4 L2198.5,344.2 L2203.3,348.5 L2205.7,349.9 L2210.2,352.6 L2214.3,352.6 L2216.9,354.1 L2219.8,355.6 L2225,357.1 L2229.9,358.8 L2232.7,359.3 L2238.2,362.4 L2237.2,368.7 L2234.6,370.7 L2231,376 L2229.9,378.5 L2227.3,383.3 L2227.5,389.8" fill="none" stroke="#1f5b45" stroke-width="1.7" stroke-linejoin="round"/>
<path d="M2044,402.8 L2048.1,399.8 L2049.6,395.7 L2047.1,392.3 L2043.7,391.1 L2041.5,393.7 L2043.1,395.6" fill="none" stroke="#1f5b45" stroke-width="1.7" stroke-linejoin="round"/>
<path d="M2049,402.9 L2052.5,400.4 L2053.2,396.2 L2051.6,392.6 L2048.1,391.7 L2045.4,394.3 L2047.7,396.7" fill="none" stroke="#1f5b45" stroke-width="1.7" stroke-linejoin="round"/>
<path d="M2053.5,402.9 L2056,400.3 L2057.6,396 L2056,392.3 L2052.5,391.9 L2049.8,393.7 L2051.9,396.7" fill="none" stroke="#1f5b45" stroke-width="1.7" stroke-linejoin="round"/>
<path d="M2211.2,354.4 L2211.8,350.2 L2214.5,347.1 L2218.3,346.2 L2220.9,348.2 L2221.4,351.1 L2220.3,353.6 L2216.8,353.6 L2216.7,350.7" fill="none" stroke="#1f5b45" stroke-width="1.7" stroke-linejoin="round"/>
<path d="M2216.9,356 L2217.8,351.3 L2219.9,348 L2222.6,346.8 L2226,349 L2226.9,352.1 L2225.3,353.6 L2221.5,353.6 L2222.2,352.3" fill="none" stroke="#1f5b45" stroke-width="1.7" stroke-linejoin="round"/>
<path d="M2221.5,356.7 L2222.7,351.7 L2224.5,348.8 L2228.4,348 L2231.4,349.6 L2232.6,352.8 L2229.6,354.6 L2227.4,355.1 L2226.9,353.1" fill="none" stroke="#1f5b45" stroke-width="1.7" stroke-linejoin="round"/>
<path d="M2227,356.4 L2228,352.4 L2230.5,348.9 L2233,348.9 L2236.2,349.8 L2237.6,353.7 L2235,355.6 L2232.5,355.2 L2232.1,353.4" fill="none" stroke="#1f5b45" stroke-width="1.7" stroke-linejoin="round"/>
<path d="M2121.6,384.7 L2126.2,384.9 L2125.4,387.1 L2129.4,389 L2127.2,391.3 L2122.3,392 L2117.7,392.1 L2115.1,390.3 L2112.7,389.3 L2111.5,387.7 L2111.5,385.9 L2114.2,384.4 L2117.9,382.7 L2121.6,384.7" fill="none" stroke="#1f5b45" stroke-width="1.7" stroke-linejoin="round"/>
<path d="M2225.1,304.7 L2222.6,306.2 L2221.8,307.4 L2221.4,309.4 L2217.9,309.4 L2215.1,308.7 L2211,309.5 L2211.1,307.3 L2210.6,306.1 L2209.1,304.9 L2210.4,303.6 L2210.9,301.6 L2214.8,302.1 L2217.8,301.5 L2221.6,301.5 L2221.2,303.9 L2225.1,304.7" fill="none" stroke="#1f5b45" stroke-width="1.7" stroke-linejoin="round"/>
<path d="M2170.2,396.2 L2172.6,396 L2174.9,395.8 L2179,397 L2182.7,394.9 L2183.4,392.8 L2184.1,390 L2183,386.9 L2181,385 L2179.7,381.2 L2180.8,377.4 L2181.7,375.6 L2181.6,373.3 L2178.5,371.8 L2174.8,372.7 L2172.2,373.8 L2170.8,377.3 L2169.1,379.1 L2166.8,380.5 L2164.8,382.1 L2162.9,386.1 L2164.1,390.7 L2166.9,394.5" fill="none" stroke="#1f5b45" stroke-width="1.7" stroke-linejoin="round"/>
<path d="M2084.6,390.3 L2083.7,386.7 L2081,383.2 L2078,380 L2076.9,377.7 L2076,374.4 L2076.2,370 L2079.2,369.8 L2080.9,371.5 L2082.2,375.8 L2083.2,378 L2084.6,379.5 L2083.9,384.2 L2084.9,386.8 L2086.9,388.6 L2087,393.4 L2087.4,395.7 L2086.4,399 L2085.5,401.4 L2082.7,404.3 L2079.9,406.5 L2077.6,408.5 L2081.1,406.9 L2082.4,404.6 L2083.5,402.7 L2085.2,401.2 L2086.2,398.4 L2087.4,396.5 L2089.4,394.8 L2091.4,393 L2093.6,389.1" fill="none" stroke="#1f5b45" stroke-width="1.7" stroke-linejoin="round"/>
<path d="M2322.5,382.4 L2327.1,378 L2329.4,374.7 L2330.3,371.6 L2331,368.3 L2331.8,371.5 L2331.5,377.5 L2332.5,382.5 L2332.1,385.4 L2330.3,390.7 L2327.1,395.5 L2326.7,398.1 L2325.3,402.6 L2323.5,404.7 L2321.8,409.2 L2321.7,414.7 L2324.7,419.7 L2327.4,422.2 L2328.7,427.7 L2328.3,432.5 L2325.6,437.4 L2324.3,440.3 L2319.9,443 L2316.1,443.4 L2313.3,441.2 L2311.6,439.1 L2309.4,434.7 L2308,431.9 L2306.8,429.4 L2303.9,425.5 L2301.5,419.7 L2302.5,413.4 L2300.8,410.1 L2301.3,403.8 L2303.2,398.1 L2305.1,393.2 L2305.9,388.4 L2306,384.2 L2310.9,381 L2315.5,383.2 L2318.3,383.7 L2321,385 L2327.1,385.5" fill="none" stroke="#1f5b45" stroke-width="1.7" stroke-linejoin="round"/>
<path d="M2319,458.2 L2318.8,464.5 L2317.5,458.5 L2317.6,454.5 L2318.7,450 L2315.4,445.4 L2312.6,441.1 L2308.8,436.3 L2305.4,433.9 L2302.5,434.2 L2299.3,436.7 L2295.9,442 L2293.8,443.8 L2292.4,446 L2293,451.1 L2296.3,455.8 L2300.3,458.1 L2304.4,455.6 L2308.1,450.7 L2308.1,446.1 L2306.7,440.1 L2303.4,435.6 L2299.8,431.1 L2303,429.1 L2308.5,429.1 L2313.7,428.3 L2318.8,430.7 L2321.2,433.6 L2323.7,438.3 L2328.9,440.9 L2334.3,444 L2339,444.4 L2341.8,443.2 L2340.5,439.4 L2342,433.2 L2341.8,426.9 L2342.9,420.7 L2344.9,415.2 L2349.5,418.8 L2351.3,422.3" fill="none" stroke="#1f5b45" stroke-width="1.7" stroke-linejoin="round"/>
<path d="M2336.7,378.8 L2338.9,381.2 L2341.4,380.9 L2346.4,383.3 L2348.8,386.5 L2346,386.1 L2341.3,389.6 L2338.1,392 L2339.1,396.8 L2340.6,399.5 L2342.5,404.5 L2340.5,406.4 L2339.5,412.5 L2337.2,416.2 L2339,418.2 L2340.6,420.9 L2343,420 L2346.1,415 L2345.9,409.7 L2342.7,405.1 L2337,402.2 L2332.6,401.1 L2329.1,402 L2326.1,402.5 L2321,400.9 L2321.1,397.2 L2327.2,396.8 L2330.6,395.6 L2336.6,395.6 L2338.8,393.8 L2341.1,391.8 L2346.5,394.3 L2349.4,397.7 L2350.5,400.7 L2349.1,404.9 L2347.3,410.1 L2344.9,413.9 L2344.5,416.8 L2344.7,421.1 L2346.1,423.2 L2349.8,428.6 L2347.9,431.4 L2345.9,434.3 L2339.8,434.2 L2337.6,432.6 L2333.7,431.5 L2331.3,429.9 L2330.5,427.4 L2329.6,422.6 L2329.3,417.9 L2328.1,414.5 L2323.7,410.9 L2317.4,411.8" fill="none" stroke="#1f5b45" stroke-width="1.7" stroke-linejoin="round"/>
<path d="M2291.1,446.1 L2287.4,446.2 L2282.3,447.5 L2287,449.7 L2290.9,450.7 L2295.1,448.4 L2299.9,447.3 L2302.5,447.2 L2307.1,450.8 L2308.4,453.1 L2313,455.9 L2316,458.3 L2319.6,461.5 L2319.9,466.2 L2317.7,460.4 L2313.6,457.7 L2311,457.9 L2307.5,462.3 L2305.2,465.8 L2303.3,468.9 L2300.6,471.6 L2299.4,477.3 L2297.6,479.7 L2294.1,481.6 L2290.3,481 L2286,480.1 L2289.2,475.4 L2291,470.9 L2294.1,468.2 L2299.8,465.7 L2304.1,465.1 L2307.5,462.3 L2310.3,461.2 L2312.5,457.9 L2316.6,455.1 L2319.2,456.8 L2324.4,458.7 L2328.9,463.1 L2329.1,459.2 L2330.9,454.8 L2332.5,451.5 L2333.6,447.2 L2331.2,443.3 L2326,442.3 L2322.5,443.8 L2317.4,446.9 L2317.6,451.2 L2320.4,454.9 L2324,456.9 L2325.8,459.8" fill="none" stroke="#1f5b45" stroke-width="1.7" stroke-linejoin="round"/>
<path d="M2334,390.7 L2334.3,395 L2331.5,400.3 L2331.5,404.4 L2330.8,409.8 L2331.2,415.6 L2332.6,418.9 L2333.9,424.1 L2336.1,428.8 L2334.9,432.6 L2336,437.7 L2339.5,442.3 L2342.2,445.5 L2344,447.8 L2348,445.7 L2345.2,443.1 L2343.6,440.4 L2341.6,435.2 L2337.3,433.3 L2334.3,430.4 L2337.4,424.8 L2338.9,419.9 L2337.8,414.5 L2335.5,409.7 L2333,408 L2331.8,405 L2328,402.6 L2323.5,398.4 L2320.6,397.3 L2317,397.2 L2311.7,396.4 L2306.7,393 L2302.6,391.3 L2300,386 L2299.3,383.5 L2298.3,379.9 L2297.8,373.6 L2300.9,372.5 L2303.9,370.7 L2307.6,372.7 L2311.2,373.7 L2314,373.4 L2318,369.4 L2321.1,372.8 L2319.8,376 L2318.3,379.5 L2317.2,382.7 L2312.1,384.1 L2306.7,385.2 L2301.6,381.8 L2298.8,378.1 L2297.4,375.4 L2295.9,371.1 L2299.5,369.8 L2304.4,371.1 L2305.8,373.6 L2307.3,375.9 L2311.4,377.2 L2314.9,378.3 L2321.1,378.6 L2323.4,377.7" fill="none" stroke="#1f5b45" stroke-width="1.7" stroke-linejoin="round"/>
<path d="M2308.7,442.7 L2307.1,437.7 L2308.2,433.8 L2305.8,429.5 L2301.2,431.2 L2298.7,435.1 L2302.8,436.6" fill="none" stroke="#1f5b45" stroke-width="1.7" stroke-linejoin="round"/>
<path d="M2303.8,443.7 L2301.1,438.7 L2303.3,434.1 L2299.9,431.4 L2295.3,432 L2293.7,435.9 L2296.8,437.8" fill="none" stroke="#1f5b45" stroke-width="1.7" stroke-linejoin="round"/>
<path d="M2308.4,414.7 L2305.5,411.1 L2306.6,405.4 L2303,402.8 L2298,403.2 L2297.9,408.7 L2300.7,409.7" fill="none" stroke="#1f5b45" stroke-width="1.7" stroke-linejoin="round"/>
<path d="M2302.3,417.2 L2300.5,411.5 L2301.9,407.2 L2297.9,403.8 L2292.7,405.3 L2292.6,409.3 L2295.5,411.3" fill="none" stroke="#1f5b45" stroke-width="1.7" stroke-linejoin="round"/>
<path d="M2297.1,418.5 L2295,413.2 L2296.5,409.4 L2292.1,405 L2288.3,407.1 L2287.1,410.9 L2290,412.5" fill="none" stroke="#1f5b45" stroke-width="1.7" stroke-linejoin="round"/>
<path d="M2292.7,419.2 L2289.6,415.2 L2291,410.4 L2287.1,407.1 L2282.5,408.3 L2281.5,412.1 L2285.2,413.9" fill="none" stroke="#1f5b45" stroke-width="1.7" stroke-linejoin="round"/>
<path d="M2267.1,392.3 L2263.9,386.2 L2264,381.3 L2267.5,377.9 L2272.4,377.4 L2275,380.3 L2274.5,383.8 L2271.3,385.4 L2269.3,383.5" fill="none" stroke="#1f5b45" stroke-width="1.7" stroke-linejoin="round"/>
<path d="M2271,393 L2268.7,387.3 L2268.2,382.9 L2271.7,379.4 L2276.5,378.1 L2278.9,381.4 L2279.2,384.8 L2275.9,386.7 L2274.1,385.5" fill="none" stroke="#1f5b45" stroke-width="1.7" stroke-linejoin="round"/>
<path d="M2274.3,394.3 L2272.8,388.7 L2271.9,383.3 L2275.9,380.7 L2280.5,379.4 L2283.5,382.5 L2283.4,386.7 L2279.2,387.8 L2278.2,386.5" fill="none" stroke="#1f5b45" stroke-width="1.7" stroke-linejoin="round"/>
<path d="M2251.1,375.7 L2254.8,372.1 L2255.6,367.9 L2254.2,364.6 L2249.6,362.9 L2247,364.4 L2246.2,368.3 L2248.9,369.8 L2250,368.4" fill="none" stroke="#1f5b45" stroke-width="1.7" stroke-linejoin="round"/>
<path d="M2247.6,375.1 L2249.9,370.7 L2250.9,367.1 L2249.8,364.1 L2246.1,362.1 L2242.7,363.2 L2242.9,367.3 L2244.3,369.3 L2246.8,367.3" fill="none" stroke="#1f5b45" stroke-width="1.7" stroke-linejoin="round"/>
<path d="M2243.7,374 L2246.2,370.1 L2248,366 L2246.3,362.5 L2242.6,360.6 L2239.6,363.2 L2238.2,366.1 L2240.4,367.6 L2242,367.1" fill="none" stroke="#1f5b45" stroke-width="1.7" stroke-linejoin="round"/>
<path d="M2238.9,373.1 L2242.6,368.7 L2243.7,364.8 L2242.3,361.5 L2238.3,360.5 L2235.5,361.4 L2234.9,364.5 L2237.3,366.8 L2238.1,365.8" fill="none" stroke="#1f5b45" stroke-width="1.7" stroke-linejoin="round"/>
<path d="M2288.8,411.1 L2291.9,410.6 L2295.3,408.5 L2295,406.2 L2293.6,403.4 L2290.6,405 L2291.7,406.9" fill="none" stroke="#1f5b45" stroke-width="1.7" stroke-linejoin="round"/>
<path d="M2293.4,413 L2296.5,412.2 L2299.6,409.9 L2300.3,406.9 L2297.6,405.1 L2294.8,406 L2295.1,408.3" fill="none" stroke="#1f5b45" stroke-width="1.7" stroke-linejoin="round"/>
<path d="M2344.9,449.1 L2347.2,445 L2347.6,441.4 L2346.1,439.6 L2342.3,438.2 L2340.4,440.1 L2340.4,442.1 L2342.9,444.1 L2343.9,442.8" fill="none" stroke="#1f5b45" stroke-width="1.7" stroke-linejoin="round"/>
<path d="M2341.6,447.3 L2342.9,444.3 L2344,440.8 L2341.4,437.6 L2338.5,436.7 L2336.9,438.3 L2335.8,441.4 L2338.9,442.4 L2339.2,442.2" fill="none" stroke="#1f5b45" stroke-width="1.7" stroke-linejoin="round"/>
<path d="M2256,395.1 L2257.1,390.3 L2254.3,384.7 L2249,383.1 L2243.8,385.5 L2243.5,391 L2246.6,390.8 L2248.8,389.2" fill="none" stroke="#1f5b45" stroke-width="1.7" stroke-linejoin="round"/>
<path d="M2252.2,396 L2253.2,390.9 L2251,386 L2245.7,384.1 L2239.5,387.6 L2239.2,391.1 L2242.6,392.7 L2244.9,390" fill="none" stroke="#1f5b45" stroke-width="1.7" stroke-linejoin="round"/>
<path d="M2247.5,397.2 L2249.5,392 L2246.1,387.2 L2240.9,385.1 L2236.2,387.8 L2235,392.9 L2239.3,393.3 L2240.3,392" fill="none" stroke="#1f5b45" stroke-width="1.7" stroke-linejoin="round"/>
<path d="M2243.9,398.1 L2245,393.4 L2242.2,388.6 L2237.2,386.8 L2232.4,389.1 L2231.6,394.4 L2235.1,394.8 L2236.3,393" fill="none" stroke="#1f5b45" stroke-width="1.7" stroke-linejoin="round"/>
<path d="M2260.4,353.7 L2256.8,349.8 L2258.1,343.4 L2261.7,340.3 L2267.6,341.1 L2268.8,344.6 L2266.1,347.6 L2264.8,345.3" fill="none" stroke="#1f5b45" stroke-width="1.7" stroke-linejoin="round"/>
<path d="M2265.9,352 L2262.7,348.6 L2263.4,342.7 L2267.7,340.1 L2272.8,340.6 L2274.6,344.4 L2272.7,345.9 L2270.7,344.8" fill="none" stroke="#1f5b45" stroke-width="1.7" stroke-linejoin="round"/>
<path d="M2271.2,351.2 L2268,347.5 L2269.4,341.7 L2272.9,338.4 L2279.1,339.4 L2280.7,342.1 L2278.3,345.3 L2275.8,343.3" fill="none" stroke="#1f5b45" stroke-width="1.7" stroke-linejoin="round"/>
<path d="M2233.4,378.8 L2234.1,374.3 L2235.6,370.6 L2239.5,369.9 L2242.9,371.5 L2242.8,375.6 L2240.9,376.9 L2238.5,377.2 L2237.9,374.5" fill="none" stroke="#1f5b45" stroke-width="1.7" stroke-linejoin="round"/>
<path d="M2238,378.1 L2239.7,374 L2240.8,370 L2244.8,369.3 L2247.9,371 L2248.3,375 L2246.7,377 L2243.6,377 L2244.2,373.8" fill="none" stroke="#1f5b45" stroke-width="1.7" stroke-linejoin="round"/>
<path d="M2243.8,377.7 L2244.6,373.4 L2246.3,370.3 L2249.9,369.9 L2253.1,370.4 L2254,374.4 L2251.7,376.1 L2249.4,376.3 L2248.8,373.6" fill="none" stroke="#1f5b45" stroke-width="1.7" stroke-linejoin="round"/>
<path d="M2249.1,376.6 L2249.2,371.9 L2251.9,369.7 L2255.6,368.6 L2258.1,370.5 L2258.7,373.9 L2257.7,375.2 L2254.1,374.8 L2254.8,373" fill="none" stroke="#1f5b45" stroke-width="1.7" stroke-linejoin="round"/>
<path d="M2300.3,455.4 L2303.6,453.9 L2307.5,453.8 L2310.8,455.1 L2311.3,457.7 L2311.4,459.7 L2312.5,463.1 L2308.6,464.7 L2304.7,462.8 L2302.2,461.7 L2297.5,460.8 L2299.9,458 L2300.3,455.4" fill="none" stroke="#1f5b45" stroke-width="1.7" stroke-linejoin="round"/>
<path d="M2250.9,408.4 L2246.5,408.9 L2243.1,407.2 L2242.6,404.9 L2242.7,403.1 L2242.2,400.7 L2244.5,398.1 L2249.5,399.9 L2253.9,399.1 L2256.9,401 L2257.9,403.3 L2257.3,405.6 L2254.1,407.1 L2250.9,408.4" fill="none" stroke="#1f5b45" stroke-width="1.7" stroke-linejoin="round"/>
<path d="M2315.3,383.8 L2319.6,381.7 L2326.7,382.8 L2335.2,383 L2335.4,385.5 L2332.4,387.2 L2332.4,389.3 L2325.3,389.3 L2318.4,390.8 L2314.8,388.6 L2310.5,387.2 L2312.8,385.3 L2315.3,383.8" fill="none" stroke="#1f5b45" stroke-width="1.7" stroke-linejoin="round"/>
<path d="M2240.9,364.5 L2239.8,361.3 L2236.8,359.7 L2233.1,359.2 L2230.6,359.1 L2226.7,359.6 L2224.1,362 L2220.9,363.4 L2221.3,365.9 L2220.3,368.7 L2221.3,370.9 L2223.6,374.3 L2226,377.1 L2229.9,374.6 L2232,374.1 L2235,373.6 L2238.4,372.6 L2240,369.1 L2238.5,365.2 L2235.9,365.2" fill="none" stroke="#1f5b45" stroke-width="1.7" stroke-linejoin="round"/>
<path d="M2309.7,425.2 L2308.6,428.1 L2308.5,432.6 L2308.8,435.5 L2309.3,440 L2309.7,442.8 L2309.4,446.7 L2304.8,448.1 L2300.2,448.6 L2297.6,444.6 L2298.6,440.1 L2299,436.5 L2297.6,432.7 L2297.8,430 L2297.6,427.6 L2296.5,425.4 L2295.4,423.1 L2293.1,421.3 L2289.7,420.5 L2287,421.5 L2283.4,423.2 L2280.3,426.4 L2283.5,428.3 L2287.5,426.9 L2290,424.9 L2292.4,423.7 L2295.6,421.3 L2297.9,417.5" fill="none" stroke="#1f5b45" stroke-width="1.7" stroke-linejoin="round"/>
<path d="M2272,374 L2275.9,376.4 L2274.4,380.4 L2272.3,384.7 L2268.7,385.3 L2264.6,385.4 L2261.1,383 L2259.6,380.6 L2256.7,377.4 L2255.7,374.8 L2255.8,370.2 L2256.3,367.5 L2258,365.6 L2260,364.9 L2262.6,364.8 L2267.2,365 L2269.2,365.2 L2273.3,364.1" fill="none" stroke="#1f5b45" stroke-width="1.7" stroke-linejoin="round"/>
<path d="M2345,430.3 L2342.3,426.9 L2342.4,424.7 L2343.6,421.2 L2344.8,419.5 L2347.9,417.8 L2352,419.3 L2353.6,421.1 L2354.6,424 L2351.5,426.6 L2347.4,428.5 L2344.1,429.1 L2339.7,429 L2337.3,426.1 L2333.5,424.1 L2329.4,421.9 L2329,418.8 L2326.8,415.7 L2324.3,412.7 L2327.4,410.3 L2330.5,409.9 L2332.2,411.5 L2335.5,414.8 L2337.5,418.4 L2337.6,423.1 L2338.7,427.3" fill="none" stroke="#1f5b45" stroke-width="1.7" stroke-linejoin="round"/>
<path d="M2318.5,371.1 L2322.3,368.9 L2319.6,371.6 L2317.6,374.3 L2316.6,377.7 L2317.9,380 L2320.1,381.2 L2324.4,379.4 L2325.1,376 L2321.4,373.5 L2318.9,375 L2317.1,377.5 L2316.5,381.1 L2318,383.8 L2321.4,386.5 L2322.1,388.6 L2325.5,385.9 L2326,383.6 L2327.6,379.9 L2330.9,377.2 L2333.1,374.5 L2334,370.5 L2332.2,367.7 L2328.9,370.9 L2328.8,373.5 L2328,377.2 L2327.1,381.2 L2325.6,383.4 L2323.5,385.9" fill="none" stroke="#1f5b45" stroke-width="1.7" stroke-linejoin="round"/>
<path d="M2282,440 L2288,452 L2280,462 L2290,470 L2283,480 L2272,488" fill="none" stroke="#1f5b45" stroke-width="1.7" stroke-linejoin="round"/>
<path d="M2010,408 L2018,418 L2012,428 L2020,440 L2013,447" fill="none" stroke="#1f5b45" stroke-width="1.7" stroke-linejoin="round"/>
<line x1="1029.5" y1="400.4" x2="1131.5" y2="400.4" stroke="#a0a0a0" stroke-width="2.5"/>
<line x1="1029.5" y1="400.4" x2="1029.5" y2="818" stroke="#a0a0a0" stroke-width="2.5"/>
<line x1="948.8" y1="523.9" x2="1077.2" y2="523.9" stroke="#a0a0a0" stroke-width="2.5"/>
<line x1="987.3" y1="564.4" x2="987.3" y2="778.4" stroke="#a0a0a0" stroke-width="2.5"/>
<line x1="873" y1="730" x2="1131.5" y2="730" stroke="#a0a0a0" stroke-width="2.5"/>
<line x1="1073.9" y1="523.9" x2="1073.9" y2="730" stroke="#a0a0a0" stroke-width="2.5"/>
<polygon points="1073.9,523.9 1077.9,534.9 1069.9,534.9" fill="#a0a0a0"/>
<polygon points="1073.9,730 1069.9,719 1077.9,719" fill="#a0a0a0"/>
<line x1="1126.6" y1="400.4" x2="1126.6" y2="730" stroke="#a0a0a0" stroke-width="2.5"/>
<polygon points="1126.6,400.4 1130.6,411.4 1122.6,411.4" fill="#a0a0a0"/>
<polygon points="1126.6,730 1122.6,719 1130.6,719" fill="#a0a0a0"/>
<line x1="856.6" y1="775.1" x2="991.6" y2="775.1" stroke="#a0a0a0" stroke-width="2.5"/>
<polygon points="861.5,775.1 872.5,771.1 872.5,779.1" fill="#a0a0a0"/>
<polygon points="987.3,775.1 976.3,779.1 976.3,771.1" fill="#a0a0a0"/>
<line x1="856.6" y1="815.3" x2="1032.7" y2="815.3" stroke="#a0a0a0" stroke-width="2.5"/>
<polygon points="861.5,815.3 872.5,811.3 872.5,819.3" fill="#a0a0a0"/>
<polygon points="1029.5,815.3 1018.5,819.3 1018.5,811.3" fill="#a0a0a0"/>
<text x="1083.5" y="569.3" font-family="Liberation Sans" font-size="27" font-weight="normal" fill="#a0a0a0" text-anchor="start" textLength="37" lengthAdjust="spacingAndGlyphs">H2</text>
<text x="1037.5" y="645" font-family="Liberation Sans" font-size="27" font-weight="normal" fill="#a0a0a0" text-anchor="start" textLength="32" lengthAdjust="spacingAndGlyphs">H1</text>
<text x="915.5" y="770.2" font-family="Liberation Sans" font-size="27" font-weight="normal" fill="#a0a0a0" text-anchor="start" textLength="28.5" lengthAdjust="spacingAndGlyphs">L1</text>
<text x="930.5" y="811.4" font-family="Liberation Sans" font-size="27" font-weight="normal" fill="#a0a0a0" text-anchor="start" textLength="31.5" lengthAdjust="spacingAndGlyphs">L2</text>
<line x1="2281.3" y1="406" x2="2368" y2="406" stroke="#a0a0a0" stroke-width="2.5"/>
<line x1="2160.7" y1="543.9" x2="2368" y2="543.9" stroke="#a0a0a0" stroke-width="2.5"/>
<line x1="2365.4" y1="406" x2="2365.4" y2="543.9" stroke="#a0a0a0" stroke-width="2.5"/>
<polygon points="2365.4,406 2369.4,417 2361.4,417" fill="#a0a0a0"/>
<polygon points="2365.4,543.9 2361.4,532.9 2369.4,532.9" fill="#a0a0a0"/>
<line x1="2281.3" y1="406" x2="2281.3" y2="617" stroke="#a0a0a0" stroke-width="2.5"/>
<line x1="2082" y1="614.4" x2="2286.8" y2="614.4" stroke="#a0a0a0" stroke-width="2.5"/>
<polygon points="2087.5,614.4 2098.5,610.4 2098.5,618.4" fill="#a0a0a0"/>
<polygon points="2281.3,614.4 2270.3,618.4 2270.3,610.4" fill="#a0a0a0"/>
<text x="2343" y="485.3" font-family="Liberation Sans" font-size="27" font-weight="normal" fill="#a0a0a0" text-anchor="start" textLength="17" lengthAdjust="spacingAndGlyphs">H</text>
<text x="2180.5" y="607.8" font-family="Liberation Sans" font-size="27" font-weight="normal" fill="#a0a0a0" text-anchor="start" textLength="13.5" lengthAdjust="spacingAndGlyphs">L</text>
<rect x="13.8" y="886.5" width="206.2" height="48.1" rx="12" ry="12" fill="#2b2a29"/>
<rect x="235.8" y="886.5" width="206.2" height="48.1" rx="12" ry="12" fill="#763933"/>
<rect x="13.8" y="947" width="206.2" height="48.1" rx="12" ry="12" fill="#29634d"/>
<rect x="235.8" y="947" width="206.2" height="48.1" rx="12" ry="12" fill="#2e3a80"/>
<rect x="1188" y="792.1" width="206.8" height="47.6" rx="12" ry="12" fill="#2b2a29"/>
<rect x="1411.2" y="792.1" width="206.8" height="47.6" rx="12" ry="12" fill="#763933"/>
<rect x="1188" y="851.8" width="206.8" height="47.6" rx="12" ry="12" fill="#29634d"/>
<rect x="1411.2" y="851.8" width="206.8" height="47.6" rx="12" ry="12" fill="#2e3a80"/>
<path d="M15.5,1057.4 L15.5,1058.4 L20.2,1059.6 L24.8,1060.7 L29.5,1061.4 L34.1,1061.6 L38.8,1061.4 L43.4,1060.7 L48.1,1059.6 L52.7,1058.4 L57.4,1059.6 L62,1060.7 L66.7,1061.4 L71.3,1061.6 L76,1061.4 L80.7,1060.7 L85.3,1059.6 L90,1058.4 L94.6,1059.6 L99.3,1060.7 L103.9,1061.4 L108.6,1061.6 L113.2,1061.4 L117.9,1060.7 L122.5,1059.6 L127.2,1058.4 C121.2,1079.4 118.3,1095 96.3,1101 L48.1,1101 C26.1,1095 21.5,1079.4 15.5,1057.4 Z" fill="#737373"/>
<polygon points="154,1090.3 178.8,1067.9 178.8,1079.6 246.1,1079.6 246.1,1067.9 270.9,1090.3 246.1,1112.7 246.1,1101 178.8,1101 178.8,1112.7" fill="#737373"/>
<text x="191.5" y="1072.8" font-family="Liberation Sans" font-size="34" font-weight="normal" fill="#737373" text-anchor="start" textLength="36" lengthAdjust="spacingAndGlyphs">L1</text>
<polygon points="308.7,1090.3 333.5,1067.9 333.5,1079.6 400.8,1079.6 400.8,1067.9 425.6,1090.3 400.8,1112.7 400.8,1101 333.5,1101 333.5,1112.7" fill="#737373"/>
<text x="344.5" y="1072.8" font-family="Liberation Sans" font-size="34" font-weight="normal" fill="#737373" text-anchor="start" textLength="39" lengthAdjust="spacingAndGlyphs">L2</text>
<polygon points="512.2,1035 533.7,1058.4 524.2,1058.4 524.2,1101.6 533.7,1101.6 512.2,1125 490.7,1101.6 500.2,1101.6 500.2,1058.4 490.7,1058.4" fill="#737373"/>
<text x="531.5" y="1092.8" font-family="Liberation Sans" font-size="34" font-weight="normal" fill="#737373" text-anchor="start" textLength="41" lengthAdjust="spacingAndGlyphs">H1</text>
<polygon points="667.6,1035 689.1,1058.4 679.6,1058.4 679.6,1101.6 689.1,1101.6 667.6,1125 646.1,1101.6 655.6,1101.6 655.6,1058.4 646.1,1058.4" fill="#737373"/>
<text x="686.5" y="1092.8" font-family="Liberation Sans" font-size="34" font-weight="normal" fill="#737373" text-anchor="start" textLength="44" lengthAdjust="spacingAndGlyphs">H2</text>
<path d="M1227.4,958 L1227.4,959 L1232.1,960.2 L1236.7,961.3 L1241.4,962 L1246.1,962.2 L1250.7,962 L1255.4,961.3 L1260.1,960.2 L1264.7,959 L1269.4,960.2 L1274.1,961.3 L1278.7,962 L1283.4,962.2 L1288.1,962 L1292.7,961.3 L1297.4,960.2 L1302.1,959 L1306.7,960.2 L1311.4,961.3 L1316.1,962 L1320.7,962.2 L1325.4,962 L1330.1,961.3 L1334.7,960.2 L1339.4,959 C1333.4,980 1331.2,995.7 1309.2,1001.7 L1266.2,1001.7 C1244.2,995.7 1233.4,980 1227.4,958 Z" fill="#737373"/>
<polygon points="1435,989.6 1459.8,967.2 1459.8,978.9 1527.1,978.9 1527.1,967.2 1551.9,989.6 1527.1,1012 1527.1,1000.3 1459.8,1000.3 1459.8,1012" fill="#737373"/>
<text x="1478" y="972.4" font-family="Liberation Sans" font-size="34" font-weight="normal" fill="#737373" text-anchor="start" textLength="18" lengthAdjust="spacingAndGlyphs">L</text>
<polygon points="1714.2,935.1 1735.7,958.5 1726.2,958.5 1726.2,1001.3 1735.7,1001.3 1714.2,1024.7 1692.7,1001.3 1702.2,1001.3 1702.2,958.5 1692.7,958.5" fill="#737373"/>
<text x="1733.5" y="992.5" font-family="Liberation Sans" font-size="34" font-weight="normal" fill="#737373" text-anchor="start" textLength="22" lengthAdjust="spacingAndGlyphs">H</text>
<rect x="7" y="1131.3" width="751" height="12.7" fill="#b1b2b1"/>
<rect x="7" y="1144" width="127" height="174.6" fill="#d9dad9"/>
<rect x="134" y="1225.8" width="624" height="5.2" fill="#d9dad9"/>
<rect x="134" y="1313.5" width="624" height="5.1" fill="#d9dad9"/>
<line x1="140" y1="1160" x2="756" y2="1160" stroke="#d0d0d0" stroke-width="0.8" stroke-dasharray="1 5"/>
<line x1="140" y1="1213" x2="756" y2="1213" stroke="#d0d0d0" stroke-width="0.8" stroke-dasharray="1 5"/>
<line x1="140" y1="1246" x2="756" y2="1246" stroke="#d0d0d0" stroke-width="0.8" stroke-dasharray="1 5"/>
<line x1="140" y1="1299" x2="756" y2="1299" stroke="#d0d0d0" stroke-width="0.8" stroke-dasharray="1 5"/>
<text x="23" y="1210.3" font-family="Liberation Sans" font-size="62" font-weight="normal" fill="#737373" text-anchor="start" textLength="94.9" lengthAdjust="spacingAndGlyphs">600</text>
<text x="164" y="1210.3" font-family="Liberation Sans" font-size="62" font-weight="normal" fill="#737373" text-anchor="start" textLength="94.8" lengthAdjust="spacingAndGlyphs">230</text>
<text x="318.7" y="1210.3" font-family="Liberation Sans" font-size="62" font-weight="normal" fill="#737373" text-anchor="start" textLength="96.5" lengthAdjust="spacingAndGlyphs">300</text>
<text x="473.4" y="1210.3" font-family="Liberation Sans" font-size="62" font-weight="normal" fill="#737373" text-anchor="start" textLength="96.5" lengthAdjust="spacingAndGlyphs">370</text>
<text x="629.8" y="1210.3" font-family="Liberation Sans" font-size="62" font-weight="normal" fill="#737373" text-anchor="start" textLength="94.8" lengthAdjust="spacingAndGlyphs">600</text>
<text x="23" y="1298" font-family="Liberation Sans" font-size="62" font-weight="normal" fill="#737373" text-anchor="start" textLength="94.9" lengthAdjust="spacingAndGlyphs">750</text>
<text x="164" y="1298" font-family="Liberation Sans" font-size="62" font-weight="normal" fill="#737373" text-anchor="start" textLength="94.8" lengthAdjust="spacingAndGlyphs">230</text>
<text x="318.7" y="1298" font-family="Liberation Sans" font-size="62" font-weight="normal" fill="#737373" text-anchor="start" textLength="96.5" lengthAdjust="spacingAndGlyphs">300</text>
<text x="473.4" y="1298" font-family="Liberation Sans" font-size="62" font-weight="normal" fill="#737373" text-anchor="start" textLength="96.5" lengthAdjust="spacingAndGlyphs">370</text>
<text x="629.8" y="1298" font-family="Liberation Sans" font-size="62" font-weight="normal" fill="#737373" text-anchor="start" textLength="94.8" lengthAdjust="spacingAndGlyphs">600</text>
<rect x="1188" y="1031.3" width="651" height="12.3" fill="#b1b2b1"/>
<rect x="1188" y="1043.6" width="188.7" height="86.8" fill="#d9dad9"/>
<rect x="1376.7" y="1124.6" width="462.4" height="5.8" fill="#d9dad9"/>
<line x1="1385" y1="1060" x2="1836" y2="1060" stroke="#d0d0d0" stroke-width="0.8" stroke-dasharray="1 5"/>
<line x1="1385" y1="1113" x2="1836" y2="1113" stroke="#d0d0d0" stroke-width="0.8" stroke-dasharray="1 5"/>
<text x="1235" y="1109.7" font-family="Liberation Sans" font-size="62" font-weight="normal" fill="#737373" text-anchor="start" textLength="95.3" lengthAdjust="spacingAndGlyphs">900</text>
<text x="1444.6" y="1109.7" font-family="Liberation Sans" font-size="62" font-weight="normal" fill="#737373" text-anchor="start" textLength="95.4" lengthAdjust="spacingAndGlyphs">370</text>
<text x="1675.8" y="1109.7" font-family="Liberation Sans" font-size="62" font-weight="normal" fill="#737373" text-anchor="start" textLength="95.4" lengthAdjust="spacingAndGlyphs">260</text>
</svg></body></html>
